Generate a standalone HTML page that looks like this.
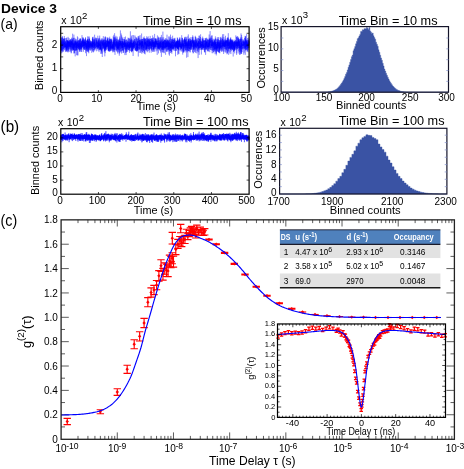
<!DOCTYPE html>
<html><head><meta charset="utf-8"><title>Device 3</title>
<style>html,body{margin:0;padding:0;background:#fff;}svg{display:block;font-family:'Liberation Sans', sans-serif;will-change:transform;}</style></head><body>
<svg width="464" height="469" viewBox="0 0 464 469" style="font-family:'Liberation Sans', sans-serif">
<rect x="0" y="0" width="464" height="469" fill="#fff"/>
<text x="1" y="13.2" font-size="13.6" font-weight="bold" textLength="56" lengthAdjust="spacingAndGlyphs">Device 3</text>
<text x="0.6" y="29.1" font-size="15" textLength="17" lengthAdjust="spacingAndGlyphs">(a)</text>
<text x="0.6" y="131.7" font-size="16" textLength="18.6" lengthAdjust="spacingAndGlyphs">(b)</text>
<text x="0.6" y="225.6" font-size="16" textLength="16.6" lengthAdjust="spacingAndGlyphs">(c)</text>
<polyline fill="none" stroke="#0000ff" stroke-width="0.26" stroke-linejoin="bevel" points="60.7,38.2 60.8,46.4 60.8,44.5 60.8,43.1 60.9,47.6 60.9,44.6 60.9,44.6 61.0,51.3 61.0,40.8 61.1,42.3 61.1,47.0 61.1,45.3 61.2,42.7 61.2,45.6 61.2,45.6 61.3,50.2 61.3,42.5 61.4,44.2 61.4,43.6 61.4,50.5 61.5,38.3 61.5,44.0 61.5,46.1 61.6,36.9 61.6,44.8 61.7,50.2 61.7,46.2 61.7,53.4 61.8,40.6 61.8,46.2 61.8,47.5 61.9,40.5 61.9,50.9 62.0,42.6 62.0,52.5 62.0,47.2 62.1,49.2 62.1,39.1 62.2,37.9 62.2,45.9 62.2,41.4 62.3,45.3 62.3,42.5 62.3,47.5 62.4,51.1 62.4,51.5 62.5,43.2 62.5,36.1 62.5,43.6 62.6,46.6 62.6,37.3 62.6,43.7 62.7,44.2 62.7,43.7 62.8,45.1 62.8,45.8 62.8,50.1 62.9,42.7 62.9,45.0 62.9,40.1 63.0,46.0 63.0,51.9 63.1,45.0 63.1,38.2 63.1,46.1 63.2,48.0 63.2,49.2 63.2,48.6 63.3,45.8 63.3,49.1 63.4,38.9 63.4,45.7 63.4,44.2 63.5,39.1 63.5,38.9 63.5,45.4 63.6,43.4 63.6,41.8 63.7,45.4 63.7,51.4 63.7,42.1 63.8,41.2 63.8,43.0 63.8,48.2 63.9,45.4 63.9,46.9 64.0,45.8 64.0,39.7 64.0,38.8 64.1,42.1 64.1,42.5 64.1,42.1 64.2,44.7 64.2,44.9 64.3,47.2 64.3,44.8 64.3,36.0 64.4,41.3 64.4,45.9 64.4,46.4 64.5,47.9 64.5,43.2 64.6,43.1 64.6,50.1 64.6,42.8 64.7,46.8 64.7,39.2 64.8,44.0 64.8,38.1 64.8,46.4 64.9,45.7 64.9,43.5 64.9,40.6 65.0,42.5 65.0,49.3 65.1,43.9 65.1,44.5 65.1,46.3 65.2,47.1 65.2,38.0 65.2,46.1 65.3,47.9 65.3,42.2 65.4,44.1 65.4,44.9 65.4,41.7 65.5,42.8 65.5,43.3 65.5,41.0 65.6,43.5 65.6,47.0 65.7,46.0 65.7,46.6 65.7,43.8 65.8,48.7 65.8,51.6 65.8,44.3 65.9,49.7 65.9,52.1 66.0,43.2 66.0,47.3 66.0,42.7 66.1,46.7 66.1,48.9 66.1,49.4 66.2,46.6 66.2,45.7 66.3,47.8 66.3,45.7 66.3,50.5 66.4,44.6 66.4,51.5 66.4,45.4 66.5,42.0 66.5,40.5 66.6,38.1 66.6,50.6 66.6,41.7 66.7,40.0 66.7,40.9 66.7,48.2 66.8,43.1 66.8,37.5 66.9,50.3 66.9,42.8 66.9,40.4 67.0,47.3 67.0,42.4 67.0,48.7 67.1,47.7 67.1,47.7 67.2,43.9 67.2,45.0 67.2,41.0 67.3,48.2 67.3,45.1 67.4,41.0 67.4,42.5 67.4,49.7 67.5,42.1 67.5,46.5 67.5,43.2 67.6,43.5 67.6,40.0 67.7,44.2 67.7,51.7 67.7,49.9 67.8,41.8 67.8,45.6 67.8,40.3 67.9,43.6 67.9,47.5 68.0,40.5 68.0,47.7 68.0,52.5 68.1,36.8 68.1,51.9 68.1,42.2 68.2,41.1 68.2,44.1 68.3,51.0 68.3,40.8 68.3,50.1 68.4,49.8 68.4,46.0 68.4,41.6 68.5,43.5 68.5,41.5 68.6,46.3 68.6,45.3 68.6,49.0 68.7,45.8 68.7,42.4 68.7,45.8 68.8,42.8 68.8,46.8 68.9,46.9 68.9,44.5 68.9,45.4 69.0,42.4 69.0,44.0 69.0,38.0 69.1,45.5 69.1,45.5 69.2,48.6 69.2,44.5 69.2,42.0 69.3,47.5 69.3,44.8 69.3,41.9 69.4,45.1 69.4,46.6 69.5,40.9 69.5,44.3 69.5,43.1 69.6,40.2 69.6,40.3 69.6,46.0 69.7,46.6 69.7,43.5 69.8,45.1 69.8,51.9 69.8,39.8 69.9,44.6 69.9,41.8 70.0,49.1 70.0,39.7 70.0,46.9 70.1,45.0 70.1,50.0 70.1,45.3 70.2,45.5 70.2,45.3 70.3,43.0 70.3,44.4 70.3,40.9 70.4,46.4 70.4,48.4 70.4,44.7 70.5,42.2 70.5,39.9 70.6,41.5 70.6,51.4 70.6,43.2 70.7,39.1 70.7,44.4 70.7,46.6 70.8,43.5 70.8,46.5 70.9,42.2 70.9,44.7 70.9,39.3 71.0,42.7 71.0,47.4 71.0,42.3 71.1,41.1 71.1,46.8 71.2,46.3 71.2,53.4 71.2,41.2 71.3,46.9 71.3,52.7 71.3,51.4 71.4,45.5 71.4,41.7 71.5,45.0 71.5,42.8 71.5,48.8 71.6,49.7 71.6,41.3 71.6,42.8 71.7,44.7 71.7,39.7 71.8,48.3 71.8,46.2 71.8,40.7 71.9,37.6 71.9,44.6 71.9,38.2 72.0,46.9 72.0,43.4 72.1,45.3 72.1,50.7 72.1,43.6 72.2,41.1 72.2,45.2 72.2,44.9 72.3,39.3 72.3,49.4 72.4,50.3 72.4,47.1 72.4,49.2 72.5,39.5 72.5,43.5 72.6,47.9 72.6,47.0 72.6,33.7 72.7,47.0 72.7,47.5 72.7,43.5 72.8,42.2 72.8,43.8 72.9,48.1 72.9,49.0 72.9,42.4 73.0,44.8 73.0,50.9 73.0,40.2 73.1,41.7 73.1,45.5 73.2,45.6 73.2,43.7 73.2,47.2 73.3,49.8 73.3,43.4 73.3,50.1 73.4,43.1 73.4,50.1 73.5,45.0 73.5,45.1 73.5,37.8 73.6,48.7 73.6,50.0 73.6,47.1 73.7,48.9 73.7,46.9 73.8,43.0 73.8,41.7 73.8,38.3 73.9,47.4 73.9,34.6 73.9,37.1 74.0,45.4 74.0,53.4 74.1,44.9 74.1,44.4 74.1,53.4 74.2,44.3 74.2,45.4 74.2,47.6 74.3,42.2 74.3,40.8 74.4,46.5 74.4,43.8 74.4,47.1 74.5,47.6 74.5,44.3 74.5,42.6 74.6,46.8 74.6,53.1 74.7,42.4 74.7,50.7 74.7,44.2 74.8,37.8 74.8,44.7 74.8,49.2 74.9,50.2 74.9,40.2 75.0,44.7 75.0,42.6 75.0,41.1 75.1,44.8 75.1,45.8 75.2,48.2 75.2,56.4 75.2,50.4 75.3,44.9 75.3,45.3 75.3,43.1 75.4,45.1 75.4,44.0 75.5,41.6 75.5,48.0 75.5,45.7 75.6,50.8 75.6,40.9 75.6,44.5 75.7,42.8 75.7,38.8 75.8,40.5 75.8,44.9 75.8,41.6 75.9,50.1 75.9,43.0 75.9,44.1 76.0,50.8 76.0,39.5 76.1,47.3 76.1,42.0 76.1,46.2 76.2,40.8 76.2,39.6 76.2,47.8 76.3,50.5 76.3,45.1 76.4,41.4 76.4,46.0 76.4,47.0 76.5,42.8 76.5,55.2 76.5,47.2 76.6,49.9 76.6,43.5 76.7,47.4 76.7,48.9 76.7,46.0 76.8,50.2 76.8,44.7 76.8,47.2 76.9,46.1 76.9,47.4 77.0,41.2 77.0,45.0 77.0,42.6 77.1,42.8 77.1,47.7 77.1,42.5 77.2,43.3 77.2,43.4 77.3,46.2 77.3,46.3 77.3,41.6 77.4,36.3 77.4,47.8 77.4,42.6 77.5,46.0 77.5,41.6 77.6,43.0 77.6,40.6 77.6,55.3 77.7,46.9 77.7,48.4 77.8,45.0 77.8,47.4 77.8,47.1 77.9,42.0 77.9,37.4 77.9,55.4 78.0,45.8 78.0,43.4 78.1,44.6 78.1,45.9 78.1,49.8 78.2,48.2 78.2,41.9 78.2,40.5 78.3,44.3 78.3,47.8 78.4,44.3 78.4,45.5 78.4,42.6 78.5,44.2 78.5,47.0 78.5,43.9 78.6,49.1 78.6,41.5 78.7,40.1 78.7,49.1 78.7,43.0 78.8,48.4 78.8,40.5 78.8,41.2 78.9,45.5 78.9,40.8 79.0,46.3 79.0,47.1 79.0,46.8 79.1,45.2 79.1,45.9 79.1,44.0 79.2,47.0 79.2,41.7 79.3,40.7 79.3,46.5 79.3,50.1 79.4,41.9 79.4,40.3 79.4,45.3 79.5,49.5 79.5,43.6 79.6,38.8 79.6,51.8 79.6,42.8 79.7,45.8 79.7,47.9 79.7,42.7 79.8,49.6 79.8,43.5 79.9,39.6 79.9,44.0 79.9,48.0 80.0,51.4 80.0,49.5 80.0,51.6 80.1,38.5 80.1,45.6 80.2,48.6 80.2,49.6 80.2,48.7 80.3,45.9 80.3,49.5 80.4,38.2 80.4,47.5 80.4,47.6 80.5,43.5 80.5,39.1 80.5,39.6 80.6,46.5 80.6,43.7 80.7,44.1 80.7,42.6 80.7,43.7 80.8,48.2 80.8,49.4 80.8,44.0 80.9,49.1 80.9,39.4 81.0,44.5 81.0,48.5 81.0,45.9 81.1,46.6 81.1,45.1 81.1,41.0 81.2,50.1 81.2,51.8 81.3,43.3 81.3,45.3 81.3,44.0 81.4,42.9 81.4,45.3 81.4,41.6 81.5,48.0 81.5,44.4 81.6,47.8 81.6,48.9 81.6,42.3 81.7,42.5 81.7,52.0 81.7,48.9 81.8,43.5 81.8,40.6 81.9,47.2 81.9,45.3 81.9,50.0 82.0,35.1 82.0,42.8 82.0,41.2 82.1,42.1 82.1,41.1 82.2,42.3 82.2,45.9 82.2,41.8 82.3,44.3 82.3,39.7 82.3,47.4 82.4,46.7 82.4,42.1 82.5,39.8 82.5,44.1 82.5,47.3 82.6,45.1 82.6,46.5 82.6,37.4 82.7,41.2 82.7,39.8 82.8,43.5 82.8,46.7 82.8,40.2 82.9,38.3 82.9,42.4 83.0,44.7 83.0,40.5 83.0,46.0 83.1,41.7 83.1,47.3 83.1,48.3 83.2,42.5 83.2,43.3 83.3,37.4 83.3,45.7 83.3,44.5 83.4,49.0 83.4,51.8 83.4,51.4 83.5,42.9 83.5,49.1 83.6,40.3 83.6,39.2 83.6,45.7 83.7,38.3 83.7,43.8 83.7,40.3 83.8,45.5 83.8,41.0 83.9,48.2 83.9,42.3 83.9,46.4 84.0,45.1 84.0,42.2 84.0,44.0 84.1,44.9 84.1,41.9 84.2,41.6 84.2,49.9 84.2,42.5 84.3,42.1 84.3,47.5 84.3,43.2 84.4,49.7 84.4,39.1 84.5,45.5 84.5,44.9 84.5,40.1 84.6,45.2 84.6,42.3 84.6,48.6 84.7,46.8 84.7,49.9 84.8,45.4 84.8,40.7 84.8,43.8 84.9,41.3 84.9,48.5 84.9,48.0 85.0,46.4 85.0,42.4 85.1,43.3 85.1,44.7 85.1,42.3 85.2,45.2 85.2,44.7 85.2,39.7 85.3,46.9 85.3,43.9 85.4,38.5 85.4,44.2 85.4,41.9 85.5,46.9 85.5,37.2 85.5,53.2 85.6,49.0 85.6,48.6 85.7,38.5 85.7,43.3 85.7,45.6 85.8,49.5 85.8,43.2 85.9,44.2 85.9,47.3 85.9,50.3 86.0,48.8 86.0,43.8 86.0,43.4 86.1,44.4 86.1,45.2 86.2,51.4 86.2,44.4 86.2,48.6 86.3,44.5 86.3,42.9 86.3,47.2 86.4,48.5 86.4,40.8 86.5,43.3 86.5,47.1 86.5,56.1 86.6,44.8 86.6,42.2 86.6,40.4 86.7,47.2 86.7,47.1 86.8,46.3 86.8,41.4 86.8,49.1 86.9,45.1 86.9,48.2 86.9,43.6 87.0,50.6 87.0,43.2 87.1,46.5 87.1,45.5 87.1,42.6 87.2,40.3 87.2,51.1 87.2,40.8 87.3,42.5 87.3,45.8 87.4,39.3 87.4,43.9 87.4,39.7 87.5,46.9 87.5,47.9 87.5,40.0 87.6,36.4 87.6,42.2 87.7,41.2 87.7,46.4 87.7,49.7 87.8,45.5 87.8,38.9 87.8,51.7 87.9,46.5 87.9,51.9 88.0,44.2 88.0,41.3 88.0,49.4 88.1,46.2 88.1,39.6 88.1,45.0 88.2,49.4 88.2,49.6 88.3,52.3 88.3,41.7 88.3,47.5 88.4,40.6 88.4,41.3 88.5,47.1 88.5,46.6 88.5,41.7 88.6,44.1 88.6,43.6 88.6,50.9 88.7,41.2 88.7,48.0 88.8,53.3 88.8,47.0 88.8,43.0 88.9,36.6 88.9,46.1 88.9,49.7 89.0,36.5 89.0,44.0 89.1,45.6 89.1,48.7 89.1,48.5 89.2,39.0 89.2,45.7 89.2,46.7 89.3,46.6 89.3,38.7 89.4,46.9 89.4,42.2 89.4,43.6 89.5,43.7 89.5,48.0 89.5,42.1 89.6,38.5 89.6,44.8 89.7,48.1 89.7,49.6 89.7,43.9 89.8,45.7 89.8,45.0 89.8,44.6 89.9,50.3 89.9,41.7 90.0,43.7 90.0,44.9 90.0,43.7 90.1,41.1 90.1,44.4 90.1,47.9 90.2,40.2 90.2,46.3 90.3,47.4 90.3,50.6 90.3,44.6 90.4,48.6 90.4,46.6 90.4,42.9 90.5,44.5 90.5,40.8 90.6,43.5 90.6,46.2 90.6,45.9 90.7,46.6 90.7,42.2 90.7,44.5 90.8,46.2 90.8,41.4 90.9,44.3 90.9,46.4 90.9,50.4 91.0,43.0 91.0,43.7 91.1,44.4 91.1,46.3 91.1,47.8 91.2,45.5 91.2,43.7 91.2,45.1 91.3,45.2 91.3,46.4 91.4,43.3 91.4,43.7 91.4,47.5 91.5,41.7 91.5,41.6 91.5,41.5 91.6,45.1 91.6,45.4 91.7,49.0 91.7,41.8 91.7,52.8 91.8,46.1 91.8,45.9 91.8,41.4 91.9,44.6 91.9,48.3 92.0,50.1 92.0,47.4 92.0,44.2 92.1,44.4 92.1,45.4 92.1,47.2 92.2,45.4 92.2,40.8 92.3,48.8 92.3,44.5 92.3,38.5 92.4,42.5 92.4,46.4 92.4,42.1 92.5,47.5 92.5,44.6 92.6,38.7 92.6,37.4 92.6,51.1 92.7,42.0 92.7,37.2 92.7,46.7 92.8,43.6 92.8,38.9 92.9,46.5 92.9,42.9 92.9,44.9 93.0,52.0 93.0,43.3 93.0,45.3 93.1,41.1 93.1,36.7 93.2,42.0 93.2,46.0 93.2,42.9 93.3,43.9 93.3,40.7 93.3,50.1 93.4,49.1 93.4,52.4 93.5,42.3 93.5,44.7 93.5,47.1 93.6,47.4 93.6,46.8 93.7,48.2 93.7,45.9 93.7,46.5 93.8,39.3 93.8,43.4 93.8,47.8 93.9,46.9 93.9,40.1 94.0,42.9 94.0,43.5 94.0,41.9 94.1,38.6 94.1,49.3 94.1,47.5 94.2,51.3 94.2,42.7 94.3,46.1 94.3,47.2 94.3,47.5 94.4,42.0 94.4,45.2 94.4,46.7 94.5,39.8 94.5,48.6 94.6,49.5 94.6,34.7 94.6,46.0 94.7,46.7 94.7,47.4 94.7,45.2 94.8,41.6 94.8,41.8 94.9,42.6 94.9,45.7 94.9,50.3 95.0,43.6 95.0,38.8 95.0,40.6 95.1,45.3 95.1,41.6 95.2,46.1 95.2,44.8 95.2,49.3 95.3,45.8 95.3,44.1 95.3,45.3 95.4,41.7 95.4,37.5 95.5,39.6 95.5,45.8 95.5,47.4 95.6,47.1 95.6,48.4 95.6,44.5 95.7,43.0 95.7,43.9 95.8,43.9 95.8,44.0 95.8,45.1 95.9,47.5 95.9,38.1 95.9,40.6 96.0,48.1 96.0,48.1 96.1,46.9 96.1,44.5 96.1,39.8 96.2,40.8 96.2,40.6 96.3,40.5 96.3,40.4 96.3,41.8 96.4,42.9 96.4,45.1 96.4,51.3 96.5,45.1 96.5,37.8 96.6,46.7 96.6,47.0 96.6,40.8 96.7,44.3 96.7,46.5 96.7,38.7 96.8,42.3 96.8,41.7 96.9,46.8 96.9,42.7 96.9,43.2 97.0,41.7 97.0,40.3 97.0,40.3 97.1,44.0 97.1,42.0 97.2,49.0 97.2,42.2 97.2,42.0 97.3,46.1 97.3,47.6 97.3,44.9 97.4,49.3 97.4,43.3 97.5,43.5 97.5,48.2 97.5,44.4 97.6,40.6 97.6,40.6 97.6,40.8 97.7,45.2 97.7,45.9 97.8,46.1 97.8,42.4 97.8,35.7 97.9,39.3 97.9,38.6 97.9,39.5 98.0,50.8 98.0,45.4 98.1,46.3 98.1,39.9 98.1,38.2 98.2,47.2 98.2,44.5 98.2,42.5 98.3,46.5 98.3,47.0 98.4,47.2 98.4,41.3 98.4,48.1 98.5,40.3 98.5,44.3 98.5,41.8 98.6,38.7 98.6,47.2 98.7,47.7 98.7,43.0 98.7,48.6 98.8,47.4 98.8,45.1 98.9,44.0 98.9,49.4 98.9,46.1 99.0,42.4 99.0,39.5 99.0,52.1 99.1,39.7 99.1,41.3 99.2,48.8 99.2,50.2 99.2,43.0 99.3,46.2 99.3,44.1 99.3,41.4 99.4,46.0 99.4,44.0 99.5,42.8 99.5,41.3 99.5,37.9 99.6,38.2 99.6,43.7 99.6,45.5 99.7,35.6 99.7,42.2 99.8,43.0 99.8,48.8 99.8,41.7 99.9,47.6 99.9,46.4 99.9,49.7 100.0,46.6 100.0,44.4 100.1,50.3 100.1,48.0 100.1,44.9 100.2,49.4 100.2,49.4 100.2,47.8 100.3,50.0 100.3,42.3 100.4,48.4 100.4,41.7 100.4,41.1 100.5,49.2 100.5,44.5 100.5,46.4 100.6,48.9 100.6,45.9 100.7,45.5 100.7,41.9 100.7,40.7 100.8,48.8 100.8,46.2 100.8,42.6 100.9,40.2 100.9,53.9 101.0,39.8 101.0,45.3 101.0,38.8 101.1,46.2 101.1,47.8 101.1,44.5 101.2,40.2 101.2,44.5 101.3,53.6 101.3,42.0 101.3,50.8 101.4,48.4 101.4,49.1 101.5,51.6 101.5,49.4 101.5,48.4 101.6,47.0 101.6,44.8 101.6,45.9 101.7,50.3 101.7,45.3 101.8,40.9 101.8,41.0 101.8,44.1 101.9,42.3 101.9,41.2 101.9,39.4 102.0,38.2 102.0,45.9 102.1,45.7 102.1,39.0 102.1,38.7 102.2,38.8 102.2,53.6 102.2,45.5 102.3,57.0 102.3,41.8 102.4,44.4 102.4,44.4 102.4,45.2 102.5,39.7 102.5,45.7 102.5,40.7 102.6,42.5 102.6,43.3 102.7,42.9 102.7,44.2 102.7,48.8 102.8,41.9 102.8,41.9 102.8,45.2 102.9,41.8 102.9,41.2 103.0,49.5 103.0,45.2 103.0,46.3 103.1,48.1 103.1,43.4 103.1,47.8 103.2,46.3 103.2,43.7 103.3,43.3 103.3,43.4 103.3,36.1 103.4,46.6 103.4,43.7 103.4,49.2 103.5,42.8 103.5,40.2 103.6,40.0 103.6,47.1 103.6,45.7 103.7,39.8 103.7,45.0 103.7,41.0 103.8,48.3 103.8,39.4 103.9,40.7 103.9,42.9 103.9,47.7 104.0,45.2 104.0,44.1 104.1,43.6 104.1,45.0 104.1,45.5 104.2,43.9 104.2,39.3 104.2,52.3 104.3,49.9 104.3,50.5 104.4,47.2 104.4,51.3 104.4,42.5 104.5,44.3 104.5,45.6 104.5,47.2 104.6,44.0 104.6,44.0 104.7,43.4 104.7,47.4 104.7,42.2 104.8,50.2 104.8,39.9 104.8,56.4 104.9,46.9 104.9,49.2 105.0,41.6 105.0,50.3 105.0,37.7 105.1,50.5 105.1,36.9 105.1,42.9 105.2,44.5 105.2,43.0 105.3,36.3 105.3,41.2 105.3,53.1 105.4,40.1 105.4,43.7 105.4,50.8 105.5,41.7 105.5,49.2 105.6,43.9 105.6,43.7 105.6,47.1 105.7,42.2 105.7,48.5 105.7,43.9 105.8,46.7 105.8,45.3 105.9,37.3 105.9,44.2 105.9,48.8 106.0,45.1 106.0,47.6 106.0,44.5 106.1,44.0 106.1,44.3 106.2,44.3 106.2,46.7 106.2,42.9 106.3,40.6 106.3,47.0 106.3,44.9 106.4,44.4 106.4,39.9 106.5,40.5 106.5,47.4 106.5,44.4 106.6,50.3 106.6,48.3 106.7,44.6 106.7,42.2 106.7,41.0 106.8,45.8 106.8,49.8 106.8,43.1 106.9,45.3 106.9,43.0 107.0,44.0 107.0,41.9 107.0,42.1 107.1,41.4 107.1,46.4 107.1,40.8 107.2,46.5 107.2,44.3 107.3,37.5 107.3,43.3 107.3,49.1 107.4,38.9 107.4,40.8 107.4,40.3 107.5,43.9 107.5,43.3 107.6,45.5 107.6,47.3 107.6,38.8 107.7,46.0 107.7,46.5 107.7,46.3 107.8,37.5 107.8,41.3 107.9,46.0 107.9,44.8 107.9,42.7 108.0,41.3 108.0,50.8 108.0,41.2 108.1,45.5 108.1,47.2 108.2,46.1 108.2,41.6 108.2,37.9 108.3,44.1 108.3,42.5 108.3,47.7 108.4,42.8 108.4,41.5 108.5,50.3 108.5,46.6 108.5,41.6 108.6,51.3 108.6,46.1 108.6,42.3 108.7,51.1 108.7,46.1 108.8,44.4 108.8,41.2 108.8,49.5 108.9,40.4 108.9,43.5 108.9,40.1 109.0,40.2 109.0,43.3 109.1,42.8 109.1,51.3 109.1,49.8 109.2,48.5 109.2,46.0 109.3,41.1 109.3,51.4 109.3,45.9 109.4,49.7 109.4,50.6 109.4,39.0 109.5,44.3 109.5,38.4 109.6,40.1 109.6,48.1 109.6,51.7 109.7,36.7 109.7,46.2 109.7,49.0 109.8,42.0 109.8,44.1 109.9,47.2 109.9,45.9 109.9,44.0 110.0,44.3 110.0,41.8 110.0,46.0 110.1,45.9 110.1,42.3 110.2,43.4 110.2,40.5 110.2,45.6 110.3,45.0 110.3,49.0 110.3,38.9 110.4,49.9 110.4,43.9 110.5,48.0 110.5,43.3 110.5,41.8 110.6,50.9 110.6,45.4 110.6,51.3 110.7,39.3 110.7,46.3 110.8,50.6 110.8,47.3 110.8,39.6 110.9,39.0 110.9,39.8 110.9,47.6 111.0,45.2 111.0,38.4 111.1,47.4 111.1,45.9 111.1,48.3 111.2,49.1 111.2,40.0 111.2,42.2 111.3,42.9 111.3,42.4 111.4,40.7 111.4,38.9 111.4,44.7 111.5,45.9 111.5,48.5 111.5,40.5 111.6,46.6 111.6,50.3 111.7,45.7 111.7,44.5 111.7,41.5 111.8,40.8 111.8,47.4 111.9,47.7 111.9,45.9 111.9,49.2 112.0,45.0 112.0,42.9 112.0,44.5 112.1,50.8 112.1,49.2 112.2,39.7 112.2,48.5 112.2,41.8 112.3,42.2 112.3,45.9 112.3,48.4 112.4,43.8 112.4,48.0 112.5,45.3 112.5,44.2 112.5,47.4 112.6,45.5 112.6,45.8 112.6,49.3 112.7,45.4 112.7,47.1 112.8,51.6 112.8,45.9 112.8,45.7 112.9,46.9 112.9,52.5 112.9,41.7 113.0,42.0 113.0,42.2 113.1,43.4 113.1,49.4 113.1,44.2 113.2,48.2 113.2,36.3 113.2,46.6 113.3,42.1 113.3,50.5 113.4,49.1 113.4,46.7 113.4,42.0 113.5,42.5 113.5,43.5 113.5,51.7 113.6,40.3 113.6,48.2 113.7,38.5 113.7,37.5 113.7,41.5 113.8,40.9 113.8,49.4 113.8,34.8 113.9,43.8 113.9,40.8 114.0,47.9 114.0,44.9 114.0,49.2 114.1,45.5 114.1,44.6 114.1,43.7 114.2,39.3 114.2,42.8 114.3,43.7 114.3,44.5 114.3,37.0 114.4,46.8 114.4,40.1 114.5,52.1 114.5,48.0 114.5,43.1 114.6,45.2 114.6,33.2 114.6,34.8 114.7,50.4 114.7,48.7 114.8,45.2 114.8,38.0 114.8,40.3 114.9,43.4 114.9,50.0 114.9,47.8 115.0,54.9 115.0,50.5 115.1,43.0 115.1,41.6 115.1,49.6 115.2,44.2 115.2,38.4 115.2,44.0 115.3,45.8 115.3,42.3 115.4,42.6 115.4,44.3 115.4,46.7 115.5,46.2 115.5,44.3 115.5,46.7 115.6,39.5 115.6,41.2 115.7,40.5 115.7,36.9 115.7,38.6 115.8,39.2 115.8,43.2 115.8,45.3 115.9,35.8 115.9,47.2 116.0,47.0 116.0,47.9 116.0,43.8 116.1,43.0 116.1,40.7 116.1,45.5 116.2,51.2 116.2,43.4 116.3,40.9 116.3,44.5 116.3,45.1 116.4,42.5 116.4,39.2 116.4,44.9 116.5,50.0 116.5,46.8 116.6,45.2 116.6,51.5 116.6,41.7 116.7,47.5 116.7,42.7 116.7,43.9 116.8,45.8 116.8,38.4 116.9,46.8 116.9,47.2 116.9,43.5 117.0,41.4 117.0,44.6 117.1,48.4 117.1,42.0 117.1,42.3 117.2,36.7 117.2,45.5 117.2,43.8 117.3,46.8 117.3,50.3 117.4,44.3 117.4,41.4 117.4,48.5 117.5,47.2 117.5,49.1 117.5,39.5 117.6,47.0 117.6,42.4 117.7,47.9 117.7,44.3 117.7,47.0 117.8,53.6 117.8,44.3 117.8,42.6 117.9,52.6 117.9,45.3 118.0,46.3 118.0,48.7 118.0,45.6 118.1,52.0 118.1,43.7 118.1,40.1 118.2,49.4 118.2,44.9 118.3,39.2 118.3,44.2 118.3,46.6 118.4,48.1 118.4,44.0 118.4,45.1 118.5,42.2 118.5,50.4 118.6,40.5 118.6,46.2 118.6,42.2 118.7,47.4 118.7,49.6 118.7,46.8 118.8,48.3 118.8,46.1 118.9,42.2 118.9,40.5 118.9,43.9 119.0,46.7 119.0,46.4 119.0,42.4 119.1,40.3 119.1,45.9 119.2,45.1 119.2,47.5 119.2,43.8 119.3,41.0 119.3,55.7 119.3,43.7 119.4,46.7 119.4,53.5 119.5,43.4 119.5,45.0 119.5,43.2 119.6,49.8 119.6,36.5 119.7,44.2 119.7,45.9 119.7,38.8 119.8,42.1 119.8,41.5 119.8,40.2 119.9,52.5 119.9,38.3 120.0,46.0 120.0,43.5 120.0,41.1 120.1,47.3 120.1,43.4 120.1,41.7 120.2,44.8 120.2,42.7 120.3,50.8 120.3,49.2 120.3,49.0 120.4,43.2 120.4,30.4 120.4,43.6 120.5,45.2 120.5,44.9 120.6,40.9 120.6,41.9 120.6,49.0 120.7,40.8 120.7,44.7 120.7,41.5 120.8,52.3 120.8,50.6 120.9,42.4 120.9,51.5 120.9,43.1 121.0,43.3 121.0,44.1 121.0,43.3 121.1,43.6 121.1,42.9 121.2,46.2 121.2,44.7 121.2,33.5 121.3,40.3 121.3,42.3 121.3,43.1 121.4,47.4 121.4,43.8 121.5,45.6 121.5,41.0 121.5,48.1 121.6,53.6 121.6,46.8 121.6,42.0 121.7,35.3 121.7,40.7 121.8,48.4 121.8,45.5 121.8,48.3 121.9,45.3 121.9,48.1 121.9,50.9 122.0,42.9 122.0,43.9 122.1,45.3 122.1,43.3 122.1,36.9 122.2,44.2 122.2,46.1 122.3,41.3 122.3,50.9 122.3,41.8 122.4,47.6 122.4,47.7 122.4,44.2 122.5,38.3 122.5,47.5 122.6,41.0 122.6,43.2 122.6,49.9 122.7,41.1 122.7,47.8 122.7,50.2 122.8,47.6 122.8,47.4 122.9,42.4 122.9,47.4 122.9,38.9 123.0,43.8 123.0,47.4 123.0,47.8 123.1,43.8 123.1,52.4 123.2,52.9 123.2,48.0 123.2,42.2 123.3,43.9 123.3,44.5 123.3,45.4 123.4,52.9 123.4,45.9 123.5,51.4 123.5,41.4 123.5,44.7 123.6,45.0 123.6,43.1 123.6,43.4 123.7,43.7 123.7,43.3 123.8,46.9 123.8,49.7 123.8,43.3 123.9,39.1 123.9,40.8 123.9,45.4 124.0,42.3 124.0,46.3 124.1,43.2 124.1,46.9 124.1,44.1 124.2,37.0 124.2,41.7 124.2,38.9 124.3,47.6 124.3,47.2 124.4,44.8 124.4,42.5 124.4,45.4 124.5,40.8 124.5,46.7 124.5,39.4 124.6,40.9 124.6,48.9 124.7,42.4 124.7,45.5 124.7,40.7 124.8,46.7 124.8,43.4 124.9,42.6 124.9,55.1 124.9,51.8 125.0,44.1 125.0,45.1 125.0,40.8 125.1,43.8 125.1,49.5 125.2,43.4 125.2,47.5 125.2,45.5 125.3,46.6 125.3,43.3 125.3,50.1 125.4,48.9 125.4,53.1 125.5,36.5 125.5,48.4 125.5,47.9 125.6,49.0 125.6,47.1 125.6,46.3 125.7,42.3 125.7,44.0 125.8,43.4 125.8,46.9 125.8,44.9 125.9,40.0 125.9,44.7 125.9,43.5 126.0,52.4 126.0,42.7 126.1,43.6 126.1,39.7 126.1,55.1 126.2,44.5 126.2,45.1 126.2,44.3 126.3,47.1 126.3,43.9 126.4,42.0 126.4,44.5 126.4,45.8 126.5,45.5 126.5,46.2 126.5,44.5 126.6,47.4 126.6,52.3 126.7,39.5 126.7,51.4 126.7,45.2 126.8,49.7 126.8,45.8 126.8,48.4 126.9,44.9 126.9,47.9 127.0,49.7 127.0,43.6 127.0,39.7 127.1,43.4 127.1,44.3 127.1,48.8 127.2,45.1 127.2,43.1 127.3,47.3 127.3,41.3 127.3,44.9 127.4,43.4 127.4,46.7 127.5,46.6 127.5,43.9 127.5,43.3 127.6,43.5 127.6,48.7 127.6,47.6 127.7,44.9 127.7,51.9 127.8,40.8 127.8,43.6 127.8,44.7 127.9,47.5 127.9,41.7 127.9,45.9 128.0,37.6 128.0,43.3 128.1,50.5 128.1,42.0 128.1,46.8 128.2,46.8 128.2,45.7 128.2,45.3 128.3,43.9 128.3,41.9 128.4,43.1 128.4,47.6 128.4,50.0 128.5,47.9 128.5,43.5 128.5,41.5 128.6,38.0 128.6,50.0 128.7,44.5 128.7,45.7 128.7,46.4 128.8,44.3 128.8,45.8 128.8,45.9 128.9,47.3 128.9,43.3 129.0,40.8 129.0,38.6 129.0,46.9 129.1,48.9 129.1,45.9 129.1,48.0 129.2,40.9 129.2,48.0 129.3,44.6 129.3,50.0 129.3,46.2 129.4,44.1 129.4,39.0 129.4,47.5 129.5,43.4 129.5,52.8 129.6,49.5 129.6,48.0 129.6,46.8 129.7,43.2 129.7,42.5 129.7,51.0 129.8,42.8 129.8,49.1 129.9,37.9 129.9,43.7 129.9,44.3 130.0,45.5 130.0,45.0 130.1,44.9 130.1,47.5 130.1,42.0 130.2,43.8 130.2,42.0 130.2,45.1 130.3,42.3 130.3,47.8 130.4,31.3 130.4,47.6 130.4,46.6 130.5,41.2 130.5,40.2 130.5,47.9 130.6,51.2 130.6,50.2 130.7,48.7 130.7,47.9 130.7,45.5 130.8,41.0 130.8,40.8 130.8,47.2 130.9,42.8 130.9,41.5 131.0,39.5 131.0,45.5 131.0,47.7 131.1,42.0 131.1,39.1 131.1,46.9 131.2,37.5 131.2,38.3 131.3,45.9 131.3,50.9 131.3,47.2 131.4,46.2 131.4,42.9 131.4,51.3 131.5,35.6 131.5,36.0 131.6,47.6 131.6,52.0 131.6,45.5 131.7,43.3 131.7,39.8 131.7,42.2 131.8,45.7 131.8,52.4 131.9,42.9 131.9,41.7 131.9,46.1 132.0,43.9 132.0,44.1 132.0,45.8 132.1,49.3 132.1,43.6 132.2,50.3 132.2,39.6 132.2,48.3 132.3,43.0 132.3,47.7 132.3,43.5 132.4,45.7 132.4,42.9 132.5,47.9 132.5,51.1 132.5,46.0 132.6,46.3 132.6,50.6 132.6,47.5 132.7,51.3 132.7,44.5 132.8,46.3 132.8,44.9 132.8,35.0 132.9,44.3 132.9,43.5 133.0,42.5 133.0,45.4 133.0,47.2 133.1,41.6 133.1,41.0 133.1,56.0 133.2,45.5 133.2,46.2 133.3,47.1 133.3,40.2 133.3,47.0 133.4,41.6 133.4,47.0 133.4,46.5 133.5,42.1 133.5,47.7 133.6,45.5 133.6,49.1 133.6,48.3 133.7,42.2 133.7,42.7 133.7,49.3 133.8,49.4 133.8,35.2 133.9,47.4 133.9,48.3 133.9,43.0 134.0,47.9 134.0,46.3 134.0,41.5 134.1,41.1 134.1,45.7 134.2,39.8 134.2,45.5 134.2,45.9 134.3,45.0 134.3,46.1 134.3,42.9 134.4,43.9 134.4,47.9 134.5,44.3 134.5,47.0 134.5,47.1 134.6,45.5 134.6,41.1 134.6,43.9 134.7,40.1 134.7,39.0 134.8,45.1 134.8,47.2 134.8,47.9 134.9,43.9 134.9,41.6 134.9,38.9 135.0,49.9 135.0,41.4 135.1,40.9 135.1,35.6 135.1,44.2 135.2,45.0 135.2,50.7 135.2,47.9 135.3,49.1 135.3,48.8 135.4,48.3 135.4,50.8 135.4,45.3 135.5,43.4 135.5,42.0 135.6,45.3 135.6,40.9 135.6,40.8 135.7,50.7 135.7,45.9 135.7,49.7 135.8,48.6 135.8,44.2 135.9,45.4 135.9,39.3 135.9,37.1 136.0,43.3 136.0,45.6 136.0,45.4 136.1,44.9 136.1,42.7 136.2,47.7 136.2,42.6 136.2,45.8 136.3,40.8 136.3,39.7 136.3,38.2 136.4,45.5 136.4,50.0 136.5,51.3 136.5,46.0 136.5,50.3 136.6,51.1 136.6,46.2 136.6,48.6 136.7,42.2 136.7,37.5 136.8,45.7 136.8,43.6 136.8,50.8 136.9,44.1 136.9,47.5 136.9,49.0 137.0,51.9 137.0,38.7 137.1,51.0 137.1,49.4 137.1,44.8 137.2,43.7 137.2,43.7 137.2,44.4 137.3,48.2 137.3,41.9 137.4,44.1 137.4,50.3 137.4,38.7 137.5,46.1 137.5,41.2 137.5,50.3 137.6,49.3 137.6,47.0 137.7,47.4 137.7,40.9 137.7,51.0 137.8,44.2 137.8,48.6 137.8,42.8 137.9,44.0 137.9,46.9 138.0,36.3 138.0,44.9 138.0,40.6 138.1,49.8 138.1,45.2 138.2,44.4 138.2,44.2 138.2,46.1 138.3,47.9 138.3,56.5 138.3,46.9 138.4,48.2 138.4,45.7 138.5,41.5 138.5,36.3 138.5,42.7 138.6,40.9 138.6,42.3 138.6,42.0 138.7,42.5 138.7,45.7 138.8,46.0 138.8,43.5 138.8,37.9 138.9,41.7 138.9,38.6 138.9,49.6 139.0,43.7 139.0,43.2 139.1,42.7 139.1,49.9 139.1,51.7 139.2,52.8 139.2,46.2 139.2,35.7 139.3,43.8 139.3,49.3 139.4,43.4 139.4,45.8 139.4,44.0 139.5,46.4 139.5,49.6 139.5,46.7 139.6,41.9 139.6,43.5 139.7,40.0 139.7,48.7 139.7,40.6 139.8,44.4 139.8,43.9 139.8,39.9 139.9,45.1 139.9,43.6 140.0,42.1 140.0,42.1 140.0,41.5 140.1,39.6 140.1,42.5 140.1,46.2 140.2,35.2 140.2,44.6 140.3,43.1 140.3,47.4 140.3,52.8 140.4,47.5 140.4,44.3 140.4,42.5 140.5,44.4 140.5,41.5 140.6,40.7 140.6,40.7 140.6,44.5 140.7,44.2 140.7,45.3 140.8,47.8 140.8,39.0 140.8,49.2 140.9,44.8 140.9,43.6 140.9,52.6 141.0,41.6 141.0,45.8 141.1,43.6 141.1,45.7 141.1,50.3 141.2,43.7 141.2,44.1 141.2,40.7 141.3,42.7 141.3,50.9 141.4,40.3 141.4,41.4 141.4,41.5 141.5,42.6 141.5,47.2 141.5,42.4 141.6,45.9 141.6,33.5 141.7,45.4 141.7,48.7 141.7,45.8 141.8,39.0 141.8,46.6 141.8,53.8 141.9,38.9 141.9,43.2 142.0,46.4 142.0,41.7 142.0,48.0 142.1,48.9 142.1,40.8 142.1,46.4 142.2,42.4 142.2,44.4 142.3,41.3 142.3,44.1 142.3,52.3 142.4,41.9 142.4,46.3 142.4,41.1 142.5,44.0 142.5,39.0 142.6,45.7 142.6,52.3 142.6,45.7 142.7,42.5 142.7,45.8 142.7,46.3 142.8,38.9 142.8,45.1 142.9,40.5 142.9,43.9 142.9,50.0 143.0,48.1 143.0,45.7 143.0,43.3 143.1,47.6 143.1,49.9 143.2,48.3 143.2,46.5 143.2,47.9 143.3,46.7 143.3,37.4 143.4,43.4 143.4,47.6 143.4,44.5 143.5,38.5 143.5,42.0 143.5,44.9 143.6,49.7 143.6,51.0 143.7,45.8 143.7,44.9 143.7,50.7 143.8,49.6 143.8,44.7 143.8,52.9 143.9,51.1 143.9,44.7 144.0,42.4 144.0,43.3 144.0,40.7 144.1,38.5 144.1,41.1 144.1,45.5 144.2,36.4 144.2,38.1 144.3,40.9 144.3,47.6 144.3,42.9 144.4,52.5 144.4,45.7 144.4,54.0 144.5,46.1 144.5,40.6 144.6,44.4 144.6,38.3 144.6,44.5 144.7,44.1 144.7,45.6 144.7,42.4 144.8,44.6 144.8,39.9 144.9,38.3 144.9,43.0 144.9,48.7 145.0,42.3 145.0,39.3 145.0,41.9 145.1,43.3 145.1,40.8 145.2,39.4 145.2,54.4 145.2,38.6 145.3,41.5 145.3,42.6 145.3,46.5 145.4,43.5 145.4,42.1 145.5,50.1 145.5,41.6 145.5,44.1 145.6,38.8 145.6,41.8 145.6,45.1 145.7,44.2 145.7,42.0 145.8,43.8 145.8,42.3 145.8,47.1 145.9,49.2 145.9,46.6 146.0,49.9 146.0,47.4 146.0,43.0 146.1,50.6 146.1,49.1 146.1,41.6 146.2,46.4 146.2,44.4 146.3,49.1 146.3,48.4 146.3,45.6 146.4,38.2 146.4,42.7 146.4,50.8 146.5,42.7 146.5,40.9 146.6,41.8 146.6,49.1 146.6,44.7 146.7,36.3 146.7,48.0 146.7,43.1 146.8,47.3 146.8,49.2 146.9,46.0 146.9,40.5 146.9,40.0 147.0,47.8 147.0,46.2 147.0,47.8 147.1,52.3 147.1,42.1 147.2,38.5 147.2,38.7 147.2,46.2 147.3,39.3 147.3,40.2 147.3,45.7 147.4,44.4 147.4,45.8 147.5,43.5 147.5,37.5 147.5,47.9 147.6,48.9 147.6,41.0 147.6,44.1 147.7,51.6 147.7,48.2 147.8,47.5 147.8,46.7 147.8,43.1 147.9,40.6 147.9,45.0 147.9,43.8 148.0,47.2 148.0,40.5 148.1,39.2 148.1,45.3 148.1,47.2 148.2,36.4 148.2,40.8 148.2,47.7 148.3,50.8 148.3,45.5 148.4,39.8 148.4,46.4 148.4,45.3 148.5,46.2 148.5,41.8 148.6,39.0 148.6,49.1 148.6,45.4 148.7,45.1 148.7,46.7 148.7,48.9 148.8,41.2 148.8,43.7 148.9,41.6 148.9,38.5 148.9,45.7 149.0,42.2 149.0,45.8 149.0,44.6 149.1,43.0 149.1,44.9 149.2,50.1 149.2,38.6 149.2,43.7 149.3,48.7 149.3,52.7 149.3,44.4 149.4,41.8 149.4,40.4 149.5,40.0 149.5,45.7 149.5,41.8 149.6,50.2 149.6,43.7 149.6,40.8 149.7,46.6 149.7,44.9 149.8,43.9 149.8,43.8 149.8,38.6 149.9,48.4 149.9,39.2 149.9,49.1 150.0,46.8 150.0,47.3 150.1,44.6 150.1,46.2 150.1,42.4 150.2,44.2 150.2,35.9 150.2,42.8 150.3,45.3 150.3,42.9 150.4,42.0 150.4,45.0 150.4,48.5 150.5,47.4 150.5,43.6 150.5,41.1 150.6,42.5 150.6,44.6 150.7,42.1 150.7,46.2 150.7,43.3 150.8,38.9 150.8,40.0 150.8,39.1 150.9,45.7 150.9,43.5 151.0,48.1 151.0,40.8 151.0,45.9 151.1,49.3 151.1,46.2 151.2,43.3 151.2,52.7 151.2,49.7 151.3,40.5 151.3,43.9 151.3,44.5 151.4,50.4 151.4,38.3 151.5,40.4 151.5,41.6 151.5,48.5 151.6,42.1 151.6,39.9 151.6,45.6 151.7,45.3 151.7,46.1 151.8,42.0 151.8,45.2 151.8,45.5 151.9,49.9 151.9,50.7 151.9,40.7 152.0,38.3 152.0,41.0 152.1,38.9 152.1,46.4 152.1,44.5 152.2,42.9 152.2,45.0 152.2,38.0 152.3,49.4 152.3,46.5 152.4,45.7 152.4,47.0 152.4,41.1 152.5,51.9 152.5,40.0 152.5,40.9 152.6,43.1 152.6,39.0 152.7,35.4 152.7,43.6 152.7,41.5 152.8,42.8 152.8,42.3 152.8,46.2 152.9,47.0 152.9,42.0 153.0,46.3 153.0,40.7 153.0,41.2 153.1,46.0 153.1,42.9 153.1,44.0 153.2,44.8 153.2,39.9 153.3,44.1 153.3,43.4 153.3,51.6 153.4,42.0 153.4,49.7 153.4,45.7 153.5,38.1 153.5,37.4 153.6,45.7 153.6,49.0 153.6,42.7 153.7,45.8 153.7,42.9 153.8,49.4 153.8,40.0 153.8,38.3 153.9,49.7 153.9,47.2 153.9,46.9 154.0,41.4 154.0,51.7 154.1,43.4 154.1,45.1 154.1,47.2 154.2,41.6 154.2,51.7 154.2,49.4 154.3,47.2 154.3,41.5 154.4,45.5 154.4,47.4 154.4,42.4 154.5,46.1 154.5,46.7 154.5,45.4 154.6,42.9 154.6,33.9 154.7,48.3 154.7,43.1 154.7,44.8 154.8,45.2 154.8,38.4 154.8,41.2 154.9,41.6 154.9,45.9 155.0,47.4 155.0,43.0 155.0,45.2 155.1,46.3 155.1,41.6 155.1,48.7 155.2,46.9 155.2,41.1 155.3,44.5 155.3,41.6 155.3,47.4 155.4,41.5 155.4,46.8 155.4,39.0 155.5,41.1 155.5,42.3 155.6,38.3 155.6,42.8 155.6,46.5 155.7,38.2 155.7,42.8 155.7,39.5 155.8,43.5 155.8,39.7 155.9,47.4 155.9,48.9 155.9,49.4 156.0,41.2 156.0,51.5 156.0,50.9 156.1,49.5 156.1,43.2 156.2,42.4 156.2,47.2 156.2,41.1 156.3,42.8 156.3,39.4 156.4,40.4 156.4,46.7 156.4,43.3 156.5,44.7 156.5,42.3 156.5,43.3 156.6,43.9 156.6,41.3 156.7,43.8 156.7,41.2 156.7,43.9 156.8,44.6 156.8,40.5 156.8,40.4 156.9,39.3 156.9,41.6 157.0,44.8 157.0,43.3 157.0,43.4 157.1,50.7 157.1,48.3 157.1,38.2 157.2,44.2 157.2,54.9 157.3,44.5 157.3,43.4 157.3,48.7 157.4,35.4 157.4,39.7 157.4,40.9 157.5,44.7 157.5,42.2 157.6,40.8 157.6,42.2 157.6,46.6 157.7,43.3 157.7,43.5 157.7,42.9 157.8,48.0 157.8,43.0 157.9,44.0 157.9,43.1 157.9,43.3 158.0,49.5 158.0,40.8 158.0,41.2 158.1,49.2 158.1,44.4 158.2,47.3 158.2,45.8 158.2,40.3 158.3,42.1 158.3,36.6 158.3,43.8 158.4,48.4 158.4,43.7 158.5,53.4 158.5,37.4 158.5,43.2 158.6,42.5 158.6,43.6 158.6,47.4 158.7,44.7 158.7,47.2 158.8,46.2 158.8,43.0 158.8,48.8 158.9,38.0 158.9,48.3 159.0,41.1 159.0,46.7 159.0,49.0 159.1,42.9 159.1,43.7 159.1,45.2 159.2,44.6 159.2,46.8 159.3,42.8 159.3,46.3 159.3,44.4 159.4,40.2 159.4,49.5 159.4,46.6 159.5,47.1 159.5,47.5 159.6,49.6 159.6,45.6 159.6,44.0 159.7,45.0 159.7,50.6 159.7,42.0 159.8,41.9 159.8,44.3 159.9,48.4 159.9,47.8 159.9,37.2 160.0,38.1 160.0,42.8 160.0,48.1 160.1,39.8 160.1,43.9 160.2,38.3 160.2,46.8 160.2,42.8 160.3,45.4 160.3,41.8 160.3,47.0 160.4,41.1 160.4,46.1 160.5,48.0 160.5,42.5 160.5,43.7 160.6,52.6 160.6,44.8 160.6,44.2 160.7,43.9 160.7,36.9 160.8,47.1 160.8,44.7 160.8,51.1 160.9,50.1 160.9,46.8 160.9,45.1 161.0,45.4 161.0,42.2 161.1,41.9 161.1,40.8 161.1,45.3 161.2,42.8 161.2,47.4 161.2,43.3 161.3,42.8 161.3,46.5 161.4,56.9 161.4,47.1 161.4,34.9 161.5,45.0 161.5,47.1 161.6,44.2 161.6,40.4 161.6,43.4 161.7,45.4 161.7,49.5 161.7,45.8 161.8,49.2 161.8,43.3 161.9,38.9 161.9,40.6 161.9,46.9 162.0,48.4 162.0,49.9 162.0,43.0 162.1,42.5 162.1,41.6 162.2,43.4 162.2,49.3 162.2,52.0 162.3,40.4 162.3,47.9 162.3,37.4 162.4,52.7 162.4,48.9 162.5,48.2 162.5,43.7 162.5,42.2 162.6,46.8 162.6,42.4 162.6,49.6 162.7,46.6 162.7,49.3 162.8,46.8 162.8,47.1 162.8,43.5 162.9,31.6 162.9,49.9 162.9,45.5 163.0,42.1 163.0,44.4 163.1,39.3 163.1,48.6 163.1,41.8 163.2,47.7 163.2,41.6 163.2,44.1 163.3,43.8 163.3,46.9 163.4,51.8 163.4,48.9 163.4,42.0 163.5,45.7 163.5,41.9 163.5,49.8 163.6,42.3 163.6,40.9 163.7,53.1 163.7,43.5 163.7,37.3 163.8,47.6 163.8,40.9 163.8,44.5 163.9,41.4 163.9,46.2 164.0,47.6 164.0,46.3 164.0,46.1 164.1,46.9 164.1,48.0 164.2,40.5 164.2,46.9 164.2,49.3 164.3,48.3 164.3,42.8 164.3,53.2 164.4,42.8 164.4,42.0 164.5,39.8 164.5,46.4 164.5,47.8 164.6,44.0 164.6,44.1 164.6,39.7 164.7,44.5 164.7,46.3 164.8,49.7 164.8,45.5 164.8,44.4 164.9,40.2 164.9,44.3 164.9,39.5 165.0,39.9 165.0,47.6 165.1,49.0 165.1,47.1 165.1,45.5 165.2,47.7 165.2,42.0 165.2,42.1 165.3,40.0 165.3,43.6 165.4,46.3 165.4,43.1 165.4,48.1 165.5,44.1 165.5,47.5 165.5,40.2 165.6,54.8 165.6,41.4 165.7,41.3 165.7,44.8 165.7,43.3 165.8,43.9 165.8,39.7 165.8,38.3 165.9,44.6 165.9,38.4 166.0,47.1 166.0,43.0 166.0,43.0 166.1,49.4 166.1,43.4 166.1,47.2 166.2,41.6 166.2,48.0 166.3,51.4 166.3,49.6 166.3,44.5 166.4,43.4 166.4,43.3 166.4,47.5 166.5,41.6 166.5,46.7 166.6,45.5 166.6,40.9 166.6,45.2 166.7,51.8 166.7,41.9 166.8,44.6 166.8,46.1 166.8,39.7 166.9,47.0 166.9,42.1 166.9,44.1 167.0,34.7 167.0,51.5 167.1,43.9 167.1,43.3 167.1,40.4 167.2,46.2 167.2,47.1 167.2,39.3 167.3,46.3 167.3,43.6 167.4,44.8 167.4,43.2 167.4,49.8 167.5,46.7 167.5,44.9 167.5,44.2 167.6,40.5 167.6,42.7 167.7,42.4 167.7,44.9 167.7,39.8 167.8,47.0 167.8,45.0 167.8,50.3 167.9,48.6 167.9,41.4 168.0,44.8 168.0,51.7 168.0,44.8 168.1,45.5 168.1,49.0 168.1,43.4 168.2,45.7 168.2,44.6 168.3,41.1 168.3,47.0 168.3,40.6 168.4,45.7 168.4,45.6 168.4,39.8 168.5,43.2 168.5,46.2 168.6,45.1 168.6,43.8 168.6,50.2 168.7,42.1 168.7,44.7 168.7,49.6 168.8,48.3 168.8,41.4 168.9,49.5 168.9,36.5 168.9,48.7 169.0,43.9 169.0,54.4 169.0,44.9 169.1,46.7 169.1,42.8 169.2,44.0 169.2,46.0 169.2,36.5 169.3,41.8 169.3,47.5 169.4,43.4 169.4,55.7 169.4,47.0 169.5,40.0 169.5,46.9 169.5,44.2 169.6,49.2 169.6,41.8 169.7,44.3 169.7,44.8 169.7,41.2 169.8,38.5 169.8,41.7 169.8,51.4 169.9,43.3 169.9,43.8 170.0,49.2 170.0,51.0 170.0,46.4 170.1,46.0 170.1,45.1 170.1,47.6 170.2,44.2 170.2,43.7 170.3,45.9 170.3,43.4 170.3,47.1 170.4,50.8 170.4,44.9 170.4,41.5 170.5,34.6 170.5,53.0 170.6,46.8 170.6,48.2 170.6,43.8 170.7,48.2 170.7,44.4 170.7,41.1 170.8,47.7 170.8,45.1 170.9,38.7 170.9,41.5 170.9,51.0 171.0,36.9 171.0,47.4 171.0,43.7 171.1,46.4 171.1,46.6 171.2,47.5 171.2,42.5 171.2,47.8 171.3,49.6 171.3,47.0 171.3,44.8 171.4,52.5 171.4,41.8 171.5,47.6 171.5,42.1 171.5,39.5 171.6,43.6 171.6,42.8 171.6,46.5 171.7,47.4 171.7,52.0 171.8,45.5 171.8,46.9 171.8,53.8 171.9,43.8 171.9,39.0 172.0,43.3 172.0,40.4 172.0,45.8 172.1,48.7 172.1,44.6 172.1,46.1 172.2,49.1 172.2,40.9 172.3,44.2 172.3,47.3 172.3,44.0 172.4,45.4 172.4,42.4 172.4,38.7 172.5,47.1 172.5,49.3 172.6,39.5 172.6,35.7 172.6,47.1 172.7,48.3 172.7,49.3 172.7,44.8 172.8,44.4 172.8,45.8 172.9,41.6 172.9,47.9 172.9,47.0 173.0,49.5 173.0,39.5 173.0,40.7 173.1,39.8 173.1,48.0 173.2,39.7 173.2,43.6 173.2,42.0 173.3,42.5 173.3,46.0 173.3,45.4 173.4,50.6 173.4,46.8 173.5,45.6 173.5,49.1 173.5,44.4 173.6,39.9 173.6,46.6 173.6,48.4 173.7,48.0 173.7,44.0 173.8,38.1 173.8,44.1 173.8,44.5 173.9,49.4 173.9,43.4 173.9,42.3 174.0,46.3 174.0,44.8 174.1,47.2 174.1,41.9 174.1,39.6 174.2,43.3 174.2,42.8 174.2,44.5 174.3,47.1 174.3,47.6 174.4,46.2 174.4,44.3 174.4,44.7 174.5,40.9 174.5,41.9 174.6,39.1 174.6,41.8 174.6,45.6 174.7,44.3 174.7,50.9 174.7,38.4 174.8,46.9 174.8,46.2 174.9,37.8 174.9,48.8 174.9,47.0 175.0,44.9 175.0,46.9 175.0,44.3 175.1,43.8 175.1,42.3 175.2,45.1 175.2,42.0 175.2,45.9 175.3,42.4 175.3,40.2 175.3,51.2 175.4,45.5 175.4,44.0 175.5,51.8 175.5,56.3 175.5,43.5 175.6,47.1 175.6,41.7 175.6,44.7 175.7,44.7 175.7,46.0 175.8,44.3 175.8,48.1 175.8,46.6 175.9,41.7 175.9,45.6 175.9,42.8 176.0,44.7 176.0,46.0 176.1,48.3 176.1,41.5 176.1,47.8 176.2,43.3 176.2,50.6 176.2,43.6 176.3,43.2 176.3,47.1 176.4,50.8 176.4,45.3 176.4,44.3 176.5,46.7 176.5,47.2 176.5,41.2 176.6,45.1 176.6,46.3 176.7,41.5 176.7,44.7 176.7,47.3 176.8,41.4 176.8,46.0 176.8,41.2 176.9,47.2 176.9,43.5 177.0,40.0 177.0,42.9 177.0,42.8 177.1,43.0 177.1,41.4 177.2,44.4 177.2,43.0 177.2,45.5 177.3,37.4 177.3,48.0 177.3,41.5 177.4,48.4 177.4,42.6 177.5,39.7 177.5,48.8 177.5,38.0 177.6,48.3 177.6,47.8 177.6,43.4 177.7,48.8 177.7,41.0 177.8,42.8 177.8,54.9 177.8,50.0 177.9,47.4 177.9,43.1 177.9,48.7 178.0,47.4 178.0,42.3 178.1,48.4 178.1,43.6 178.1,49.8 178.2,40.9 178.2,39.3 178.2,49.0 178.3,53.6 178.3,51.0 178.4,41.1 178.4,46.9 178.4,40.8 178.5,49.8 178.5,48.3 178.5,45.2 178.6,40.7 178.6,45.5 178.7,48.6 178.7,43.6 178.7,44.4 178.8,42.8 178.8,45.4 178.8,47.1 178.9,44.7 178.9,54.1 179.0,43.7 179.0,40.1 179.0,42.7 179.1,48.3 179.1,50.5 179.1,39.8 179.2,46.7 179.2,45.5 179.3,43.9 179.3,47.0 179.3,44.6 179.4,39.1 179.4,46.6 179.4,37.5 179.5,43.3 179.5,43.5 179.6,41.2 179.6,41.3 179.6,40.8 179.7,42.6 179.7,46.9 179.7,38.6 179.8,45.3 179.8,47.9 179.9,41.4 179.9,42.3 179.9,44.8 180.0,44.4 180.0,42.5 180.1,37.5 180.1,45.0 180.1,49.5 180.2,46.9 180.2,42.8 180.2,45.5 180.3,47.2 180.3,42.0 180.4,41.9 180.4,45.5 180.4,43.7 180.5,47.1 180.5,47.0 180.5,46.0 180.6,49.9 180.6,43.5 180.7,45.0 180.7,46.7 180.7,44.4 180.8,44.3 180.8,47.6 180.8,47.0 180.9,47.8 180.9,39.7 181.0,51.1 181.0,45.1 181.0,41.7 181.1,48.9 181.1,48.5 181.1,48.5 181.2,51.7 181.2,40.5 181.3,45.9 181.3,49.2 181.3,47.4 181.4,44.4 181.4,46.3 181.4,48.5 181.5,43.2 181.5,48.5 181.6,46.7 181.6,44.5 181.6,47.9 181.7,44.9 181.7,47.6 181.7,35.2 181.8,46.8 181.8,42.6 181.9,48.5 181.9,49.5 181.9,45.7 182.0,46.6 182.0,46.5 182.0,45.4 182.1,41.9 182.1,38.1 182.2,37.7 182.2,45.1 182.2,38.4 182.3,38.9 182.3,47.7 182.3,47.2 182.4,45.7 182.4,38.0 182.5,45.9 182.5,46.3 182.5,40.2 182.6,46.1 182.6,46.0 182.7,43.2 182.7,44.8 182.7,54.6 182.8,50.2 182.8,42.8 182.8,50.9 182.9,40.9 182.9,45.8 183.0,44.5 183.0,44.4 183.0,52.3 183.1,48.2 183.1,49.5 183.1,44.6 183.2,39.7 183.2,46.3 183.3,45.2 183.3,52.9 183.3,46.9 183.4,46.4 183.4,46.2 183.4,43.2 183.5,40.2 183.5,45.5 183.6,44.0 183.6,51.4 183.6,43.2 183.7,45.3 183.7,52.1 183.7,44.2 183.8,47.9 183.8,41.6 183.9,43.7 183.9,45.1 183.9,39.0 184.0,46.1 184.0,46.6 184.0,45.3 184.1,45.0 184.1,48.6 184.2,43.3 184.2,43.8 184.2,47.4 184.3,51.3 184.3,40.8 184.3,40.4 184.4,41.9 184.4,41.6 184.5,38.5 184.5,44.0 184.5,39.0 184.6,45.7 184.6,48.4 184.6,45.0 184.7,46.2 184.7,43.2 184.8,38.2 184.8,43.4 184.8,41.0 184.9,36.9 184.9,38.2 184.9,44.6 185.0,47.5 185.0,36.9 185.1,49.0 185.1,51.8 185.1,52.5 185.2,40.5 185.2,50.5 185.3,45.9 185.3,45.4 185.3,39.9 185.4,50.1 185.4,44.7 185.4,43.7 185.5,39.5 185.5,45.8 185.6,43.8 185.6,45.9 185.6,40.7 185.7,41.3 185.7,46.3 185.7,42.8 185.8,50.5 185.8,44.6 185.9,48.2 185.9,46.4 185.9,41.0 186.0,36.7 186.0,44.0 186.0,45.3 186.1,46.1 186.1,42.0 186.2,45.5 186.2,41.1 186.2,39.0 186.3,42.4 186.3,46.3 186.3,41.9 186.4,47.4 186.4,51.5 186.5,40.4 186.5,37.5 186.5,39.7 186.6,46.1 186.6,57.7 186.6,47.6 186.7,42.4 186.7,46.3 186.8,39.5 186.8,47.9 186.8,42.9 186.9,44.0 186.9,43.8 186.9,50.2 187.0,45.2 187.0,43.8 187.1,46.4 187.1,49.8 187.1,46.7 187.2,48.5 187.2,43.5 187.2,41.2 187.3,43.6 187.3,43.5 187.4,45.6 187.4,44.1 187.4,52.3 187.5,44.6 187.5,41.5 187.5,46.9 187.6,42.2 187.6,50.6 187.7,44.7 187.7,45.6 187.7,43.1 187.8,44.3 187.8,36.4 187.9,57.1 187.9,50.4 187.9,47.5 188.0,44.5 188.0,47.4 188.0,47.5 188.1,50.9 188.1,50.1 188.2,48.3 188.2,39.1 188.2,48.0 188.3,34.4 188.3,40.8 188.3,46.0 188.4,41.8 188.4,41.0 188.5,49.5 188.5,51.1 188.5,39.3 188.6,48.6 188.6,41.6 188.6,42.3 188.7,51.3 188.7,42.4 188.8,42.7 188.8,40.0 188.8,45.0 188.9,43.2 188.9,43.5 188.9,45.8 189.0,38.6 189.0,41.2 189.1,39.0 189.1,43.5 189.1,40.4 189.2,48.6 189.2,47.3 189.2,41.1 189.3,45.8 189.3,46.4 189.4,44.3 189.4,51.0 189.4,44.3 189.5,43.0 189.5,46.1 189.5,49.2 189.6,38.2 189.6,43.3 189.7,48.8 189.7,47.2 189.7,51.1 189.8,51.6 189.8,52.2 189.8,48.1 189.9,43.3 189.9,42.1 190.0,45.4 190.0,41.0 190.0,42.7 190.1,49.3 190.1,48.1 190.1,43.8 190.2,42.3 190.2,40.8 190.3,50.2 190.3,52.4 190.3,37.2 190.4,46.0 190.4,41.1 190.5,44.7 190.5,50.2 190.5,39.5 190.6,43.1 190.6,39.2 190.6,42.5 190.7,48.6 190.7,45.0 190.8,41.0 190.8,47.5 190.8,44.1 190.9,40.4 190.9,49.5 190.9,46.2 191.0,44.1 191.0,41.1 191.1,45.2 191.1,47.5 191.1,42.6 191.2,47.1 191.2,43.2 191.2,43.4 191.3,45.5 191.3,41.5 191.4,40.3 191.4,49.8 191.4,42.8 191.5,45.4 191.5,45.9 191.5,44.4 191.6,40.2 191.6,45.3 191.7,46.0 191.7,49.5 191.7,45.4 191.8,44.7 191.8,48.4 191.8,45.9 191.9,42.9 191.9,39.4 192.0,45.8 192.0,37.1 192.0,40.9 192.1,41.3 192.1,42.4 192.1,44.3 192.2,47.0 192.2,44.9 192.3,44.4 192.3,44.0 192.3,38.7 192.4,36.9 192.4,42.5 192.4,40.7 192.5,47.2 192.5,52.1 192.6,44.9 192.6,43.6 192.6,39.1 192.7,35.3 192.7,43.5 192.7,39.5 192.8,40.2 192.8,43.6 192.9,41.3 192.9,43.0 192.9,38.5 193.0,48.5 193.0,53.3 193.1,43.9 193.1,40.9 193.1,40.4 193.2,46.6 193.2,42.3 193.2,46.9 193.3,41.8 193.3,47.2 193.4,48.5 193.4,40.8 193.4,49.2 193.5,50.0 193.5,41.4 193.5,44.0 193.6,53.2 193.6,39.9 193.7,49.1 193.7,46.1 193.7,44.8 193.8,36.7 193.8,44.5 193.8,40.9 193.9,44.9 193.9,42.4 194.0,49.8 194.0,44.4 194.0,46.7 194.1,48.3 194.1,43.3 194.1,40.4 194.2,42.6 194.2,45.6 194.3,41.6 194.3,48.6 194.3,43.2 194.4,42.4 194.4,44.7 194.4,45.4 194.5,43.9 194.5,46.5 194.6,45.2 194.6,41.6 194.6,51.7 194.7,39.6 194.7,42.6 194.7,43.6 194.8,48.2 194.8,46.0 194.9,46.7 194.9,41.8 194.9,42.0 195.0,40.0 195.0,44.2 195.0,52.1 195.1,48.1 195.1,45.8 195.2,43.2 195.2,50.2 195.2,45.2 195.3,44.2 195.3,46.7 195.3,45.2 195.4,35.8 195.4,44.6 195.5,37.0 195.5,43.6 195.5,47.2 195.6,42.4 195.6,46.1 195.7,44.8 195.7,53.0 195.7,43.2 195.8,46.8 195.8,40.3 195.8,44.1 195.9,46.0 195.9,48.5 196.0,44.5 196.0,46.0 196.0,47.5 196.1,37.5 196.1,45.1 196.1,41.2 196.2,39.0 196.2,43.1 196.3,42.2 196.3,42.7 196.3,41.0 196.4,42.4 196.4,42.7 196.4,44.1 196.5,46.4 196.5,46.3 196.6,47.0 196.6,43.9 196.6,39.7 196.7,48.2 196.7,46.9 196.7,48.3 196.8,44.8 196.8,40.8 196.9,45.9 196.9,43.5 196.9,53.4 197.0,45.2 197.0,42.8 197.0,47.0 197.1,50.8 197.1,42.9 197.2,45.0 197.2,37.8 197.2,46.8 197.3,45.2 197.3,46.1 197.3,44.3 197.4,51.5 197.4,39.5 197.5,42.2 197.5,45.5 197.5,46.0 197.6,42.7 197.6,43.3 197.6,46.2 197.7,45.3 197.7,43.3 197.8,46.2 197.8,45.9 197.8,46.2 197.9,46.0 197.9,49.5 197.9,48.2 198.0,43.2 198.0,41.7 198.1,44.8 198.1,58.1 198.1,50.2 198.2,43.1 198.2,38.3 198.3,40.1 198.3,45.4 198.3,46.0 198.4,46.2 198.4,38.1 198.4,43.7 198.5,48.1 198.5,41.0 198.6,41.5 198.6,52.2 198.6,47.0 198.7,40.8 198.7,41.2 198.7,49.3 198.8,44.6 198.8,41.3 198.9,43.3 198.9,48.5 198.9,45.3 199.0,42.1 199.0,42.7 199.0,48.2 199.1,35.8 199.1,43.7 199.2,50.2 199.2,45.8 199.2,54.9 199.3,47.1 199.3,44.7 199.3,35.5 199.4,43.8 199.4,43.2 199.5,41.7 199.5,43.7 199.5,46.8 199.6,39.4 199.6,42.6 199.6,38.7 199.7,40.7 199.7,48.0 199.8,46.2 199.8,46.0 199.8,46.0 199.9,42.8 199.9,45.2 199.9,47.5 200.0,39.0 200.0,39.4 200.1,44.3 200.1,48.4 200.1,46.8 200.2,47.3 200.2,47.8 200.2,48.1 200.3,43.6 200.3,43.4 200.4,42.9 200.4,47.9 200.4,43.4 200.5,37.0 200.5,43.6 200.5,45.9 200.6,34.3 200.6,43.3 200.7,46.8 200.7,41.2 200.7,47.1 200.8,45.8 200.8,40.7 200.9,46.7 200.9,50.0 200.9,41.8 201.0,41.3 201.0,49.6 201.0,45.7 201.1,40.4 201.1,43.5 201.2,41.3 201.2,44.9 201.2,46.8 201.3,46.5 201.3,45.6 201.3,43.7 201.4,54.5 201.4,51.5 201.5,44.4 201.5,41.9 201.5,46.8 201.6,44.3 201.6,48.4 201.6,49.5 201.7,43.8 201.7,44.6 201.8,46.3 201.8,49.2 201.8,44.1 201.9,44.6 201.9,45.3 201.9,44.8 202.0,45.7 202.0,42.4 202.1,42.9 202.1,37.8 202.1,39.2 202.2,44.6 202.2,49.0 202.2,42.1 202.3,46.7 202.3,38.8 202.4,50.0 202.4,46.0 202.4,38.7 202.5,44.4 202.5,41.8 202.5,42.0 202.6,46.3 202.6,41.4 202.7,47.7 202.7,45.7 202.7,36.6 202.8,45.2 202.8,43.1 202.8,48.5 202.9,39.5 202.9,47.9 203.0,47.3 203.0,46.7 203.0,48.0 203.1,49.8 203.1,45.6 203.1,46.3 203.2,44.9 203.2,48.2 203.3,47.9 203.3,45.7 203.3,44.6 203.4,48.0 203.4,44.7 203.5,45.4 203.5,40.7 203.5,42.2 203.6,42.7 203.6,40.8 203.6,46.9 203.7,39.6 203.7,43.9 203.8,46.4 203.8,43.1 203.8,48.5 203.9,38.0 203.9,43.6 203.9,50.1 204.0,48.7 204.0,46.5 204.1,46.6 204.1,42.9 204.1,41.3 204.2,40.8 204.2,42.6 204.2,48.0 204.3,40.4 204.3,40.0 204.4,51.8 204.4,46.7 204.4,45.9 204.5,47.5 204.5,40.8 204.5,42.9 204.6,44.4 204.6,49.1 204.7,52.2 204.7,48.1 204.7,47.7 204.8,48.0 204.8,52.5 204.8,50.3 204.9,46.2 204.9,43.4 205.0,46.6 205.0,45.5 205.0,44.9 205.1,44.9 205.1,40.2 205.1,47.6 205.2,43.9 205.2,49.6 205.3,40.3 205.3,42.0 205.3,41.0 205.4,44.3 205.4,45.1 205.4,49.4 205.5,43.5 205.5,39.6 205.6,54.9 205.6,38.2 205.6,47.7 205.7,42.9 205.7,47.7 205.7,45.2 205.8,41.6 205.8,45.3 205.9,37.9 205.9,44.5 205.9,42.2 206.0,46.9 206.0,46.5 206.1,46.1 206.1,42.8 206.1,38.5 206.2,44.5 206.2,49.4 206.2,46.9 206.3,49.7 206.3,42.8 206.4,44.5 206.4,48.6 206.4,46.0 206.5,41.1 206.5,42.9 206.5,46.8 206.6,41.8 206.6,43.2 206.7,46.7 206.7,43.9 206.7,37.7 206.8,48.7 206.8,40.8 206.8,45.2 206.9,42.3 206.9,43.1 207.0,43.6 207.0,45.2 207.0,44.6 207.1,42.1 207.1,42.9 207.1,50.1 207.2,42.9 207.2,39.8 207.3,41.3 207.3,43.8 207.3,51.4 207.4,42.4 207.4,42.2 207.4,39.2 207.5,48.2 207.5,45.5 207.6,46.6 207.6,45.6 207.6,51.1 207.7,46.4 207.7,46.2 207.7,46.0 207.8,38.7 207.8,47.0 207.9,46.3 207.9,40.5 207.9,46.8 208.0,40.2 208.0,43.0 208.0,47.0 208.1,47.3 208.1,44.2 208.2,45.4 208.2,44.3 208.2,46.8 208.3,42.5 208.3,47.2 208.3,46.4 208.4,45.4 208.4,49.4 208.5,45.9 208.5,45.5 208.5,50.1 208.6,51.4 208.6,40.1 208.7,45.7 208.7,45.2 208.7,47.1 208.8,38.8 208.8,45.5 208.8,51.4 208.9,42.9 208.9,48.3 209.0,43.1 209.0,45.2 209.0,40.0 209.1,42.9 209.1,46.1 209.1,39.4 209.2,34.5 209.2,46.7 209.3,40.6 209.3,43.3 209.3,43.0 209.4,49.3 209.4,48.3 209.4,39.3 209.5,44.1 209.5,46.6 209.6,37.9 209.6,40.1 209.6,41.9 209.7,48.3 209.7,44.7 209.7,39.1 209.8,52.2 209.8,50.6 209.9,47.6 209.9,41.0 209.9,43.8 210.0,42.9 210.0,43.9 210.0,44.2 210.1,40.1 210.1,31.1 210.2,42.8 210.2,39.7 210.2,46.3 210.3,38.6 210.3,44.2 210.3,43.9 210.4,46.3 210.4,47.5 210.5,46.6 210.5,48.3 210.5,49.5 210.6,37.6 210.6,42.9 210.6,40.9 210.7,42.7 210.7,50.0 210.8,44.5 210.8,47.9 210.8,47.6 210.9,45.0 210.9,44.0 210.9,44.2 211.0,44.1 211.0,45.7 211.1,44.5 211.1,39.8 211.1,36.3 211.2,40.3 211.2,45.4 211.3,43.1 211.3,40.9 211.3,40.8 211.4,39.9 211.4,39.9 211.4,43.0 211.5,45.6 211.5,50.4 211.6,40.5 211.6,42.3 211.6,47.8 211.7,44.5 211.7,46.1 211.7,46.3 211.8,38.0 211.8,46.0 211.9,35.4 211.9,45.1 211.9,47.3 212.0,44.1 212.0,35.5 212.0,45.2 212.1,42.7 212.1,53.2 212.2,42.4 212.2,49.8 212.2,45.1 212.3,39.5 212.3,45.6 212.3,41.9 212.4,45.5 212.4,45.9 212.5,43.6 212.5,40.5 212.5,44.3 212.6,44.7 212.6,48.3 212.6,51.0 212.7,44.1 212.7,45.3 212.8,43.6 212.8,40.7 212.8,41.5 212.9,48.0 212.9,43.7 212.9,43.6 213.0,45.6 213.0,53.2 213.1,47.7 213.1,45.0 213.1,41.8 213.2,45.9 213.2,50.0 213.2,39.5 213.3,44.8 213.3,46.4 213.4,42.7 213.4,42.1 213.4,45.0 213.5,46.9 213.5,46.9 213.5,41.7 213.6,45.2 213.6,42.8 213.7,52.0 213.7,46.6 213.7,46.2 213.8,46.5 213.8,52.1 213.9,46.4 213.9,38.7 213.9,43.6 214.0,46.7 214.0,47.5 214.0,49.9 214.1,43.9 214.1,47.7 214.2,46.3 214.2,41.4 214.2,41.2 214.3,42.4 214.3,51.1 214.3,46.9 214.4,40.3 214.4,49.3 214.5,40.0 214.5,44.9 214.5,41.2 214.6,46.4 214.6,49.2 214.6,48.6 214.7,39.2 214.7,46.0 214.8,49.4 214.8,41.7 214.8,50.7 214.9,45.4 214.9,43.5 214.9,43.7 215.0,43.2 215.0,45.1 215.1,54.2 215.1,43.9 215.1,45.0 215.2,45.6 215.2,42.9 215.2,41.9 215.3,44.0 215.3,39.1 215.4,36.4 215.4,43.7 215.4,46.1 215.5,49.7 215.5,42.6 215.5,51.6 215.6,38.4 215.6,41.1 215.7,46.8 215.7,42.2 215.7,48.1 215.8,49.0 215.8,41.9 215.8,48.7 215.9,43.9 215.9,45.3 216.0,38.8 216.0,43.6 216.0,38.8 216.1,41.5 216.1,47.7 216.1,49.3 216.2,52.9 216.2,44.7 216.3,55.4 216.3,47.9 216.3,54.0 216.4,47.2 216.4,42.1 216.5,48.2 216.5,46.9 216.5,46.6 216.6,43.8 216.6,50.5 216.6,44.4 216.7,45.2 216.7,48.8 216.8,48.6 216.8,40.2 216.8,42.1 216.9,43.2 216.9,48.0 216.9,46.2 217.0,49.8 217.0,51.6 217.1,46.7 217.1,47.2 217.1,49.6 217.2,49.5 217.2,43.5 217.2,46.7 217.3,50.9 217.3,37.1 217.4,51.5 217.4,44.1 217.4,48.7 217.5,42.3 217.5,44.6 217.5,41.0 217.6,45.2 217.6,47.8 217.7,39.4 217.7,45.1 217.7,45.7 217.8,45.5 217.8,47.7 217.8,43.6 217.9,38.5 217.9,39.2 218.0,43.8 218.0,42.4 218.0,42.1 218.1,47.3 218.1,39.2 218.1,44.0 218.2,51.8 218.2,42.6 218.3,48.4 218.3,43.8 218.3,42.3 218.4,46.1 218.4,43.9 218.4,39.8 218.5,50.2 218.5,52.1 218.6,45.4 218.6,45.8 218.6,37.0 218.7,41.1 218.7,42.9 218.7,45.3 218.8,52.3 218.8,50.0 218.9,46.2 218.9,44.2 218.9,46.6 219.0,44.5 219.0,42.3 219.1,47.7 219.1,46.6 219.1,48.7 219.2,40.4 219.2,52.7 219.2,42.7 219.3,42.1 219.3,52.7 219.4,46.8 219.4,40.9 219.4,48.4 219.5,47.2 219.5,45.2 219.5,40.0 219.6,42.7 219.6,47.6 219.7,50.3 219.7,50.8 219.7,43.8 219.8,53.3 219.8,47.3 219.8,42.8 219.9,49.6 219.9,46.3 220.0,45.5 220.0,42.2 220.0,50.2 220.1,44.8 220.1,45.3 220.1,44.7 220.2,51.1 220.2,43.1 220.3,48.3 220.3,45.5 220.3,48.3 220.4,37.7 220.4,44.9 220.4,36.9 220.5,47.4 220.5,46.1 220.6,39.4 220.6,46.5 220.6,43.4 220.7,40.7 220.7,46.5 220.7,47.6 220.8,46.0 220.8,41.2 220.9,43.4 220.9,40.1 220.9,46.0 221.0,46.9 221.0,49.3 221.0,46.2 221.1,47.3 221.1,45.5 221.2,48.6 221.2,47.8 221.2,46.2 221.3,41.4 221.3,46.3 221.3,47.2 221.4,41.1 221.4,39.9 221.5,46.2 221.5,46.0 221.5,51.9 221.6,51.0 221.6,45.2 221.7,39.7 221.7,38.0 221.7,41.9 221.8,46.9 221.8,43.1 221.8,50.6 221.9,45.3 221.9,49.5 222.0,45.0 222.0,39.6 222.0,36.7 222.1,44.2 222.1,43.5 222.1,51.3 222.2,47.5 222.2,39.2 222.3,40.6 222.3,41.8 222.3,43.3 222.4,38.7 222.4,46.0 222.4,45.7 222.5,34.3 222.5,48.3 222.6,43.3 222.6,46.4 222.6,39.3 222.7,46.0 222.7,46.3 222.7,46.2 222.8,41.9 222.8,48.8 222.9,50.6 222.9,45.5 222.9,46.4 223.0,42.9 223.0,46.3 223.0,47.3 223.1,43.9 223.1,43.4 223.2,41.1 223.2,44.7 223.2,51.9 223.3,45.2 223.3,45.0 223.3,45.4 223.4,43.0 223.4,46.1 223.5,40.7 223.5,46.1 223.5,39.7 223.6,49.2 223.6,54.0 223.6,48.7 223.7,34.1 223.7,46.0 223.8,45.4 223.8,43.9 223.8,46.6 223.9,44.0 223.9,44.5 223.9,37.1 224.0,40.4 224.0,43.9 224.1,42.3 224.1,42.6 224.1,49.1 224.2,40.6 224.2,47.3 224.3,41.9 224.3,44.4 224.3,41.4 224.4,39.5 224.4,42.7 224.4,46.7 224.5,46.1 224.5,42.7 224.6,46.5 224.6,46.4 224.6,45.3 224.7,46.3 224.7,42.9 224.7,46.6 224.8,44.5 224.8,47.7 224.9,51.5 224.9,41.8 224.9,41.1 225.0,46.8 225.0,41.8 225.0,43.7 225.1,49.3 225.1,40.4 225.2,52.5 225.2,45.1 225.2,42.1 225.3,49.1 225.3,38.7 225.3,47.1 225.4,40.1 225.4,45.6 225.5,42.2 225.5,45.0 225.5,35.8 225.6,43.2 225.6,40.9 225.6,42.0 225.7,44.0 225.7,45.7 225.8,43.2 225.8,41.0 225.8,41.3 225.9,42.6 225.9,45.2 225.9,42.0 226.0,48.5 226.0,44.8 226.1,52.5 226.1,47.3 226.1,45.3 226.2,50.1 226.2,49.0 226.2,41.1 226.3,42.7 226.3,40.5 226.4,40.2 226.4,42.2 226.4,41.6 226.5,43.5 226.5,39.7 226.5,50.4 226.6,45.2 226.6,40.6 226.7,41.3 226.7,44.3 226.7,45.8 226.8,41.4 226.8,45.2 226.8,48.8 226.9,40.1 226.9,46.0 227.0,43.9 227.0,50.7 227.0,54.3 227.1,42.8 227.1,38.2 227.2,53.3 227.2,46.5 227.2,42.4 227.3,43.8 227.3,44.3 227.3,44.7 227.4,48.2 227.4,40.4 227.5,40.9 227.5,43.2 227.5,53.3 227.6,38.2 227.6,44.8 227.6,42.6 227.7,37.2 227.7,39.6 227.8,44.9 227.8,40.5 227.8,42.3 227.9,46.8 227.9,44.0 227.9,51.3 228.0,50.5 228.0,43.8 228.1,39.1 228.1,48.3 228.1,40.0 228.2,44.0 228.2,37.7 228.2,45.9 228.3,33.2 228.3,42.8 228.4,45.4 228.4,43.6 228.4,51.5 228.5,43.2 228.5,45.7 228.5,42.6 228.6,45.8 228.6,54.9 228.7,54.5 228.7,47.1 228.7,49.4 228.8,41.2 228.8,48.7 228.8,42.9 228.9,45.2 228.9,38.7 229.0,44.2 229.0,43.8 229.0,48.5 229.1,43.2 229.1,42.0 229.1,45.0 229.2,41.9 229.2,48.6 229.3,45.4 229.3,43.1 229.3,45.8 229.4,39.9 229.4,42.1 229.4,47.0 229.5,48.2 229.5,44.6 229.6,47.4 229.6,46.1 229.6,48.9 229.7,41.6 229.7,43.9 229.8,43.5 229.8,41.5 229.8,53.4 229.9,44.5 229.9,45.5 229.9,42.0 230.0,42.7 230.0,42.6 230.1,39.6 230.1,51.8 230.1,48.7 230.2,40.0 230.2,39.1 230.2,47.7 230.3,40.3 230.3,41.3 230.4,49.8 230.4,46.9 230.4,43.3 230.5,44.9 230.5,37.7 230.5,42.3 230.6,41.2 230.6,47.1 230.7,49.3 230.7,46.9 230.7,39.2 230.8,37.5 230.8,47.7 230.8,45.1 230.9,54.1 230.9,39.7 231.0,49.4 231.0,41.2 231.0,39.7 231.1,49.7 231.1,47.9 231.1,41.9 231.2,39.4 231.2,46.6 231.3,48.6 231.3,43.3 231.3,39.8 231.4,48.8 231.4,47.6 231.4,40.2 231.5,43.9 231.5,47.8 231.6,44.6 231.6,42.8 231.6,40.7 231.7,43.5 231.7,44.7 231.7,51.1 231.8,42.6 231.8,42.7 231.9,43.9 231.9,44.6 231.9,44.2 232.0,41.0 232.0,46.1 232.0,49.3 232.1,41.2 232.1,46.1 232.2,45.7 232.2,43.0 232.2,45.6 232.3,44.9 232.3,48.9 232.4,39.7 232.4,49.8 232.4,39.6 232.5,49.5 232.5,47.4 232.5,46.3 232.6,41.3 232.6,43.9 232.7,46.4 232.7,49.4 232.7,40.8 232.8,44.5 232.8,43.1 232.8,45.4 232.9,46.6 232.9,42.1 233.0,43.5 233.0,40.3 233.0,43.9 233.1,50.1 233.1,41.7 233.1,44.5 233.2,45.5 233.2,56.5 233.3,48.0 233.3,44.0 233.3,47.1 233.4,43.7 233.4,42.4 233.4,44.7 233.5,48.2 233.5,43.0 233.6,43.3 233.6,45.6 233.6,51.9 233.7,49.4 233.7,41.6 233.7,45.7 233.8,51.5 233.8,45.4 233.9,44.5 233.9,42.2 233.9,43.0 234.0,43.2 234.0,47.6 234.0,51.1 234.1,47.1 234.1,39.5 234.2,50.5 234.2,41.3 234.2,50.4 234.3,49.7 234.3,44.3 234.3,47.8 234.4,45.7 234.4,49.1 234.5,44.2 234.5,41.5 234.5,50.3 234.6,42.7 234.6,43.3 234.6,41.7 234.7,53.4 234.7,41.3 234.8,49.2 234.8,45.7 234.8,46.5 234.9,48.7 234.9,48.1 235.0,47.6 235.0,44.1 235.0,42.0 235.1,45.9 235.1,41.8 235.1,44.2 235.2,40.4 235.2,49.8 235.3,44.2 235.3,45.0 235.3,44.3 235.4,43.5 235.4,41.7 235.4,44.3 235.5,42.8 235.5,45.9 235.6,45.4 235.6,47.2 235.6,40.7 235.7,41.8 235.7,39.9 235.7,46.6 235.8,45.5 235.8,35.4 235.9,40.7 235.9,50.3 235.9,42.0 236.0,43.5 236.0,46.1 236.0,45.9 236.1,48.0 236.1,46.8 236.2,47.7 236.2,49.2 236.2,46.3 236.3,48.2 236.3,42.1 236.3,40.9 236.4,45.4 236.4,46.1 236.5,42.4 236.5,45.3 236.5,37.1 236.6,54.9 236.6,53.7 236.6,49.0 236.7,43.0 236.7,41.8 236.8,46.6 236.8,44.7 236.8,45.9 236.9,42.9 236.9,37.1 236.9,53.4 237.0,36.3 237.0,40.8 237.1,46.0 237.1,42.9 237.1,44.9 237.2,42.9 237.2,42.9 237.2,41.8 237.3,48.6 237.3,42.4 237.4,47.3 237.4,45.9 237.4,41.7 237.5,46.4 237.5,43.6 237.6,43.5 237.6,44.3 237.6,49.4 237.7,42.9 237.7,44.0 237.7,36.2 237.8,48.7 237.8,40.7 237.9,46.3 237.9,45.9 237.9,38.2 238.0,45.2 238.0,41.6 238.0,44.2 238.1,48.1 238.1,45.5 238.2,46.3 238.2,45.5 238.2,37.6 238.3,42.9 238.3,51.3 238.3,37.5 238.4,43.2 238.4,41.2 238.5,38.7 238.5,47.8 238.5,43.4 238.6,45.2 238.6,46.0 238.6,45.8 238.7,44.2 238.7,40.2 238.8,41.7 238.8,43.5 238.8,40.0 238.9,53.5 238.9,44.5 238.9,43.3 239.0,43.4 239.0,39.2 239.1,44.0 239.1,39.4 239.1,45.3 239.2,42.0 239.2,44.2 239.2,45.5 239.3,42.6 239.3,42.4 239.4,48.0 239.4,41.0 239.4,45.6 239.5,44.2 239.5,54.8 239.5,44.7 239.6,51.9 239.6,41.3 239.7,47.6 239.7,46.3 239.7,45.3 239.8,49.7 239.8,44.5 239.8,49.3 239.9,45.4 239.9,41.3 240.0,39.7 240.0,39.1 240.0,45.5 240.1,48.2 240.1,42.7 240.2,38.6 240.2,47.9 240.2,39.4 240.3,45.1 240.3,54.7 240.3,44.3 240.4,37.4 240.4,41.8 240.5,40.5 240.5,43.1 240.5,51.0 240.6,53.6 240.6,48.7 240.6,46.1 240.7,48.4 240.7,47.7 240.8,41.6 240.8,39.0 240.8,51.1 240.9,48.7 240.9,45.0 240.9,45.4 241.0,53.6 241.0,33.4 241.1,41.9 241.1,43.2 241.1,52.0 241.2,43.5 241.2,49.1 241.2,42.7 241.3,43.5 241.3,44.4 241.4,43.0 241.4,46.8 241.4,43.9 241.5,53.8 241.5,41.8 241.5,45.3 241.6,34.9 241.6,44.2 241.7,53.6 241.7,38.7 241.7,47.4 241.8,48.9 241.8,44.8 241.8,39.7 241.9,37.2 241.9,46.1 242.0,43.8 242.0,43.7 242.0,47.1 242.1,46.6 242.1,45.2 242.1,44.9 242.2,40.5 242.2,52.0 242.3,42.8 242.3,43.2 242.3,39.4 242.4,46.1 242.4,46.1 242.4,44.2 242.5,46.8 242.5,46.9 242.6,47.2 242.6,47.2 242.6,48.6 242.7,47.0 242.7,47.6 242.8,47.5 242.8,49.8 242.8,41.0 242.9,43.5 242.9,44.9 242.9,48.8 243.0,42.2 243.0,45.6 243.1,45.1 243.1,44.3 243.1,45.1 243.2,40.9 243.2,47.7 243.2,47.2 243.3,44.1 243.3,45.5 243.4,42.6 243.4,41.2 243.4,39.4 243.5,41.0 243.5,45.7 243.5,45.3 243.6,46.1 243.6,40.3 243.7,45.5 243.7,47.9 243.7,48.6 243.8,41.8 243.8,48.0 243.8,54.7 243.9,41.9 243.9,43.4 244.0,41.7 244.0,40.9 244.0,42.7 244.1,43.1 244.1,44.4 244.1,47.6 244.2,52.7 244.2,52.1 244.3,43.2 244.3,41.6 244.3,44.5 244.4,47.5 244.4,42.2 244.4,44.7 244.5,44.6 244.5,46.0 244.6,49.1 244.6,48.5 244.6,43.1 244.7,38.4 244.7,37.9 244.7,45.3 244.8,42.9 244.8,44.9 244.9,44.0 244.9,43.0 244.9,41.1 245.0,48.9 245.0,37.8 245.0,45.1 245.1,48.3 245.1,35.8 245.2,48.0 245.2,44.7 245.2,47.4 245.3,40.1 245.3,54.8 245.4,43.3 245.4,50.6 245.4,38.6 245.5,36.6 245.5,41.3 245.5,47.5 245.6,40.1 245.6,36.2 245.7,43.6 245.7,46.0 245.7,39.0 245.8,49.6 245.8,45.7 245.8,44.8 245.9,44.1 245.9,40.4 246.0,45.1 246.0,48.8 246.0,49.9 246.1,45.1 246.1,42.8 246.1,40.9 246.2,42.2 246.2,49.8 246.3,42.4 246.3,47.1 246.3,39.6 246.4,45.7 246.4,45.7 246.4,46.7 246.5,40.8 246.5,45.0 246.6,34.1 246.6,40.1 246.6,49.0 246.7,44.7 246.7,40.6 246.7,41.5 246.8,42.2 246.8,43.6 246.9,50.4 246.9,50.3 246.9,41.5 247.0,47.0 247.0,44.5 247.0,42.1 247.1,51.8 247.1,51.8 247.2,42.5 247.2,46.8 247.2,45.9 247.3,40.2 247.3,45.6 247.3,44.8 247.4,43.5 247.4,51.2 247.5,38.0 247.5,43.0 247.5,46.7 247.6,40.2 247.6,48.1 247.6,47.2 247.7,49.3 247.7,45.5 247.8,47.4 247.8,43.6 247.8,47.2 247.9,43.6 247.9,42.9 248.0,43.1 248.0,43.2 248.0,44.3 248.1,47.8 248.1,52.2 248.1,43.3 248.2,50.0 248.2,43.3 248.3,44.8 248.3,44.8 248.3,44.6 248.4,42.4 248.4,48.3 248.4,43.4 248.5,40.5 248.5,41.6 248.6,40.4 248.6,45.7 248.6,44.9 248.7,37.5 248.7,42.7 248.7,43.6 248.8,40.8 248.8,47.9 248.9,45.1 248.9,42.9 248.9,44.9 249.0,38.9 249.0,43.0 249.0,41.3 249.1,47.8"/>
<rect x="60.7" y="26.7" width="188.4" height="65.7" fill="none" stroke="#000" stroke-width="1.2"/>
<line x1="60.7" y1="80.5" x2="63.2" y2="80.5" stroke="#000" stroke-width="0.7"/>
<line x1="249.1" y1="80.5" x2="246.6" y2="80.5" stroke="#000" stroke-width="0.7"/>
<line x1="60.7" y1="68.7" x2="63.2" y2="68.7" stroke="#000" stroke-width="0.7"/>
<line x1="249.1" y1="68.7" x2="246.6" y2="68.7" stroke="#000" stroke-width="0.7"/>
<line x1="60.7" y1="56.9" x2="63.2" y2="56.9" stroke="#000" stroke-width="0.7"/>
<line x1="249.1" y1="56.9" x2="246.6" y2="56.9" stroke="#000" stroke-width="0.7"/>
<line x1="60.7" y1="45.1" x2="63.2" y2="45.1" stroke="#000" stroke-width="0.7"/>
<line x1="249.1" y1="45.1" x2="246.6" y2="45.1" stroke="#000" stroke-width="0.7"/>
<line x1="60.7" y1="33.3" x2="63.2" y2="33.3" stroke="#000" stroke-width="0.7"/>
<line x1="249.1" y1="33.3" x2="246.6" y2="33.3" stroke="#000" stroke-width="0.7"/>
<text x="57.4" y="93.7" font-size="10" text-anchor="end">0</text>
<text x="57.4" y="71.3" font-size="10" text-anchor="end">1</text>
<text x="57.4" y="47.7" font-size="10" text-anchor="end">2</text>
<text x="60" y="101.7" font-size="10" text-anchor="middle">0</text>
<line x1="98.38" y1="92.4" x2="98.38" y2="90.2" stroke="#000" stroke-width="0.7"/>
<line x1="98.38" y1="26.7" x2="98.38" y2="28.9" stroke="#000" stroke-width="0.7"/>
<text x="96.8" y="101.7" font-size="10" text-anchor="middle">10</text>
<line x1="136.06" y1="92.4" x2="136.06" y2="90.2" stroke="#000" stroke-width="0.7"/>
<line x1="136.06" y1="26.7" x2="136.06" y2="28.9" stroke="#000" stroke-width="0.7"/>
<text x="136" y="101.7" font-size="10" text-anchor="middle">20</text>
<line x1="173.74" y1="92.4" x2="173.74" y2="90.2" stroke="#000" stroke-width="0.7"/>
<line x1="173.74" y1="26.7" x2="173.74" y2="28.9" stroke="#000" stroke-width="0.7"/>
<text x="172.6" y="101.7" font-size="10" text-anchor="middle">30</text>
<line x1="211.42" y1="92.4" x2="211.42" y2="90.2" stroke="#000" stroke-width="0.7"/>
<line x1="211.42" y1="26.7" x2="211.42" y2="28.9" stroke="#000" stroke-width="0.7"/>
<text x="209.5" y="101.7" font-size="10" text-anchor="middle">40</text>
<text x="246.4" y="101.7" font-size="10" text-anchor="middle">50</text>
<text x="61.3" y="24" font-size="10.5" word-spacing="0.6">x 10<tspan font-size="9.6" dy="-5.4" dx="0.3">2</tspan></text>
<text x="143" y="24.6" font-size="12.6" textLength="98.5" lengthAdjust="spacingAndGlyphs">Time Bin = 10 ms</text>
<text x="136.7" y="110.1" font-size="11.3" textLength="39.1" lengthAdjust="spacingAndGlyphs">Time (s)</text>
<text x="43" y="55.3" font-size="11.3" text-anchor="middle" textLength="69.8" lengthAdjust="spacingAndGlyphs" transform="rotate(-90 43 55.3)">Binned counts</text>
<polygon fill="#3a53a4" stroke="#3a53a4" stroke-width="0.4" points="281.1,92.2 281.1,92.2 281.94,92.2 281.94,92.2 282.77,92.2 282.77,92.2 283.61,92.2 283.61,92.2 284.45,92.2 284.45,92.2 285.29,92.2 285.29,92.2 286.12,92.2 286.12,92.2 286.96,92.2 286.96,92.2 287.8,92.2 287.8,92.2 288.63,92.2 288.63,92.2 289.47,92.2 289.47,92.2 290.31,92.2 290.31,92.2 291.14,92.2 291.14,92.2 291.98,92.2 291.98,92.2 292.82,92.2 292.82,92.2 293.66,92.2 293.66,92.2 294.49,92.2 294.49,92.2 295.33,92.2 295.33,92.2 296.17,92.2 296.17,92.2 297,92.2 297,92.2 297.84,92.2 297.84,92.2 298.68,92.2 298.68,92.2 299.51,92.2 299.51,92.2 300.35,92.2 300.35,92.2 301.19,92.2 301.19,92.2 302.03,92.2 302.03,92.2 302.86,92.2 302.86,92.2 303.7,92.2 303.7,92.2 304.54,92.2 304.54,92.2 305.37,92.2 305.37,92.2 306.21,92.2 306.21,92.2 307.05,92.2 307.05,92.2 307.88,92.2 307.88,92.2 308.72,92.2 308.72,92.2 309.56,92.2 309.56,92.2 310.4,92.2 310.4,92.2 311.23,92.2 311.23,92.2 312.07,92.2 312.07,92.2 312.91,92.2 312.91,92.2 313.74,92.2 313.74,92.2 314.58,92.2 314.58,92.2 315.42,92.2 315.42,92.2 316.25,92.2 316.25,92.2 317.09,92.2 317.09,92.19 317.93,92.19 317.93,92.19 318.76,92.19 318.76,92.19 319.6,92.19 319.6,92.18 320.44,92.18 320.44,92.17 321.28,92.17 321.28,92.16 322.11,92.16 322.11,92.15 322.95,92.15 322.95,92.13 323.79,92.13 323.79,92.11 324.62,92.11 324.62,92.08 325.46,92.08 325.46,92.04 326.3,92.04 326.3,91.99 327.13,91.99 327.13,91.93 327.97,91.93 327.97,91.84 328.81,91.84 328.81,91.74 329.65,91.74 329.65,91.61 330.48,91.61 330.48,91.44 331.32,91.44 331.32,91.26 332.16,91.26 332.16,91.03 332.99,91.03 332.99,90.71 333.83,90.71 333.83,90.36 334.67,90.36 334.67,89.97 335.5,89.97 335.5,89.45 336.34,89.45 336.34,88.99 337.18,88.99 337.18,88.21 338.02,88.21 338.02,87.47 338.85,87.47 338.85,86.41 339.69,86.41 339.69,85.53 340.53,85.53 340.53,84.22 341.36,84.22 341.36,83.12 342.2,83.12 342.2,81.7 343.04,81.7 343.04,80.16 343.88,80.16 343.88,78.54 344.71,78.54 344.71,76.56 345.55,76.56 345.55,74.19 346.39,74.19 346.39,72.61 347.22,72.61 347.22,69.91 348.06,69.91 348.06,67.18 348.9,67.18 348.9,64.89 349.73,64.89 349.73,62.17 350.57,62.17 350.57,59.54 351.41,59.54 351.41,56.74 352.25,56.74 352.25,55.09 353.08,55.09 353.08,50.77 353.92,50.77 353.92,48.63 354.76,48.63 354.76,46.51 355.59,46.51 355.59,43.86 356.43,43.86 356.43,41.39 357.27,41.39 357.27,38.63 358.1,38.63 358.1,37.78 358.94,37.78 358.94,35.99 359.78,35.99 359.78,34.39 360.62,34.39 360.62,31.39 361.45,31.39 361.45,31.5 362.29,31.5 362.29,29.78 363.13,29.78 363.13,30 363.96,30 363.96,28.68 364.8,28.68 364.8,28.72 365.64,28.72 365.64,28.79 366.47,28.79 366.47,27.39 367.31,27.39 367.31,28.35 368.15,28.35 368.15,29.53 368.99,29.53 368.99,27.6 369.82,27.6 369.82,30.92 370.66,30.92 370.66,32.13 371.5,32.13 371.5,33.77 372.33,33.77 372.33,32.99 373.17,32.99 373.17,35.71 374.01,35.71 374.01,37.58 374.84,37.58 374.84,39.25 375.68,39.25 375.68,42.16 376.52,42.16 376.52,44.27 377.36,44.27 377.36,46.33 378.19,46.33 378.19,49.74 379.03,49.74 379.03,52.19 379.87,52.19 379.87,55.21 380.7,55.21 380.7,57.98 381.54,57.98 381.54,60.21 382.38,60.21 382.38,63.2 383.21,63.2 383.21,65.9 384.05,65.9 384.05,69.02 384.89,69.02 384.89,71.09 385.73,71.09 385.73,73.28 386.56,73.28 386.56,75.25 387.4,75.25 387.4,77.16 388.24,77.16 388.24,79.03 389.07,79.03 389.07,80.75 389.91,80.75 389.91,82.22 390.75,82.22 390.75,83.6 391.58,83.6 391.58,84.79 392.42,84.79 392.42,86.1 393.26,86.1 393.26,86.87 394.1,86.87 394.1,87.68 394.93,87.68 394.93,88.46 395.77,88.46 395.77,89.16 396.61,89.16 396.61,89.71 397.44,89.71 397.44,90.15 398.28,90.15 398.28,90.51 399.12,90.51 399.12,90.85 399.95,90.85 399.95,91.15 400.79,91.15 400.79,91.38 401.63,91.38 401.63,91.52 402.47,91.52 402.47,91.66 403.3,91.66 403.3,91.8 404.14,91.8 404.14,91.88 404.98,91.88 404.98,91.96 405.81,91.96 405.81,92.01 406.65,92.01 406.65,92.06 407.49,92.06 407.49,92.09 408.32,92.09 408.32,92.12 409.16,92.12 409.16,92.14 410,92.14 410,92.16 410.84,92.16 410.84,92.17 411.67,92.17 411.67,92.18 412.51,92.18 412.51,92.18 413.35,92.18 413.35,92.19 414.18,92.19 414.18,92.19 415.02,92.19 415.02,92.19 415.86,92.19 415.86,92.2 416.69,92.2 416.69,92.2 417.53,92.2 417.53,92.2 418.37,92.2 418.37,92.2 419.21,92.2 419.21,92.2 420.04,92.2 420.04,92.2 420.88,92.2 420.88,92.2 421.72,92.2 421.72,92.2 422.55,92.2 422.55,92.2 423.39,92.2 423.39,92.2 424.23,92.2 424.23,92.2 425.06,92.2 425.06,92.2 425.9,92.2 425.9,92.2 426.74,92.2 426.74,92.2 427.57,92.2 427.57,92.2 428.41,92.2 428.41,92.2 429.25,92.2 429.25,92.2 430.09,92.2 430.09,92.2 430.92,92.2 430.92,92.2 431.76,92.2 431.76,92.2 432.6,92.2 432.6,92.2 433.43,92.2 433.43,92.2 434.27,92.2 434.27,92.2 435.11,92.2 435.11,92.2 435.94,92.2 435.94,92.2 436.78,92.2 436.78,92.2 437.62,92.2 437.62,92.2 438.46,92.2 438.46,92.2 439.29,92.2 439.29,92.2 440.13,92.2 440.13,92.2 440.97,92.2 440.97,92.2 441.8,92.2 441.8,92.2 442.64,92.2 442.64,92.2 443.48,92.2 443.48,92.2 444.31,92.2 444.31,92.2 445.15,92.2 445.15,92.2 445.99,92.2 445.99,92.2 446.83,92.2 446.83,92.2 447.66,92.2 447.66,92.2 448.5,92.2 448.5,92.2"/>
<rect x="281.1" y="26.6" width="167.4" height="65.6" fill="none" stroke="#15152a" stroke-width="1.2"/>
<line x1="281.1" y1="81.36" x2="283.3" y2="81.36" stroke="#7d8ccc" stroke-width="0.7"/>
<line x1="448.5" y1="81.36" x2="446.3" y2="81.36" stroke="#7d8ccc" stroke-width="0.7"/>
<line x1="281.1" y1="70.52" x2="283.3" y2="70.52" stroke="#7d8ccc" stroke-width="0.7"/>
<line x1="448.5" y1="70.52" x2="446.3" y2="70.52" stroke="#7d8ccc" stroke-width="0.7"/>
<line x1="281.1" y1="59.68" x2="283.3" y2="59.68" stroke="#7d8ccc" stroke-width="0.7"/>
<line x1="448.5" y1="59.68" x2="446.3" y2="59.68" stroke="#7d8ccc" stroke-width="0.7"/>
<line x1="281.1" y1="48.84" x2="283.3" y2="48.84" stroke="#7d8ccc" stroke-width="0.7"/>
<line x1="448.5" y1="48.84" x2="446.3" y2="48.84" stroke="#7d8ccc" stroke-width="0.7"/>
<line x1="281.1" y1="38" x2="283.3" y2="38" stroke="#7d8ccc" stroke-width="0.7"/>
<line x1="448.5" y1="38" x2="446.3" y2="38" stroke="#7d8ccc" stroke-width="0.7"/>
<text x="278.8" y="93.4" font-size="10" text-anchor="end">0</text>
<text x="278.8" y="72.3" font-size="10" text-anchor="end">5</text>
<text x="278.8" y="50.6" font-size="10" text-anchor="end">10</text>
<text x="278.8" y="30.1" font-size="10" text-anchor="end">15</text>
<text x="281.7" y="101.3" font-size="10" text-anchor="middle">100</text>
<text x="324.1" y="101.3" font-size="10" text-anchor="middle">150</text>
<text x="366.5" y="101.3" font-size="10" text-anchor="middle">200</text>
<text x="410.2" y="101.3" font-size="10" text-anchor="middle">250</text>
<text x="446.6" y="101.3" font-size="10" text-anchor="middle">300</text>
<text x="282.1" y="23.7" font-size="10.5" word-spacing="0.6">x 10<tspan font-size="9.6" dy="-5.4" dx="0.3">3</tspan></text>
<text x="338.8" y="24.8" font-size="12.6" textLength="98.7" lengthAdjust="spacingAndGlyphs">Time Bin = 10 ms</text>
<text x="336" y="108.9" font-size="11.3" textLength="70.2" lengthAdjust="spacingAndGlyphs">Binned counts</text>
<text x="265" y="57.9" font-size="11.3" text-anchor="middle" textLength="61.4" lengthAdjust="spacingAndGlyphs" transform="rotate(-90 265 57.9)">Occurrences</text>
<polyline fill="none" stroke="#0000ff" stroke-width="0.4" stroke-linejoin="bevel" points="60.8,135.6 60.9,139.8 60.9,136.9 60.9,138.2 61.0,135.7 61.0,136.5 61.0,135.2 61.1,139.2 61.1,139.0 61.2,138.3 61.2,137.9 61.2,138.3 61.3,139.2 61.3,138.1 61.3,139.8 61.4,135.4 61.4,137.9 61.5,139.2 61.5,136.8 61.5,139.8 61.6,136.5 61.6,137.7 61.6,134.2 61.7,136.2 61.7,138.4 61.8,135.6 61.8,136.9 61.8,136.0 61.9,142.3 61.9,137.8 61.9,137.8 62.0,134.9 62.0,138.9 62.1,136.5 62.1,137.4 62.1,139.4 62.2,138.0 62.2,136.1 62.2,137.4 62.3,137.3 62.3,137.2 62.4,136.9 62.4,136.5 62.4,137.2 62.5,139.5 62.5,137.4 62.6,136.9 62.6,134.3 62.6,138.7 62.7,134.4 62.7,137.9 62.7,134.3 62.8,140.5 62.8,137.5 62.9,141.0 62.9,139.5 62.9,137.8 63.0,136.3 63.0,138.4 63.0,136.7 63.1,138.5 63.1,134.4 63.2,138.1 63.2,133.8 63.2,134.1 63.3,138.7 63.3,136.2 63.3,137.9 63.4,134.7 63.4,136.6 63.5,134.1 63.5,137.5 63.5,137.7 63.6,138.5 63.6,136.9 63.6,136.5 63.7,137.1 63.7,136.7 63.8,135.9 63.8,137.3 63.8,138.3 63.9,138.9 63.9,138.2 63.9,137.8 64.0,135.5 64.0,135.7 64.1,138.4 64.1,136.2 64.1,138.8 64.2,135.8 64.2,140.0 64.2,135.6 64.3,137.5 64.3,136.8 64.4,137.4 64.4,139.0 64.4,137.0 64.5,137.2 64.5,136.0 64.5,136.2 64.6,135.2 64.6,136.3 64.7,139.2 64.7,135.9 64.7,139.3 64.8,138.5 64.8,137.1 64.8,138.7 64.9,137.9 64.9,135.5 65.0,138.3 65.0,138.8 65.0,139.4 65.1,132.5 65.1,138.0 65.1,137.2 65.2,137.2 65.2,135.4 65.3,138.2 65.3,138.8 65.3,137.9 65.4,138.5 65.4,139.6 65.5,140.4 65.5,137.2 65.5,137.9 65.6,134.9 65.6,138.1 65.6,137.8 65.7,135.2 65.7,140.1 65.8,135.9 65.8,138.6 65.8,139.1 65.9,136.6 65.9,137.0 65.9,139.1 66.0,136.8 66.0,134.6 66.1,135.8 66.1,137.0 66.1,138.1 66.2,137.4 66.2,136.4 66.2,137.6 66.3,136.4 66.3,135.6 66.4,139.7 66.4,136.9 66.4,136.4 66.5,137.7 66.5,138.3 66.5,134.7 66.6,137.3 66.6,137.3 66.7,138.1 66.7,137.7 66.7,137.7 66.8,137.3 66.8,139.7 66.8,139.9 66.9,138.2 66.9,137.7 67.0,138.1 67.0,136.0 67.0,137.2 67.1,135.9 67.1,136.8 67.1,140.9 67.2,136.3 67.2,134.7 67.3,136.9 67.3,137.2 67.3,139.1 67.4,136.7 67.4,138.9 67.4,140.1 67.5,136.7 67.5,135.7 67.6,137.6 67.6,137.4 67.6,138.2 67.7,134.4 67.7,136.4 67.7,137.7 67.8,137.6 67.8,136.8 67.9,135.2 67.9,138.0 67.9,138.5 68.0,136.5 68.0,137.3 68.0,139.5 68.1,137.3 68.1,137.6 68.2,137.7 68.2,136.8 68.2,136.6 68.3,134.2 68.3,136.0 68.4,135.6 68.4,137.8 68.4,137.0 68.5,138.1 68.5,138.2 68.5,135.6 68.6,133.3 68.6,135.8 68.7,136.3 68.7,136.1 68.7,135.6 68.8,137.1 68.8,137.1 68.8,135.9 68.9,134.3 68.9,136.8 69.0,139.7 69.0,135.6 69.0,136.6 69.1,138.3 69.1,138.3 69.1,142.2 69.2,138.2 69.2,137.3 69.3,136.0 69.3,137.0 69.3,138.6 69.4,137.6 69.4,136.8 69.4,135.9 69.5,136.4 69.5,135.4 69.6,140.1 69.6,136.5 69.6,136.4 69.7,138.4 69.7,136.5 69.7,137.7 69.8,138.9 69.8,139.0 69.9,135.9 69.9,135.8 69.9,135.0 70.0,135.5 70.0,136.0 70.0,138.6 70.1,137.1 70.1,137.2 70.2,133.4 70.2,138.2 70.2,138.9 70.3,138.4 70.3,135.1 70.3,137.8 70.4,135.5 70.4,137.6 70.5,135.0 70.5,139.3 70.5,137.5 70.6,135.7 70.6,137.1 70.6,138.3 70.7,134.3 70.7,139.1 70.8,138.2 70.8,134.8 70.8,133.9 70.9,136.8 70.9,138.9 70.9,138.9 71.0,138.2 71.0,136.9 71.1,134.5 71.1,135.2 71.1,135.1 71.2,137.6 71.2,135.5 71.3,135.4 71.3,135.3 71.3,136.8 71.4,137.4 71.4,134.9 71.4,134.1 71.5,137.1 71.5,136.2 71.6,134.9 71.6,134.2 71.6,133.8 71.7,136.7 71.7,134.6 71.7,138.7 71.8,140.4 71.8,137.5 71.9,136.2 71.9,139.3 71.9,137.0 72.0,136.5 72.0,136.8 72.0,136.3 72.1,134.9 72.1,137.2 72.2,137.5 72.2,135.8 72.2,135.0 72.3,137.5 72.3,134.5 72.3,135.5 72.4,137.4 72.4,136.8 72.5,138.1 72.5,135.6 72.5,136.6 72.6,133.5 72.6,141.1 72.6,138.8 72.7,137.6 72.7,135.9 72.8,137.4 72.8,138.0 72.8,136.1 72.9,137.5 72.9,136.4 72.9,135.3 73.0,135.2 73.0,139.4 73.1,138.0 73.1,136.1 73.1,137.1 73.2,138.1 73.2,135.8 73.2,136.7 73.3,136.1 73.3,135.3 73.4,137.4 73.4,135.1 73.4,136.5 73.5,136.4 73.5,135.1 73.5,139.5 73.6,139.6 73.6,138.7 73.7,135.4 73.7,136.6 73.7,137.8 73.8,138.6 73.8,139.7 73.8,136.4 73.9,136.9 73.9,136.2 74.0,135.3 74.0,136.4 74.0,134.6 74.1,137.5 74.1,134.4 74.2,136.2 74.2,137.8 74.2,136.6 74.3,133.3 74.3,138.9 74.3,137.9 74.4,137.6 74.4,136.6 74.5,136.8 74.5,133.8 74.5,137.2 74.6,135.8 74.6,137.7 74.6,138.7 74.7,137.1 74.7,137.3 74.8,135.8 74.8,134.7 74.8,137.6 74.9,135.1 74.9,138.6 74.9,134.0 75.0,139.3 75.0,137.8 75.1,136.5 75.1,137.5 75.1,138.8 75.2,135.8 75.2,138.6 75.2,135.3 75.3,139.3 75.3,135.2 75.4,135.6 75.4,136.1 75.4,135.2 75.5,137.3 75.5,137.0 75.5,135.0 75.6,138.7 75.6,137.4 75.7,137.3 75.7,137.3 75.7,137.4 75.8,141.0 75.8,137.0 75.8,136.5 75.9,134.9 75.9,135.7 76.0,138.0 76.0,137.4 76.0,138.5 76.1,137.6 76.1,138.0 76.1,135.2 76.2,136.4 76.2,136.0 76.3,137.6 76.3,137.3 76.3,136.2 76.4,138.3 76.4,136.2 76.4,135.6 76.5,138.0 76.5,137.0 76.6,138.4 76.6,134.3 76.6,136.3 76.7,135.2 76.7,137.4 76.7,138.5 76.8,137.2 76.8,134.8 76.9,134.4 76.9,135.7 76.9,137.1 77.0,136.4 77.0,135.2 77.1,138.7 77.1,135.6 77.1,138.4 77.2,136.6 77.2,135.8 77.2,136.6 77.3,136.9 77.3,134.9 77.4,137.7 77.4,137.6 77.4,138.6 77.5,136.7 77.5,135.8 77.5,137.2 77.6,140.2 77.6,136.3 77.7,136.0 77.7,138.5 77.7,137.4 77.8,137.0 77.8,138.3 77.8,136.6 77.9,136.9 77.9,139.0 78.0,141.6 78.0,138.6 78.0,134.8 78.1,135.1 78.1,137.6 78.1,138.9 78.2,134.7 78.2,136.0 78.3,135.1 78.3,134.1 78.3,136.4 78.4,137.0 78.4,138.4 78.4,136.9 78.5,138.8 78.5,135.4 78.6,137.5 78.6,134.6 78.6,137.7 78.7,136.4 78.7,138.4 78.7,135.7 78.8,138.5 78.8,135.0 78.9,136.3 78.9,140.2 78.9,139.5 79.0,136.8 79.0,137.3 79.0,133.9 79.1,138.7 79.1,137.5 79.2,137.2 79.2,136.8 79.2,134.4 79.3,137.4 79.3,139.8 79.3,134.6 79.4,136.5 79.4,139.7 79.5,138.3 79.5,137.7 79.5,137.0 79.6,135.9 79.6,137.6 79.6,138.1 79.7,138.8 79.7,137.5 79.8,137.1 79.8,136.5 79.8,140.8 79.9,138.7 79.9,136.4 80.0,134.4 80.0,135.7 80.0,141.0 80.1,140.4 80.1,136.3 80.1,137.1 80.2,137.1 80.2,133.9 80.3,139.0 80.3,135.2 80.3,137.0 80.4,138.2 80.4,140.7 80.4,139.1 80.5,134.7 80.5,137.0 80.6,135.9 80.6,136.2 80.6,137.5 80.7,135.8 80.7,136.7 80.7,137.5 80.8,137.7 80.8,138.4 80.9,136.7 80.9,137.5 80.9,135.3 81.0,137.7 81.0,138.7 81.0,140.3 81.1,135.9 81.1,133.0 81.2,137.2 81.2,140.8 81.2,135.6 81.3,138.3 81.3,136.0 81.3,136.5 81.4,136.0 81.4,136.9 81.5,137.6 81.5,135.4 81.5,137.6 81.6,135.2 81.6,138.1 81.6,136.9 81.7,138.4 81.7,135.6 81.8,138.2 81.8,138.5 81.8,135.6 81.9,136.6 81.9,137.3 81.9,138.8 82.0,137.2 82.0,136.5 82.1,136.0 82.1,138.3 82.1,136.3 82.2,140.3 82.2,137.0 82.2,138.6 82.3,135.9 82.3,137.8 82.4,133.3 82.4,136.9 82.4,136.6 82.5,140.9 82.5,139.4 82.5,135.4 82.6,138.2 82.6,135.3 82.7,138.3 82.7,136.1 82.7,138.5 82.8,136.4 82.8,136.0 82.8,135.6 82.9,138.3 82.9,139.3 83.0,136.2 83.0,136.7 83.0,136.0 83.1,139.1 83.1,135.9 83.2,137.4 83.2,138.9 83.2,137.9 83.3,135.6 83.3,136.8 83.3,136.9 83.4,137.0 83.4,137.7 83.5,135.1 83.5,137.0 83.5,139.5 83.6,139.5 83.6,138.0 83.6,137.7 83.7,135.9 83.7,141.4 83.8,135.8 83.8,135.1 83.8,137.9 83.9,135.0 83.9,138.2 83.9,137.3 84.0,137.9 84.0,134.4 84.1,135.1 84.1,135.2 84.1,138.9 84.2,136.9 84.2,138.9 84.2,136.8 84.3,136.1 84.3,134.7 84.4,137.3 84.4,136.6 84.4,137.3 84.5,138.8 84.5,134.2 84.5,136.4 84.6,134.6 84.6,135.6 84.7,139.1 84.7,138.1 84.7,135.9 84.8,135.6 84.8,135.9 84.8,137.0 84.9,135.6 84.9,138.7 85.0,137.4 85.0,138.9 85.0,135.3 85.1,136.4 85.1,135.8 85.1,137.4 85.2,141.3 85.2,138.3 85.3,136.7 85.3,136.9 85.3,135.5 85.4,135.1 85.4,138.0 85.4,135.7 85.5,139.9 85.5,135.9 85.6,140.6 85.6,136.2 85.6,140.9 85.7,136.2 85.7,134.4 85.7,137.4 85.8,135.9 85.8,135.2 85.9,141.6 85.9,140.4 85.9,137.1 86.0,139.0 86.0,137.8 86.1,132.5 86.1,134.0 86.1,136.0 86.2,138.3 86.2,136.2 86.2,136.5 86.3,137.4 86.3,134.3 86.4,140.4 86.4,134.4 86.4,137.9 86.5,134.9 86.5,137.4 86.5,138.1 86.6,138.3 86.6,136.7 86.7,136.6 86.7,132.0 86.7,134.5 86.8,137.3 86.8,139.3 86.8,137.0 86.9,136.2 86.9,140.1 87.0,137.2 87.0,135.0 87.0,138.0 87.1,140.0 87.1,135.9 87.1,134.5 87.2,137.6 87.2,137.0 87.3,135.2 87.3,136.3 87.3,138.4 87.4,137.8 87.4,137.4 87.4,137.2 87.5,135.2 87.5,139.0 87.6,136.6 87.6,137.5 87.6,140.8 87.7,136.0 87.7,137.0 87.7,139.5 87.8,140.3 87.8,135.6 87.9,134.4 87.9,137.1 87.9,137.7 88.0,136.0 88.0,138.4 88.0,138.2 88.1,135.6 88.1,139.3 88.2,135.3 88.2,136.8 88.2,135.0 88.3,140.5 88.3,135.0 88.3,137.5 88.4,136.2 88.4,138.7 88.5,139.1 88.5,135.3 88.5,136.5 88.6,136.3 88.6,136.1 88.6,136.2 88.7,140.0 88.7,137.8 88.8,137.9 88.8,133.8 88.8,135.0 88.9,138.8 88.9,139.9 89.0,136.1 89.0,136.3 89.0,134.9 89.1,139.3 89.1,134.4 89.1,137.0 89.2,135.1 89.2,136.8 89.3,138.1 89.3,138.7 89.3,135.0 89.4,143.0 89.4,135.5 89.4,136.2 89.5,138.6 89.5,136.1 89.6,137.7 89.6,139.7 89.6,138.0 89.7,136.5 89.7,137.4 89.7,138.8 89.8,136.3 89.8,136.2 89.9,135.4 89.9,137.2 89.9,134.9 90.0,138.8 90.0,138.3 90.0,140.1 90.1,137.7 90.1,137.5 90.2,137.7 90.2,139.9 90.2,135.9 90.3,140.6 90.3,139.3 90.3,142.9 90.4,135.9 90.4,136.4 90.5,138.1 90.5,137.2 90.5,139.9 90.6,139.7 90.6,139.5 90.6,137.3 90.7,138.5 90.7,137.5 90.8,139.7 90.8,140.2 90.8,137.1 90.9,137.4 90.9,137.1 90.9,139.0 91.0,137.4 91.0,140.6 91.1,139.8 91.1,137.3 91.1,139.5 91.2,140.0 91.2,139.5 91.2,135.0 91.3,138.6 91.3,137.3 91.4,138.1 91.4,133.6 91.4,138.0 91.5,136.0 91.5,136.1 91.5,137.0 91.6,137.7 91.6,140.4 91.7,136.7 91.7,133.9 91.7,136.8 91.8,134.1 91.8,136.4 91.9,136.1 91.9,138.5 91.9,137.9 92.0,136.8 92.0,135.7 92.0,139.4 92.1,140.1 92.1,137.8 92.2,137.8 92.2,136.8 92.2,134.6 92.3,138.6 92.3,134.3 92.3,136.6 92.4,137.5 92.4,140.5 92.5,135.0 92.5,134.5 92.5,136.7 92.6,136.7 92.6,138.3 92.6,140.9 92.7,138.9 92.7,140.1 92.8,139.9 92.8,139.0 92.8,138.6 92.9,136.7 92.9,135.3 92.9,137.9 93.0,136.2 93.0,138.2 93.1,138.1 93.1,137.0 93.1,138.7 93.2,137.1 93.2,138.4 93.2,139.1 93.3,138.7 93.3,134.9 93.4,137.1 93.4,138.4 93.4,137.3 93.5,138.9 93.5,138.4 93.5,138.2 93.6,140.5 93.6,137.9 93.7,136.8 93.7,137.1 93.7,137.8 93.8,135.7 93.8,139.0 93.8,135.7 93.9,135.9 93.9,137.2 94.0,134.9 94.0,138.9 94.0,137.1 94.1,137.8 94.1,138.9 94.1,138.1 94.2,136.9 94.2,136.9 94.3,136.5 94.3,138.7 94.3,137.7 94.4,137.7 94.4,138.7 94.4,137.6 94.5,141.2 94.5,139.5 94.6,138.4 94.6,138.2 94.6,136.4 94.7,138.5 94.7,134.7 94.8,140.0 94.8,134.4 94.8,139.1 94.9,139.5 94.9,138.8 94.9,138.6 95.0,138.0 95.0,138.3 95.1,136.7 95.1,136.2 95.1,139.3 95.2,135.4 95.2,137.1 95.2,137.5 95.3,136.1 95.3,137.7 95.4,135.1 95.4,139.6 95.4,135.4 95.5,138.3 95.5,136.3 95.5,138.3 95.6,134.7 95.6,136.8 95.7,136.2 95.7,139.3 95.7,140.0 95.8,137.1 95.8,134.9 95.8,137.2 95.9,140.0 95.9,134.6 96.0,138.3 96.0,136.2 96.0,138.8 96.1,138.7 96.1,137.0 96.1,141.9 96.2,139.1 96.2,138.2 96.3,138.2 96.3,140.2 96.3,135.6 96.4,137.9 96.4,137.8 96.4,140.7 96.5,137.7 96.5,136.4 96.6,136.1 96.6,136.5 96.6,137.6 96.7,137.9 96.7,137.2 96.7,136.4 96.8,137.9 96.8,137.9 96.9,136.9 96.9,138.0 96.9,137.1 97.0,137.3 97.0,139.1 97.0,135.0 97.1,136.4 97.1,139.1 97.2,139.2 97.2,138.4 97.2,138.6 97.3,139.3 97.3,137.2 97.3,138.2 97.4,139.2 97.4,135.0 97.5,138.2 97.5,137.1 97.5,139.9 97.6,139.5 97.6,139.3 97.7,136.1 97.7,136.4 97.7,138.1 97.8,138.2 97.8,137.1 97.8,139.1 97.9,138.1 97.9,136.1 98.0,139.2 98.0,136.6 98.0,137.9 98.1,137.4 98.1,137.9 98.1,136.3 98.2,136.2 98.2,136.8 98.3,140.4 98.3,137.5 98.3,135.7 98.4,139.4 98.4,140.3 98.4,138.1 98.5,136.4 98.5,139.8 98.6,137.2 98.6,138.2 98.6,137.8 98.7,137.1 98.7,138.0 98.7,138.7 98.8,137.5 98.8,135.2 98.9,136.8 98.9,136.6 98.9,139.3 99.0,138.6 99.0,140.0 99.0,136.2 99.1,136.1 99.1,137.1 99.2,136.5 99.2,138.5 99.2,138.4 99.3,135.8 99.3,138.5 99.3,136.1 99.4,135.0 99.4,139.7 99.5,139.3 99.5,135.0 99.5,136.2 99.6,135.2 99.6,135.0 99.6,138.3 99.7,134.4 99.7,135.5 99.8,136.1 99.8,137.3 99.8,138.4 99.9,139.1 99.9,140.2 99.9,139.2 100.0,139.1 100.0,137.5 100.1,139.0 100.1,140.8 100.1,137.6 100.2,141.3 100.2,138.4 100.2,136.7 100.3,140.5 100.3,139.9 100.4,138.0 100.4,135.7 100.4,138.1 100.5,138.6 100.5,137.4 100.6,140.8 100.6,140.4 100.6,136.7 100.7,136.5 100.7,136.8 100.7,137.6 100.8,137.1 100.8,140.8 100.9,139.6 100.9,138.5 100.9,136.2 101.0,137.5 101.0,137.7 101.0,139.7 101.1,137.6 101.1,137.1 101.2,136.8 101.2,137.9 101.2,134.3 101.3,139.7 101.3,136.2 101.3,139.8 101.4,139.8 101.4,136.5 101.5,138.3 101.5,138.9 101.5,137.6 101.6,133.3 101.6,138.6 101.6,138.2 101.7,135.5 101.7,138.5 101.8,133.5 101.8,139.7 101.8,137.9 101.9,135.9 101.9,137.9 101.9,138.4 102.0,139.9 102.0,137.7 102.1,136.0 102.1,137.9 102.1,139.2 102.2,135.2 102.2,136.0 102.2,136.5 102.3,137.8 102.3,138.9 102.4,135.5 102.4,137.3 102.4,138.1 102.5,137.7 102.5,136.8 102.5,136.0 102.6,137.5 102.6,138.1 102.7,139.3 102.7,137.9 102.7,137.8 102.8,136.9 102.8,137.4 102.8,138.3 102.9,137.6 102.9,136.3 103.0,137.5 103.0,137.7 103.0,137.8 103.1,137.9 103.1,136.8 103.1,136.3 103.2,137.8 103.2,137.6 103.3,136.7 103.3,136.0 103.3,135.0 103.4,139.5 103.4,135.9 103.4,138.1 103.5,136.2 103.5,135.7 103.6,134.2 103.6,138.1 103.6,135.5 103.7,141.3 103.7,137.1 103.8,140.9 103.8,138.4 103.8,139.1 103.9,139.6 103.9,137.2 103.9,139.0 104.0,139.1 104.0,138.5 104.1,138.0 104.1,136.3 104.1,137.9 104.2,138.7 104.2,140.0 104.2,136.2 104.3,136.7 104.3,136.1 104.4,138.3 104.4,135.1 104.4,136.2 104.5,133.3 104.5,137.7 104.5,135.7 104.6,134.4 104.6,137.5 104.7,137.1 104.7,137.9 104.7,137.5 104.8,135.7 104.8,136.7 104.8,138.8 104.9,132.9 104.9,138.3 105.0,135.1 105.0,137.0 105.0,135.9 105.1,136.1 105.1,135.7 105.1,135.7 105.2,134.1 105.2,138.1 105.3,139.2 105.3,139.8 105.3,140.4 105.4,136.1 105.4,139.9 105.4,139.7 105.5,136.6 105.5,137.5 105.6,136.8 105.6,141.5 105.6,139.1 105.7,139.6 105.7,137.0 105.7,137.1 105.8,136.3 105.8,134.9 105.9,131.2 105.9,137.8 105.9,135.8 106.0,135.4 106.0,137.1 106.0,138.6 106.1,135.5 106.1,135.5 106.2,136.0 106.2,138.2 106.2,140.7 106.3,138.7 106.3,135.0 106.3,135.0 106.4,138.7 106.4,136.6 106.5,134.8 106.5,134.8 106.5,138.6 106.6,137.3 106.6,137.1 106.7,138.9 106.7,134.1 106.7,140.0 106.8,136.4 106.8,135.3 106.8,136.3 106.9,135.8 106.9,140.8 107.0,137.0 107.0,136.6 107.0,136.6 107.1,139.3 107.1,137.5 107.1,138.5 107.2,134.7 107.2,138.2 107.3,137.3 107.3,137.4 107.3,137.5 107.4,134.2 107.4,134.7 107.4,136.5 107.5,137.7 107.5,137.9 107.6,140.3 107.6,137.0 107.6,136.6 107.7,137.4 107.7,138.7 107.7,135.1 107.8,135.9 107.8,136.9 107.9,134.5 107.9,136.7 107.9,134.1 108.0,137.5 108.0,136.9 108.0,138.2 108.1,135.7 108.1,138.0 108.2,136.5 108.2,137.0 108.2,138.5 108.3,133.5 108.3,135.4 108.3,137.7 108.4,135.9 108.4,136.7 108.5,138.0 108.5,134.2 108.5,135.9 108.6,136.3 108.6,136.5 108.6,136.2 108.7,136.1 108.7,136.9 108.8,137.0 108.8,137.2 108.8,139.9 108.9,137.7 108.9,135.3 108.9,134.8 109.0,137.1 109.0,138.8 109.1,135.7 109.1,138.8 109.1,139.2 109.2,139.8 109.2,140.9 109.2,134.3 109.3,137.4 109.3,142.3 109.4,138.9 109.4,140.4 109.4,136.1 109.5,138.7 109.5,138.9 109.6,136.6 109.6,134.9 109.6,139.0 109.7,137.8 109.7,139.3 109.7,136.2 109.8,137.3 109.8,137.5 109.9,139.1 109.9,135.2 109.9,138.2 110.0,135.8 110.0,135.7 110.0,139.7 110.1,138.1 110.1,137.3 110.2,139.5 110.2,137.9 110.2,137.2 110.3,140.5 110.3,138.2 110.3,137.2 110.4,138.5 110.4,138.7 110.5,140.1 110.5,137.7 110.5,137.4 110.6,137.9 110.6,135.4 110.6,137.7 110.7,138.4 110.7,134.8 110.8,136.5 110.8,135.9 110.8,135.5 110.9,138.6 110.9,139.3 110.9,134.9 111.0,140.9 111.0,138.6 111.1,135.0 111.1,138.8 111.1,136.4 111.2,139.0 111.2,133.7 111.2,137.8 111.3,136.3 111.3,139.9 111.4,136.4 111.4,136.5 111.4,138.4 111.5,136.5 111.5,138.0 111.5,137.0 111.6,138.5 111.6,138.4 111.7,139.7 111.7,136.9 111.7,138.0 111.8,138.8 111.8,134.9 111.8,137.6 111.9,137.9 111.9,138.9 112.0,136.1 112.0,137.4 112.0,139.0 112.1,138.1 112.1,136.7 112.1,137.5 112.2,135.7 112.2,135.9 112.3,133.9 112.3,138.7 112.3,137.7 112.4,138.0 112.4,138.0 112.5,137.5 112.5,138.2 112.5,136.1 112.6,139.7 112.6,137.5 112.6,136.6 112.7,135.9 112.7,137.6 112.8,137.1 112.8,137.5 112.8,136.8 112.9,137.9 112.9,136.4 112.9,135.3 113.0,134.1 113.0,138.2 113.1,136.2 113.1,137.1 113.1,136.9 113.2,138.3 113.2,137.4 113.2,136.6 113.3,137.5 113.3,138.2 113.4,135.5 113.4,137.3 113.4,137.9 113.5,137.5 113.5,137.9 113.5,138.8 113.6,136.7 113.6,137.9 113.7,139.6 113.7,135.9 113.7,138.1 113.8,140.0 113.8,137.7 113.8,138.7 113.9,137.2 113.9,139.5 114.0,138.2 114.0,140.3 114.0,139.8 114.1,137.4 114.1,138.5 114.1,135.0 114.2,138.8 114.2,137.3 114.3,139.7 114.3,135.0 114.3,137.5 114.4,140.1 114.4,137.1 114.4,138.3 114.5,133.9 114.5,135.7 114.6,138.8 114.6,136.3 114.6,136.7 114.7,138.1 114.7,138.0 114.7,137.9 114.8,139.1 114.8,137.0 114.9,138.3 114.9,137.6 114.9,138.0 115.0,138.6 115.0,134.2 115.0,136.9 115.1,136.3 115.1,132.9 115.2,137.5 115.2,138.6 115.2,140.2 115.3,139.8 115.3,136.3 115.4,139.7 115.4,140.8 115.4,137.3 115.5,137.5 115.5,134.6 115.5,139.8 115.6,135.7 115.6,141.3 115.7,135.3 115.7,137.0 115.7,139.0 115.8,135.4 115.8,137.2 115.8,136.5 115.9,137.4 115.9,135.6 116.0,136.4 116.0,139.1 116.0,139.0 116.1,138.9 116.1,136.2 116.1,136.5 116.2,137.1 116.2,137.9 116.3,138.5 116.3,137.0 116.3,136.2 116.4,136.3 116.4,134.9 116.4,134.7 116.5,138.2 116.5,133.4 116.6,135.1 116.6,137.1 116.6,137.0 116.7,136.7 116.7,138.5 116.7,138.8 116.8,137.6 116.8,138.3 116.9,142.5 116.9,136.7 116.9,140.9 117.0,137.2 117.0,138.3 117.0,138.8 117.1,136.5 117.1,139.1 117.2,139.4 117.2,137.3 117.2,137.4 117.3,139.0 117.3,139.1 117.3,139.1 117.4,137.3 117.4,137.1 117.5,136.4 117.5,138.0 117.5,139.3 117.6,136.6 117.6,133.4 117.6,135.1 117.7,139.5 117.7,136.5 117.8,137.9 117.8,137.9 117.8,138.2 117.9,139.1 117.9,140.2 117.9,137.0 118.0,139.4 118.0,138.6 118.1,138.3 118.1,137.5 118.1,138.4 118.2,137.9 118.2,138.3 118.3,137.2 118.3,137.0 118.3,135.1 118.4,136.7 118.4,138.5 118.4,136.6 118.5,136.0 118.5,138.5 118.6,138.5 118.6,141.3 118.6,135.0 118.7,137.3 118.7,135.2 118.7,140.1 118.8,141.4 118.8,137.0 118.9,138.9 118.9,137.2 118.9,138.8 119.0,136.1 119.0,138.0 119.0,137.7 119.1,136.6 119.1,138.2 119.2,138.0 119.2,135.3 119.2,137.5 119.3,137.0 119.3,136.6 119.3,137.2 119.4,136.5 119.4,134.2 119.5,135.6 119.5,139.8 119.5,141.1 119.6,138.9 119.6,141.4 119.6,141.9 119.7,139.2 119.7,139.0 119.8,137.1 119.8,136.7 119.8,133.8 119.9,138.6 119.9,138.5 119.9,137.1 120.0,135.6 120.0,137.9 120.1,139.0 120.1,142.0 120.1,136.1 120.2,137.9 120.2,134.9 120.2,134.5 120.3,134.3 120.3,136.7 120.4,136.0 120.4,139.8 120.4,136.8 120.5,138.1 120.5,135.8 120.5,138.4 120.6,137.9 120.6,138.9 120.7,134.5 120.7,137.4 120.7,139.2 120.8,138.2 120.8,139.7 120.8,135.6 120.9,135.5 120.9,137.3 121.0,137.1 121.0,140.0 121.0,135.0 121.1,137.7 121.1,134.2 121.2,138.5 121.2,136.8 121.2,136.1 121.3,136.2 121.3,137.7 121.3,135.7 121.4,136.9 121.4,137.5 121.5,139.3 121.5,135.4 121.5,137.4 121.6,136.7 121.6,137.6 121.6,136.9 121.7,138.1 121.7,133.2 121.8,134.4 121.8,136.3 121.8,137.0 121.9,136.3 121.9,138.8 121.9,136.4 122.0,137.6 122.0,138.1 122.1,138.5 122.1,138.5 122.1,136.6 122.2,137.3 122.2,138.7 122.2,136.7 122.3,137.1 122.3,137.5 122.4,134.9 122.4,137.7 122.4,139.5 122.5,137.0 122.5,138.9 122.5,135.9 122.6,136.3 122.6,137.8 122.7,136.4 122.7,137.9 122.7,138.0 122.8,140.2 122.8,140.7 122.8,137.9 122.9,134.3 122.9,139.2 123.0,137.3 123.0,138.3 123.0,136.3 123.1,138.6 123.1,137.4 123.1,136.5 123.2,138.0 123.2,137.5 123.3,137.6 123.3,136.3 123.3,136.2 123.4,136.0 123.4,136.5 123.4,138.9 123.5,137.9 123.5,136.4 123.6,137.1 123.6,135.8 123.6,139.3 123.7,138.7 123.7,138.6 123.7,136.7 123.8,138.3 123.8,138.7 123.9,136.7 123.9,137.9 123.9,139.0 124.0,136.5 124.0,137.4 124.0,136.4 124.1,136.3 124.1,138.2 124.2,137.7 124.2,137.4 124.2,136.1 124.3,137.3 124.3,135.5 124.4,138.1 124.4,137.2 124.4,135.1 124.5,139.5 124.5,139.3 124.5,136.1 124.6,136.0 124.6,135.6 124.7,135.9 124.7,135.6 124.7,138.1 124.8,137.2 124.8,136.3 124.8,139.2 124.9,139.3 124.9,138.2 125.0,135.6 125.0,136.0 125.0,139.3 125.1,138.1 125.1,138.1 125.1,137.1 125.2,136.9 125.2,137.2 125.3,138.7 125.3,135.4 125.3,135.5 125.4,138.9 125.4,137.5 125.4,135.5 125.5,136.6 125.5,136.4 125.6,137.9 125.6,134.9 125.6,138.9 125.7,135.7 125.7,134.3 125.7,138.3 125.8,135.0 125.8,135.8 125.9,138.1 125.9,136.8 125.9,134.8 126.0,137.8 126.0,137.8 126.0,141.7 126.1,139.7 126.1,137.7 126.2,137.3 126.2,136.1 126.2,135.6 126.3,133.9 126.3,135.9 126.3,132.3 126.4,135.8 126.4,134.8 126.5,138.3 126.5,136.3 126.5,135.4 126.6,135.4 126.6,137.7 126.6,137.0 126.7,139.0 126.7,136.4 126.8,138.7 126.8,135.4 126.8,136.6 126.9,135.8 126.9,136.0 126.9,136.3 127.0,135.7 127.0,136.9 127.1,139.6 127.1,135.0 127.1,138.2 127.2,135.6 127.2,136.2 127.3,136.4 127.3,136.8 127.3,136.6 127.4,136.8 127.4,137.1 127.4,137.3 127.5,136.6 127.5,136.1 127.6,137.8 127.6,136.8 127.6,139.3 127.7,138.5 127.7,140.0 127.7,137.6 127.8,136.6 127.8,136.1 127.9,139.4 127.9,135.9 127.9,138.9 128.0,137.9 128.0,138.0 128.0,134.7 128.1,137.0 128.1,133.9 128.2,135.7 128.2,137.7 128.2,136.6 128.3,135.1 128.3,138.7 128.3,138.1 128.4,137.4 128.4,137.8 128.5,137.7 128.5,134.6 128.5,137.1 128.6,137.9 128.6,138.0 128.6,139.5 128.7,136.1 128.7,138.4 128.8,131.7 128.8,136.7 128.8,138.4 128.9,139.4 128.9,138.2 128.9,136.8 129.0,138.4 129.0,136.5 129.1,136.4 129.1,136.6 129.1,136.7 129.2,137.5 129.2,138.6 129.2,139.6 129.3,140.2 129.3,138.3 129.4,136.5 129.4,137.6 129.4,139.3 129.5,136.2 129.5,139.2 129.5,139.6 129.6,139.3 129.6,138.8 129.7,137.9 129.7,139.7 129.7,140.3 129.8,137.1 129.8,137.4 129.8,137.0 129.9,136.6 129.9,137.7 130.0,135.0 130.0,138.2 130.0,137.9 130.1,135.8 130.1,137.2 130.2,138.1 130.2,137.9 130.2,139.8 130.3,136.9 130.3,138.3 130.3,137.2 130.4,135.8 130.4,136.7 130.5,137.6 130.5,137.4 130.5,137.8 130.6,135.3 130.6,141.0 130.6,138.7 130.7,139.3 130.7,137.3 130.8,138.3 130.8,137.8 130.8,134.9 130.9,137.6 130.9,136.6 130.9,138.6 131.0,139.1 131.0,139.6 131.1,135.7 131.1,139.8 131.1,138.7 131.2,134.3 131.2,137.4 131.2,137.9 131.3,138.4 131.3,139.8 131.4,137.4 131.4,136.4 131.4,139.4 131.5,138.8 131.5,135.4 131.5,138.6 131.6,136.8 131.6,134.3 131.7,139.4 131.7,138.1 131.7,139.4 131.8,141.6 131.8,135.9 131.8,137.0 131.9,138.4 131.9,137.3 132.0,138.9 132.0,140.3 132.0,139.0 132.1,139.2 132.1,139.6 132.1,136.3 132.2,139.4 132.2,139.8 132.3,137.7 132.3,137.3 132.3,135.4 132.4,137.6 132.4,140.2 132.4,139.4 132.5,136.5 132.5,139.1 132.6,137.2 132.6,135.0 132.6,140.3 132.7,140.4 132.7,138.3 132.7,138.0 132.8,136.5 132.8,140.5 132.9,137.0 132.9,138.3 132.9,140.7 133.0,138.3 133.0,137.1 133.1,135.0 133.1,138.9 133.1,136.8 133.2,140.0 133.2,136.2 133.2,137.7 133.3,135.3 133.3,140.0 133.4,139.7 133.4,140.6 133.4,135.0 133.5,138.6 133.5,140.8 133.5,139.0 133.6,136.5 133.6,136.8 133.7,137.1 133.7,140.0 133.7,138.1 133.8,141.0 133.8,140.2 133.8,136.8 133.9,136.3 133.9,138.2 134.0,140.7 134.0,139.3 134.0,138.4 134.1,135.2 134.1,138.8 134.1,140.1 134.2,139.7 134.2,139.1 134.3,138.6 134.3,138.1 134.3,134.5 134.4,138.7 134.4,141.2 134.4,136.1 134.5,139.0 134.5,139.0 134.6,138.6 134.6,137.2 134.6,137.5 134.7,137.0 134.7,138.3 134.7,137.6 134.8,139.5 134.8,139.4 134.9,138.7 134.9,138.4 134.9,140.5 135.0,139.7 135.0,135.7 135.0,135.8 135.1,135.1 135.1,135.8 135.2,136.2 135.2,134.9 135.2,136.6 135.3,138.2 135.3,138.2 135.3,137.1 135.4,137.0 135.4,137.9 135.5,138.2 135.5,137.7 135.5,139.0 135.6,134.0 135.6,136.8 135.6,140.9 135.7,136.2 135.7,139.0 135.8,138.0 135.8,137.6 135.8,136.2 135.9,137.7 135.9,137.1 136.0,137.8 136.0,133.8 136.0,137.7 136.1,139.1 136.1,139.7 136.1,137.6 136.2,138.3 136.2,137.3 136.3,136.9 136.3,139.5 136.3,137.5 136.4,138.8 136.4,138.7 136.4,139.1 136.5,138.0 136.5,138.8 136.6,138.7 136.6,138.2 136.6,139.7 136.7,135.4 136.7,136.6 136.7,138.2 136.8,137.1 136.8,139.1 136.9,137.4 136.9,140.1 136.9,137.7 137.0,137.4 137.0,138.2 137.0,136.4 137.1,138.9 137.1,137.4 137.2,136.7 137.2,136.8 137.2,137.6 137.3,134.9 137.3,136.3 137.3,136.5 137.4,138.8 137.4,137.5 137.5,138.5 137.5,134.3 137.5,137.0 137.6,138.9 137.6,136.2 137.6,135.8 137.7,138.6 137.7,137.3 137.8,133.5 137.8,137.5 137.8,137.0 137.9,132.5 137.9,137.6 137.9,139.5 138.0,139.2 138.0,137.4 138.1,136.3 138.1,139.0 138.1,140.9 138.2,136.7 138.2,138.0 138.2,138.4 138.3,139.1 138.3,135.8 138.4,137.9 138.4,139.8 138.4,139.2 138.5,138.4 138.5,140.0 138.5,138.5 138.6,135.7 138.6,136.2 138.7,136.0 138.7,136.0 138.7,137.4 138.8,137.0 138.8,140.4 138.9,136.4 138.9,136.6 138.9,137.2 139.0,137.2 139.0,139.4 139.0,138.4 139.1,140.2 139.1,138.4 139.2,138.0 139.2,138.6 139.2,135.7 139.3,139.0 139.3,137.0 139.3,137.3 139.4,137.9 139.4,136.7 139.5,136.9 139.5,138.2 139.5,135.4 139.6,137.8 139.6,136.6 139.6,139.3 139.7,139.1 139.7,137.3 139.8,133.8 139.8,139.6 139.8,139.5 139.9,138.8 139.9,138.3 139.9,137.4 140.0,135.8 140.0,137.8 140.1,136.6 140.1,137.5 140.1,138.5 140.2,138.3 140.2,136.7 140.2,137.2 140.3,135.3 140.3,137.2 140.4,137.7 140.4,139.3 140.4,138.7 140.5,136.8 140.5,136.9 140.5,134.7 140.6,138.4 140.6,136.4 140.7,137.5 140.7,140.8 140.7,139.3 140.8,137.0 140.8,138.0 140.8,138.5 140.9,135.6 140.9,137.7 141.0,136.9 141.0,136.1 141.0,138.1 141.1,136.3 141.1,138.9 141.1,139.4 141.2,135.5 141.2,135.2 141.3,136.1 141.3,138.5 141.3,137.8 141.4,138.8 141.4,138.8 141.4,137.1 141.5,138.0 141.5,135.4 141.6,139.8 141.6,138.1 141.6,139.2 141.7,139.4 141.7,134.2 141.8,134.7 141.8,136.6 141.8,136.4 141.9,136.3 141.9,137.2 141.9,142.4 142.0,141.0 142.0,136.4 142.1,141.5 142.1,135.0 142.1,136.0 142.2,136.8 142.2,136.7 142.2,136.2 142.3,138.4 142.3,134.4 142.4,137.8 142.4,138.9 142.4,134.4 142.5,137.2 142.5,136.9 142.5,135.5 142.6,133.8 142.6,137.5 142.7,137.3 142.7,139.8 142.7,137.4 142.8,134.7 142.8,138.7 142.8,139.0 142.9,140.3 142.9,139.6 143.0,139.7 143.0,137.5 143.0,137.1 143.1,140.9 143.1,136.8 143.1,135.4 143.2,136.2 143.2,138.8 143.3,136.2 143.3,138.4 143.3,139.4 143.4,139.9 143.4,140.1 143.4,138.2 143.5,136.6 143.5,140.6 143.6,141.0 143.6,135.7 143.6,139.2 143.7,134.0 143.7,137.0 143.7,140.0 143.8,136.1 143.8,136.0 143.9,140.5 143.9,138.1 143.9,135.4 144.0,140.2 144.0,137.0 144.0,137.1 144.1,134.4 144.1,135.5 144.2,138.3 144.2,140.1 144.2,138.3 144.3,137.5 144.3,137.7 144.3,138.4 144.4,139.3 144.4,135.6 144.5,138.3 144.5,138.9 144.5,137.3 144.6,137.5 144.6,137.7 144.6,135.7 144.7,139.4 144.7,137.3 144.8,136.0 144.8,138.5 144.8,137.5 144.9,136.6 144.9,136.8 145.0,137.7 145.0,139.8 145.0,139.2 145.1,137.7 145.1,138.2 145.1,138.2 145.2,138.6 145.2,140.6 145.3,136.7 145.3,139.5 145.3,135.1 145.4,133.1 145.4,136.4 145.4,136.9 145.5,138.8 145.5,139.3 145.6,138.4 145.6,136.0 145.6,137.7 145.7,140.4 145.7,136.4 145.7,138.6 145.8,136.4 145.8,137.7 145.9,139.0 145.9,138.5 145.9,136.5 146.0,138.7 146.0,135.5 146.0,139.1 146.1,135.4 146.1,140.0 146.2,139.6 146.2,136.8 146.2,135.3 146.3,138.3 146.3,136.5 146.3,139.3 146.4,139.4 146.4,137.7 146.5,134.2 146.5,138.2 146.5,140.5 146.6,141.9 146.6,137.9 146.6,136.8 146.7,138.4 146.7,137.5 146.8,139.1 146.8,135.7 146.8,137.0 146.9,140.2 146.9,138.9 146.9,135.8 147.0,137.9 147.0,141.8 147.1,138.5 147.1,138.7 147.1,142.4 147.2,137.1 147.2,135.6 147.2,138.8 147.3,139.4 147.3,138.3 147.4,138.7 147.4,138.1 147.4,137.1 147.5,140.6 147.5,138.5 147.5,134.8 147.6,138.2 147.6,137.8 147.7,137.4 147.7,139.3 147.7,140.3 147.8,134.2 147.8,137.9 147.9,139.6 147.9,136.5 147.9,138.6 148.0,139.5 148.0,138.8 148.0,140.2 148.1,139.6 148.1,136.4 148.2,137.7 148.2,138.4 148.2,135.7 148.3,136.7 148.3,138.6 148.3,140.4 148.4,138.8 148.4,135.8 148.5,139.4 148.5,134.3 148.5,138.2 148.6,140.1 148.6,138.6 148.6,135.4 148.7,138.9 148.7,137.1 148.8,136.6 148.8,138.8 148.8,136.1 148.9,135.4 148.9,136.5 148.9,140.8 149.0,137.3 149.0,136.6 149.1,136.3 149.1,134.7 149.1,137.3 149.2,137.7 149.2,141.2 149.2,139.7 149.3,135.9 149.3,139.7 149.4,138.1 149.4,140.6 149.4,138.2 149.5,139.8 149.5,136.9 149.5,137.8 149.6,137.1 149.6,140.3 149.7,138.0 149.7,136.3 149.7,143.0 149.8,138.7 149.8,137.8 149.8,136.3 149.9,136.7 149.9,136.6 150.0,137.1 150.0,136.3 150.0,137.9 150.1,137.8 150.1,139.6 150.1,138.0 150.2,138.0 150.2,135.0 150.3,139.5 150.3,137.1 150.3,138.0 150.4,137.5 150.4,135.7 150.4,137.6 150.5,139.1 150.5,137.3 150.6,135.9 150.6,137.0 150.6,136.3 150.7,139.8 150.7,135.9 150.8,138.3 150.8,139.5 150.8,136.9 150.9,139.8 150.9,136.9 150.9,134.7 151.0,138.3 151.0,138.9 151.1,135.5 151.1,136.3 151.1,135.9 151.2,140.6 151.2,138.8 151.2,134.2 151.3,138.7 151.3,138.1 151.4,137.2 151.4,137.0 151.4,137.7 151.5,141.8 151.5,136.5 151.5,139.4 151.6,135.8 151.6,135.3 151.7,139.3 151.7,137.2 151.7,134.7 151.8,134.5 151.8,135.8 151.8,138.3 151.9,136.7 151.9,139.0 152.0,134.9 152.0,136.9 152.0,135.1 152.1,141.7 152.1,138.4 152.1,138.4 152.2,138.2 152.2,139.6 152.3,136.7 152.3,139.0 152.3,134.4 152.4,138.2 152.4,138.3 152.4,138.7 152.5,136.6 152.5,137.0 152.6,139.2 152.6,142.7 152.6,138.2 152.7,139.0 152.7,137.6 152.7,139.1 152.8,137.1 152.8,139.5 152.9,137.2 152.9,138.0 152.9,136.0 153.0,137.9 153.0,136.6 153.0,138.2 153.1,138.0 153.1,138.8 153.2,139.8 153.2,137.4 153.2,137.7 153.3,135.0 153.3,136.9 153.3,134.5 153.4,134.4 153.4,137.2 153.5,139.4 153.5,138.1 153.5,136.0 153.6,137.8 153.6,135.8 153.7,138.3 153.7,137.5 153.7,136.1 153.8,136.6 153.8,137.1 153.8,137.3 153.9,136.7 153.9,137.8 154.0,136.0 154.0,138.7 154.0,132.6 154.1,137.3 154.1,139.1 154.1,140.5 154.2,139.3 154.2,137.1 154.3,138.6 154.3,135.8 154.3,138.3 154.4,139.5 154.4,138.3 154.4,138.7 154.5,138.1 154.5,139.7 154.6,138.0 154.6,141.0 154.6,137.6 154.7,138.0 154.7,138.1 154.7,139.2 154.8,137.9 154.8,137.5 154.9,140.8 154.9,136.2 154.9,138.1 155.0,137.0 155.0,135.3 155.0,140.0 155.1,139.6 155.1,139.5 155.2,137.8 155.2,139.6 155.2,139.4 155.3,135.0 155.3,138.3 155.3,137.2 155.4,136.2 155.4,135.5 155.5,140.4 155.5,137.3 155.5,136.7 155.6,136.1 155.6,139.1 155.6,138.7 155.7,137.7 155.7,137.9 155.8,138.5 155.8,139.0 155.8,138.2 155.9,138.5 155.9,137.6 155.9,139.1 156.0,139.8 156.0,138.8 156.1,138.4 156.1,136.3 156.1,138.8 156.2,141.6 156.2,134.4 156.2,136.0 156.3,137.1 156.3,137.3 156.4,138.1 156.4,135.1 156.4,140.2 156.5,136.9 156.5,136.9 156.6,134.1 156.6,138.3 156.6,135.6 156.7,137.4 156.7,139.9 156.7,140.1 156.8,136.1 156.8,140.2 156.9,138.7 156.9,135.3 156.9,139.8 157.0,137.2 157.0,134.8 157.0,135.5 157.1,136.8 157.1,139.4 157.2,135.0 157.2,137.3 157.2,138.0 157.3,140.0 157.3,141.8 157.3,137.4 157.4,138.9 157.4,141.0 157.5,136.5 157.5,137.6 157.5,139.1 157.6,138.7 157.6,137.1 157.6,137.1 157.7,139.6 157.7,136.4 157.8,138.3 157.8,139.7 157.8,138.2 157.9,137.9 157.9,136.0 157.9,136.8 158.0,141.8 158.0,140.0 158.1,136.6 158.1,137.5 158.1,139.6 158.2,138.8 158.2,135.2 158.2,141.9 158.3,135.8 158.3,136.1 158.4,138.9 158.4,138.3 158.4,137.2 158.5,137.7 158.5,137.1 158.5,135.8 158.6,138.9 158.6,137.8 158.7,137.0 158.7,138.5 158.7,137.8 158.8,135.3 158.8,141.3 158.8,137.3 158.9,138.7 158.9,139.7 159.0,138.2 159.0,137.2 159.0,136.4 159.1,139.1 159.1,136.7 159.1,135.3 159.2,137.5 159.2,136.6 159.3,137.0 159.3,136.7 159.3,139.4 159.4,135.7 159.4,137.0 159.5,134.7 159.5,136.4 159.5,139.3 159.6,135.8 159.6,135.4 159.6,136.0 159.7,138.3 159.7,138.5 159.8,135.5 159.8,139.1 159.8,136.3 159.9,137.5 159.9,138.9 159.9,138.4 160.0,138.7 160.0,136.9 160.1,138.9 160.1,137.9 160.1,138.1 160.2,137.1 160.2,136.0 160.2,140.3 160.3,137.0 160.3,138.9 160.4,138.1 160.4,138.0 160.4,135.1 160.5,135.2 160.5,138.2 160.5,138.2 160.6,135.3 160.6,136.9 160.7,134.6 160.7,138.9 160.7,135.8 160.8,138.6 160.8,142.7 160.8,136.4 160.9,139.3 160.9,136.5 161.0,138.2 161.0,135.6 161.0,140.0 161.1,140.4 161.1,135.2 161.1,135.8 161.2,137.5 161.2,140.4 161.3,136.2 161.3,133.5 161.3,138.3 161.4,138.4 161.4,139.1 161.4,136.9 161.5,137.8 161.5,140.3 161.6,138.9 161.6,136.1 161.6,139.6 161.7,137.3 161.7,135.9 161.7,136.4 161.8,140.7 161.8,136.7 161.9,139.6 161.9,141.1 161.9,137.2 162.0,140.4 162.0,138.1 162.0,135.6 162.1,136.8 162.1,137.9 162.2,136.1 162.2,137.6 162.2,136.3 162.3,135.8 162.3,139.4 162.4,134.9 162.4,137.9 162.4,137.6 162.5,137.4 162.5,138.1 162.5,138.4 162.6,136.8 162.6,138.7 162.7,136.9 162.7,136.4 162.7,138.6 162.8,138.2 162.8,136.7 162.8,137.7 162.9,136.6 162.9,137.7 163.0,138.2 163.0,138.0 163.0,137.1 163.1,135.6 163.1,140.5 163.1,138.4 163.2,138.3 163.2,138.9 163.3,138.4 163.3,135.6 163.3,135.9 163.4,138.6 163.4,140.0 163.4,136.9 163.5,136.8 163.5,139.6 163.6,137.2 163.6,136.8 163.6,136.4 163.7,138.4 163.7,136.7 163.7,137.8 163.8,136.1 163.8,137.1 163.9,136.5 163.9,137.5 163.9,137.9 164.0,137.1 164.0,136.0 164.0,138.1 164.1,136.9 164.1,133.4 164.2,138.6 164.2,139.7 164.2,139.1 164.3,137.9 164.3,137.5 164.3,141.2 164.4,140.8 164.4,136.1 164.5,139.8 164.5,136.3 164.5,135.4 164.6,142.6 164.6,136.5 164.6,137.4 164.7,138.0 164.7,136.8 164.8,137.5 164.8,136.5 164.8,134.3 164.9,136.9 164.9,139.4 164.9,135.0 165.0,135.5 165.0,134.9 165.1,136.7 165.1,135.9 165.1,134.0 165.2,137.5 165.2,138.4 165.3,134.9 165.3,137.9 165.3,135.4 165.4,138.2 165.4,138.1 165.4,136.8 165.5,136.8 165.5,138.6 165.6,134.6 165.6,138.0 165.6,136.1 165.7,138.8 165.7,138.3 165.7,138.2 165.8,137.0 165.8,137.0 165.9,136.9 165.9,137.2 165.9,135.7 166.0,135.7 166.0,137.9 166.0,137.0 166.1,136.4 166.1,136.0 166.2,136.3 166.2,137.8 166.2,137.7 166.3,137.1 166.3,136.4 166.3,138.9 166.4,138.8 166.4,137.8 166.5,137.0 166.5,138.2 166.5,137.9 166.6,138.5 166.6,136.3 166.6,140.5 166.7,137.2 166.7,138.2 166.8,137.1 166.8,136.8 166.8,142.1 166.9,135.3 166.9,135.9 166.9,134.5 167.0,135.8 167.0,135.6 167.1,136.2 167.1,134.4 167.1,139.3 167.2,137.2 167.2,138.6 167.2,135.6 167.3,136.6 167.3,134.3 167.4,136.8 167.4,137.3 167.4,137.3 167.5,138.3 167.5,140.4 167.5,137.1 167.6,137.7 167.6,137.7 167.7,138.9 167.7,136.8 167.7,138.7 167.8,136.5 167.8,137.4 167.8,137.5 167.9,139.6 167.9,136.4 168.0,135.5 168.0,137.2 168.0,137.9 168.1,135.9 168.1,135.6 168.1,137.7 168.2,132.4 168.2,134.9 168.3,134.5 168.3,136.3 168.3,136.3 168.4,138.6 168.4,137.4 168.5,136.9 168.5,135.8 168.5,137.8 168.6,138.4 168.6,135.1 168.6,136.8 168.7,135.4 168.7,136.8 168.8,138.0 168.8,137.1 168.8,141.1 168.9,135.4 168.9,136.1 168.9,135.1 169.0,137.4 169.0,133.8 169.1,135.0 169.1,140.0 169.1,140.0 169.2,136.7 169.2,139.4 169.2,137.3 169.3,137.4 169.3,137.6 169.4,134.6 169.4,136.2 169.4,136.1 169.5,136.7 169.5,132.2 169.5,134.9 169.6,138.3 169.6,136.2 169.7,138.4 169.7,137.5 169.7,137.3 169.8,139.5 169.8,140.3 169.8,139.2 169.9,136.3 169.9,141.9 170.0,136.2 170.0,140.8 170.0,138.5 170.1,138.1 170.1,136.0 170.1,137.2 170.2,139.1 170.2,138.2 170.3,136.9 170.3,135.5 170.3,136.8 170.4,137.5 170.4,137.8 170.4,134.7 170.5,138.7 170.5,138.1 170.6,136.8 170.6,135.2 170.6,140.3 170.7,135.7 170.7,135.4 170.7,137.0 170.8,140.6 170.8,138.6 170.9,137.7 170.9,137.0 170.9,139.5 171.0,137.9 171.0,136.3 171.0,138.4 171.1,138.0 171.1,138.3 171.2,139.9 171.2,138.1 171.2,137.9 171.3,136.3 171.3,138.9 171.4,139.8 171.4,138.4 171.4,139.1 171.5,136.6 171.5,138.5 171.5,140.2 171.6,136.6 171.6,137.7 171.7,137.3 171.7,137.0 171.7,135.9 171.8,139.2 171.8,136.6 171.8,137.5 171.9,137.6 171.9,137.8 172.0,138.5 172.0,137.3 172.0,137.6 172.1,136.6 172.1,135.2 172.1,139.4 172.2,134.4 172.2,135.9 172.3,139.7 172.3,138.0 172.3,137.7 172.4,135.8 172.4,139.4 172.4,134.9 172.5,139.6 172.5,138.4 172.6,138.8 172.6,139.9 172.6,139.7 172.7,138.8 172.7,138.2 172.7,138.8 172.8,139.4 172.8,142.2 172.9,138.3 172.9,134.7 172.9,135.0 173.0,135.9 173.0,138.5 173.0,137.0 173.1,138.8 173.1,138.7 173.2,137.6 173.2,136.2 173.2,138.7 173.3,139.0 173.3,137.9 173.3,140.4 173.4,136.5 173.4,136.2 173.5,135.9 173.5,136.6 173.5,138.9 173.6,138.3 173.6,139.5 173.6,137.4 173.7,134.3 173.7,139.6 173.8,136.9 173.8,135.6 173.8,139.7 173.9,134.4 173.9,139.1 173.9,138.1 174.0,137.2 174.0,136.4 174.1,136.6 174.1,138.4 174.1,139.0 174.2,141.9 174.2,138.8 174.3,135.8 174.3,139.3 174.3,136.9 174.4,136.7 174.4,137.6 174.4,138.9 174.5,138.9 174.5,138.0 174.6,140.9 174.6,135.6 174.6,139.7 174.7,139.0 174.7,139.0 174.7,138.4 174.8,137.3 174.8,135.9 174.9,137.5 174.9,135.3 174.9,138.5 175.0,136.7 175.0,136.6 175.0,137.6 175.1,136.8 175.1,139.6 175.2,135.7 175.2,136.5 175.2,137.6 175.3,138.5 175.3,136.5 175.3,139.7 175.4,136.6 175.4,136.3 175.5,133.6 175.5,138.0 175.5,135.6 175.6,136.8 175.6,140.6 175.6,140.0 175.7,138.8 175.7,135.9 175.8,135.4 175.8,138.3 175.8,137.1 175.9,137.5 175.9,142.0 175.9,136.0 176.0,135.4 176.0,141.6 176.1,139.4 176.1,137.9 176.1,137.9 176.2,136.0 176.2,135.8 176.2,138.7 176.3,136.6 176.3,138.9 176.4,138.3 176.4,137.4 176.4,136.8 176.5,138.8 176.5,134.5 176.5,137.4 176.6,137.7 176.6,136.4 176.7,138.8 176.7,137.2 176.7,141.8 176.8,140.6 176.8,138.3 176.8,138.5 176.9,138.3 176.9,138.8 177.0,136.7 177.0,135.6 177.0,138.5 177.1,135.9 177.1,137.0 177.2,139.7 177.2,139.9 177.2,137.6 177.3,135.8 177.3,139.2 177.3,141.2 177.4,136.0 177.4,135.7 177.5,138.0 177.5,135.8 177.5,134.2 177.6,139.0 177.6,138.2 177.6,138.2 177.7,135.8 177.7,139.0 177.8,138.1 177.8,135.4 177.8,135.9 177.9,135.8 177.9,139.1 177.9,136.8 178.0,138.6 178.0,136.0 178.1,136.7 178.1,136.4 178.1,137.9 178.2,137.3 178.2,136.9 178.2,137.9 178.3,137.0 178.3,139.2 178.4,139.6 178.4,140.4 178.4,137.8 178.5,136.2 178.5,136.8 178.5,140.9 178.6,136.9 178.6,137.5 178.7,137.8 178.7,137.2 178.7,136.6 178.8,135.3 178.8,135.5 178.8,134.4 178.9,136.6 178.9,138.5 179.0,135.3 179.0,139.6 179.0,136.2 179.1,139.3 179.1,138.5 179.1,135.5 179.2,138.6 179.2,135.8 179.3,136.5 179.3,137.8 179.3,136.3 179.4,136.5 179.4,137.3 179.4,138.6 179.5,136.1 179.5,138.1 179.6,137.6 179.6,136.8 179.6,137.7 179.7,137.1 179.7,137.0 179.7,137.0 179.8,137.3 179.8,135.2 179.9,138.3 179.9,138.2 179.9,139.6 180.0,141.4 180.0,136.4 180.1,136.7 180.1,135.1 180.1,139.9 180.2,138.7 180.2,138.4 180.2,134.2 180.3,135.9 180.3,137.7 180.4,137.5 180.4,136.9 180.4,139.3 180.5,136.9 180.5,139.2 180.5,137.3 180.6,136.3 180.6,137.0 180.7,138.6 180.7,137.9 180.7,136.1 180.8,138.3 180.8,139.7 180.8,137.9 180.9,138.3 180.9,137.8 181.0,137.4 181.0,138.0 181.0,138.0 181.1,135.9 181.1,136.4 181.1,135.8 181.2,137.3 181.2,138.0 181.3,136.9 181.3,139.8 181.3,139.3 181.4,136.0 181.4,138.2 181.4,138.5 181.5,139.2 181.5,136.7 181.6,139.4 181.6,135.4 181.6,137.0 181.7,140.3 181.7,138.2 181.7,139.0 181.8,136.5 181.8,136.5 181.9,138.2 181.9,138.4 181.9,136.6 182.0,138.4 182.0,135.1 182.0,138.4 182.1,136.8 182.1,140.6 182.2,136.7 182.2,138.4 182.2,136.9 182.3,135.5 182.3,137.6 182.3,141.5 182.4,140.7 182.4,137.2 182.5,138.8 182.5,139.2 182.5,135.6 182.6,137.7 182.6,135.8 182.6,135.8 182.7,138.0 182.7,137.1 182.8,139.3 182.8,136.6 182.8,137.4 182.9,134.7 182.9,135.9 183.0,137.6 183.0,138.4 183.0,137.7 183.1,137.3 183.1,136.0 183.1,135.6 183.2,139.3 183.2,139.0 183.3,136.7 183.3,139.3 183.3,137.4 183.4,140.2 183.4,137.8 183.4,138.1 183.5,137.8 183.5,138.4 183.6,136.5 183.6,135.9 183.6,136.1 183.7,137.8 183.7,137.9 183.7,138.4 183.8,138.5 183.8,137.6 183.9,137.6 183.9,137.7 183.9,137.0 184.0,136.0 184.0,138.4 184.0,137.8 184.1,136.5 184.1,137.1 184.2,138.7 184.2,139.3 184.2,136.3 184.3,139.1 184.3,136.7 184.3,139.0 184.4,134.5 184.4,139.1 184.5,134.4 184.5,136.2 184.5,135.1 184.6,135.4 184.6,136.5 184.6,137.9 184.7,133.4 184.7,138.1 184.8,137.1 184.8,139.6 184.8,137.4 184.9,136.4 184.9,138.5 184.9,137.2 185.0,137.9 185.0,138.0 185.1,136.4 185.1,136.0 185.1,138.6 185.2,140.3 185.2,136.7 185.2,139.2 185.3,138.2 185.3,138.8 185.4,135.8 185.4,133.9 185.4,138.5 185.5,134.0 185.5,137.3 185.5,138.1 185.6,135.7 185.6,134.4 185.7,138.0 185.7,138.1 185.7,134.6 185.8,136.2 185.8,142.2 185.9,137.9 185.9,139.0 185.9,138.6 186.0,137.5 186.0,138.5 186.0,138.4 186.1,134.3 186.1,140.4 186.2,137.5 186.2,136.8 186.2,140.2 186.3,139.7 186.3,139.7 186.3,136.4 186.4,139.6 186.4,137.0 186.5,139.8 186.5,139.9 186.5,137.1 186.6,136.5 186.6,140.1 186.6,139.6 186.7,137.5 186.7,139.6 186.8,139.9 186.8,139.8 186.8,137.5 186.9,142.3 186.9,135.1 186.9,135.4 187.0,136.0 187.0,138.4 187.1,139.2 187.1,137.2 187.1,139.9 187.2,134.5 187.2,139.1 187.2,136.1 187.3,136.7 187.3,138.8 187.4,138.4 187.4,139.4 187.4,137.9 187.5,137.1 187.5,138.0 187.5,138.6 187.6,138.0 187.6,136.0 187.7,136.5 187.7,137.2 187.7,139.1 187.8,138.8 187.8,137.2 187.8,138.7 187.9,139.2 187.9,135.8 188.0,137.8 188.0,137.6 188.0,139.0 188.1,137.6 188.1,136.7 188.1,137.6 188.2,140.5 188.2,138.8 188.3,137.1 188.3,137.6 188.3,136.4 188.4,138.5 188.4,138.1 188.4,136.5 188.5,138.1 188.5,136.6 188.6,140.9 188.6,139.6 188.6,136.5 188.7,136.7 188.7,136.8 188.7,136.5 188.8,136.5 188.8,139.9 188.9,135.4 188.9,136.6 188.9,140.0 189.0,140.2 189.0,137.3 189.1,139.1 189.1,137.2 189.1,138.5 189.2,140.5 189.2,139.4 189.2,138.6 189.3,138.0 189.3,136.7 189.4,139.1 189.4,137.2 189.4,138.3 189.5,138.2 189.5,141.8 189.5,138.8 189.6,140.3 189.6,136.8 189.7,136.1 189.7,137.2 189.7,134.5 189.8,137.5 189.8,136.5 189.8,138.4 189.9,137.3 189.9,139.6 190.0,138.4 190.0,136.1 190.0,137.8 190.1,138.4 190.1,138.0 190.1,137.0 190.2,135.5 190.2,140.3 190.3,137.8 190.3,138.0 190.3,138.2 190.4,137.8 190.4,136.9 190.4,135.8 190.5,140.6 190.5,139.7 190.6,137.5 190.6,140.1 190.6,137.0 190.7,139.1 190.7,137.9 190.7,139.6 190.8,139.2 190.8,133.2 190.9,138.3 190.9,135.3 190.9,137.8 191.0,136.7 191.0,139.1 191.0,136.9 191.1,138.6 191.1,142.5 191.2,142.1 191.2,137.9 191.2,136.6 191.3,139.0 191.3,139.5 191.3,138.7 191.4,135.0 191.4,140.8 191.5,136.7 191.5,135.8 191.5,140.0 191.6,139.3 191.6,138.4 191.6,138.9 191.7,136.2 191.7,137.6 191.8,138.6 191.8,137.1 191.8,135.7 191.9,138.4 191.9,139.1 192.0,136.2 192.0,134.8 192.0,135.1 192.1,136.4 192.1,138.0 192.1,136.3 192.2,136.7 192.2,136.6 192.3,137.7 192.3,135.9 192.3,136.2 192.4,139.7 192.4,136.4 192.4,139.3 192.5,137.4 192.5,137.8 192.6,136.8 192.6,138.4 192.6,138.2 192.7,138.5 192.7,138.4 192.7,140.0 192.8,136.7 192.8,138.6 192.9,137.0 192.9,137.6 192.9,136.9 193.0,136.6 193.0,139.8 193.0,137.8 193.1,137.3 193.1,138.8 193.2,138.7 193.2,137.0 193.2,135.5 193.3,136.7 193.3,136.5 193.3,137.1 193.4,134.4 193.4,137.6 193.5,136.1 193.5,132.0 193.5,137.0 193.6,137.7 193.6,140.2 193.6,140.4 193.7,134.1 193.7,137.6 193.8,139.2 193.8,138.5 193.8,139.5 193.9,137.7 193.9,138.8 193.9,136.7 194.0,135.2 194.0,136.9 194.1,137.6 194.1,137.6 194.1,135.4 194.2,139.9 194.2,139.3 194.2,138.6 194.3,139.7 194.3,136.9 194.4,138.3 194.4,139.3 194.4,136.8 194.5,137.9 194.5,137.0 194.5,137.7 194.6,138.6 194.6,139.5 194.7,137.0 194.7,139.3 194.7,136.0 194.8,137.3 194.8,137.8 194.9,139.1 194.9,135.0 194.9,138.2 195.0,136.8 195.0,138.8 195.0,135.8 195.1,137.0 195.1,136.0 195.2,136.4 195.2,138.0 195.2,139.2 195.3,137.6 195.3,138.8 195.3,138.4 195.4,134.9 195.4,136.2 195.5,137.2 195.5,136.6 195.5,136.2 195.6,137.3 195.6,137.8 195.6,137.5 195.7,136.9 195.7,134.2 195.8,139.6 195.8,137.6 195.8,138.6 195.9,133.7 195.9,138.5 195.9,135.6 196.0,136.6 196.0,136.8 196.1,135.9 196.1,137.0 196.1,138.1 196.2,134.5 196.2,139.6 196.2,140.7 196.3,138.9 196.3,136.5 196.4,138.8 196.4,137.5 196.4,136.1 196.5,136.5 196.5,136.9 196.5,135.8 196.6,137.5 196.6,135.8 196.7,137.2 196.7,135.0 196.7,135.7 196.8,137.4 196.8,135.5 196.8,135.9 196.9,136.0 196.9,136.8 197.0,139.3 197.0,138.2 197.0,135.9 197.1,135.2 197.1,139.9 197.1,138.9 197.2,140.7 197.2,139.5 197.3,136.3 197.3,138.3 197.3,136.5 197.4,134.9 197.4,140.2 197.4,137.1 197.5,136.7 197.5,136.5 197.6,135.5 197.6,135.3 197.6,136.2 197.7,138.7 197.7,135.2 197.8,133.6 197.8,138.9 197.8,137.3 197.9,136.5 197.9,137.7 197.9,136.7 198.0,136.6 198.0,135.2 198.1,137.6 198.1,137.3 198.1,133.8 198.2,135.2 198.2,137.7 198.2,139.0 198.3,137.1 198.3,136.1 198.4,137.4 198.4,139.3 198.4,139.1 198.5,138.1 198.5,137.0 198.5,136.6 198.6,135.1 198.6,138.2 198.7,138.5 198.7,140.0 198.7,138.8 198.8,137.5 198.8,137.6 198.8,137.4 198.9,136.8 198.9,137.7 199.0,139.5 199.0,136.8 199.0,136.5 199.1,138.4 199.1,131.6 199.1,141.3 199.2,139.7 199.2,138.1 199.3,138.1 199.3,138.7 199.3,136.7 199.4,135.2 199.4,136.2 199.4,136.7 199.5,134.4 199.5,139.6 199.6,137.4 199.6,136.9 199.6,137.6 199.7,137.3 199.7,137.4 199.7,138.1 199.8,139.0 199.8,138.9 199.9,137.6 199.9,136.4 199.9,136.2 200.0,135.8 200.0,141.1 200.0,138.6 200.1,139.0 200.1,137.1 200.2,137.0 200.2,137.8 200.2,135.4 200.3,137.8 200.3,136.8 200.3,136.1 200.4,136.2 200.4,137.5 200.5,134.7 200.5,135.8 200.5,135.4 200.6,136.6 200.6,136.6 200.7,138.3 200.7,140.2 200.7,138.8 200.8,139.5 200.8,137.0 200.8,139.3 200.9,137.8 200.9,138.5 201.0,136.9 201.0,137.2 201.0,134.5 201.1,135.3 201.1,134.2 201.1,136.6 201.2,139.8 201.2,135.1 201.3,133.5 201.3,137.4 201.3,134.4 201.4,137.0 201.4,136.5 201.4,136.9 201.5,137.7 201.5,137.5 201.6,139.6 201.6,136.4 201.6,136.4 201.7,135.5 201.7,136.7 201.7,135.9 201.8,132.8 201.8,134.9 201.9,136.8 201.9,136.2 201.9,136.6 202.0,134.4 202.0,137.4 202.0,134.8 202.1,135.9 202.1,141.0 202.2,135.8 202.2,137.5 202.2,138.1 202.3,136.6 202.3,136.1 202.3,132.5 202.4,136.5 202.4,138.1 202.5,136.8 202.5,135.9 202.5,138.2 202.6,137.1 202.6,139.4 202.6,138.8 202.7,137.4 202.7,135.5 202.8,138.2 202.8,138.2 202.8,136.9 202.9,138.4 202.9,137.7 202.9,138.3 203.0,133.9 203.0,137.6 203.1,134.4 203.1,136.6 203.1,133.8 203.2,138.4 203.2,136.5 203.2,140.9 203.3,134.6 203.3,135.8 203.4,137.4 203.4,133.4 203.4,132.0 203.5,134.3 203.5,134.2 203.6,136.8 203.6,138.2 203.6,139.4 203.7,135.1 203.7,140.1 203.7,137.2 203.8,134.0 203.8,136.3 203.9,139.0 203.9,138.4 203.9,134.8 204.0,138.7 204.0,137.7 204.0,139.3 204.1,137.1 204.1,138.1 204.2,135.3 204.2,138.7 204.2,137.8 204.3,141.1 204.3,134.9 204.3,135.0 204.4,137.6 204.4,136.8 204.5,136.4 204.5,135.3 204.5,139.9 204.6,138.7 204.6,133.3 204.6,135.2 204.7,136.2 204.7,137.1 204.8,135.8 204.8,135.7 204.8,135.7 204.9,139.0 204.9,137.2 204.9,136.6 205.0,136.7 205.0,139.0 205.1,137.7 205.1,139.0 205.1,138.0 205.2,136.9 205.2,136.4 205.2,136.3 205.3,135.6 205.3,137.1 205.4,139.5 205.4,137.3 205.4,138.2 205.5,140.3 205.5,138.5 205.5,136.7 205.6,135.7 205.6,137.7 205.7,139.8 205.7,137.6 205.7,138.7 205.8,135.4 205.8,139.7 205.8,136.1 205.9,137.9 205.9,136.9 206.0,138.8 206.0,136.7 206.0,137.6 206.1,137.9 206.1,139.5 206.1,138.6 206.2,140.9 206.2,136.8 206.3,138.2 206.3,135.2 206.3,140.3 206.4,135.0 206.4,136.9 206.5,138.5 206.5,136.9 206.5,139.9 206.6,140.1 206.6,135.7 206.6,141.2 206.7,137.8 206.7,135.5 206.8,137.6 206.8,135.5 206.8,138.2 206.9,139.0 206.9,135.9 206.9,136.3 207.0,138.0 207.0,135.5 207.1,139.8 207.1,136.1 207.1,138.6 207.2,137.5 207.2,137.7 207.2,137.6 207.3,137.0 207.3,135.5 207.4,135.6 207.4,137.8 207.4,137.9 207.5,139.7 207.5,135.2 207.5,136.4 207.6,139.1 207.6,137.7 207.7,135.5 207.7,139.2 207.7,137.6 207.8,138.0 207.8,138.5 207.8,137.9 207.9,141.4 207.9,136.3 208.0,138.8 208.0,137.8 208.0,140.4 208.1,134.0 208.1,137.0 208.1,141.3 208.2,139.0 208.2,138.5 208.3,139.6 208.3,140.3 208.3,140.2 208.4,139.4 208.4,137.7 208.4,137.5 208.5,135.8 208.5,138.2 208.6,141.7 208.6,138.2 208.6,136.0 208.7,139.9 208.7,137.6 208.7,137.3 208.8,139.6 208.8,138.2 208.9,139.6 208.9,135.4 208.9,136.7 209.0,137.7 209.0,136.7 209.0,136.7 209.1,139.3 209.1,140.0 209.2,140.2 209.2,140.0 209.2,136.4 209.3,135.9 209.3,135.2 209.3,140.0 209.4,137.8 209.4,135.7 209.5,134.7 209.5,138.3 209.5,138.4 209.6,138.4 209.6,137.0 209.7,136.3 209.7,136.0 209.7,138.5 209.8,135.2 209.8,139.4 209.8,136.6 209.9,135.4 209.9,135.8 210.0,136.9 210.0,138.3 210.0,137.8 210.1,138.9 210.1,138.8 210.1,139.3 210.2,135.8 210.2,139.6 210.3,138.8 210.3,135.3 210.3,137.0 210.4,134.7 210.4,134.9 210.4,136.9 210.5,135.7 210.5,139.5 210.6,137.2 210.6,134.6 210.6,136.8 210.7,137.0 210.7,132.9 210.7,136.1 210.8,140.0 210.8,135.5 210.9,141.8 210.9,136.6 210.9,136.8 211.0,138.3 211.0,138.8 211.0,138.2 211.1,132.8 211.1,139.3 211.2,138.8 211.2,137.8 211.2,138.1 211.3,134.5 211.3,136.9 211.3,137.7 211.4,136.2 211.4,136.9 211.5,137.7 211.5,137.9 211.5,137.7 211.6,137.7 211.6,138.1 211.6,137.5 211.7,135.3 211.7,139.6 211.8,136.8 211.8,136.2 211.8,137.6 211.9,137.5 211.9,135.5 211.9,138.2 212.0,136.5 212.0,136.6 212.1,137.2 212.1,137.1 212.1,136.1 212.2,135.0 212.2,139.3 212.2,135.7 212.3,138.7 212.3,139.0 212.4,137.2 212.4,137.2 212.4,140.5 212.5,134.8 212.5,138.3 212.6,136.4 212.6,136.9 212.6,136.5 212.7,137.4 212.7,137.0 212.7,137.4 212.8,138.2 212.8,135.7 212.9,137.3 212.9,137.0 212.9,138.5 213.0,138.7 213.0,137.3 213.0,140.0 213.1,135.2 213.1,138.3 213.2,138.2 213.2,138.5 213.2,137.4 213.3,136.8 213.3,136.4 213.3,138.8 213.4,139.5 213.4,137.9 213.5,137.9 213.5,138.9 213.5,135.6 213.6,139.4 213.6,139.2 213.6,136.1 213.7,138.4 213.7,138.0 213.8,139.1 213.8,139.8 213.8,139.0 213.9,140.6 213.9,136.5 213.9,137.3 214.0,134.6 214.0,137.9 214.1,138.7 214.1,136.1 214.1,138.6 214.2,136.1 214.2,138.6 214.2,140.8 214.3,138.4 214.3,138.3 214.4,136.9 214.4,138.6 214.4,137.4 214.5,137.4 214.5,139.3 214.5,139.7 214.6,139.1 214.6,140.6 214.7,137.7 214.7,136.8 214.7,138.4 214.8,138.9 214.8,139.8 214.8,136.8 214.9,136.1 214.9,141.5 215.0,134.5 215.0,135.3 215.0,138.8 215.1,137.9 215.1,137.7 215.1,137.3 215.2,138.5 215.2,137.2 215.3,136.9 215.3,133.8 215.3,138.0 215.4,139.0 215.4,136.2 215.5,137.9 215.5,137.6 215.5,137.7 215.6,138.5 215.6,138.6 215.6,138.7 215.7,139.1 215.7,138.6 215.8,134.8 215.8,138.0 215.8,139.1 215.9,139.5 215.9,135.9 215.9,138.8 216.0,137.6 216.0,140.7 216.1,141.2 216.1,137.4 216.1,140.6 216.2,137.4 216.2,136.4 216.2,139.2 216.3,138.6 216.3,138.5 216.4,139.0 216.4,138.4 216.4,138.5 216.5,138.2 216.5,137.7 216.5,136.9 216.6,137.0 216.6,137.7 216.7,139.0 216.7,136.9 216.7,136.4 216.8,137.5 216.8,138.3 216.8,134.2 216.9,141.4 216.9,136.7 217.0,137.3 217.0,135.3 217.0,134.7 217.1,136.6 217.1,138.4 217.1,136.7 217.2,139.5 217.2,137.5 217.3,138.9 217.3,136.8 217.3,140.5 217.4,138.1 217.4,137.3 217.4,137.9 217.5,138.1 217.5,138.8 217.6,137.9 217.6,135.2 217.6,138.5 217.7,139.6 217.7,139.2 217.7,138.2 217.8,136.4 217.8,137.9 217.9,136.2 217.9,135.2 217.9,138.9 218.0,137.1 218.0,137.9 218.0,135.9 218.1,136.1 218.1,136.8 218.2,139.2 218.2,137.9 218.2,137.5 218.3,137.5 218.3,138.3 218.4,136.9 218.4,136.6 218.4,136.8 218.5,138.6 218.5,137.9 218.5,139.2 218.6,138.5 218.6,136.3 218.7,137.6 218.7,137.5 218.7,135.5 218.8,138.1 218.8,137.2 218.8,139.6 218.9,135.7 218.9,137.5 219.0,135.9 219.0,135.9 219.0,137.2 219.1,136.3 219.1,139.5 219.1,138.0 219.2,140.3 219.2,135.6 219.3,136.2 219.3,134.9 219.3,135.0 219.4,134.6 219.4,137.5 219.4,139.6 219.5,137.8 219.5,133.8 219.6,136.3 219.6,135.3 219.6,135.9 219.7,136.2 219.7,137.7 219.7,139.0 219.8,135.8 219.8,138.7 219.9,134.5 219.9,136.3 219.9,136.1 220.0,137.2 220.0,140.0 220.0,138.7 220.1,135.7 220.1,139.3 220.2,139.2 220.2,134.8 220.2,140.7 220.3,137.4 220.3,136.7 220.3,134.0 220.4,135.5 220.4,136.5 220.5,140.1 220.5,137.7 220.5,140.1 220.6,136.8 220.6,139.5 220.6,135.6 220.7,136.2 220.7,138.2 220.8,136.6 220.8,136.9 220.8,137.1 220.9,137.3 220.9,136.1 220.9,137.1 221.0,137.9 221.0,136.6 221.1,138.4 221.1,135.2 221.1,135.9 221.2,140.5 221.2,137.7 221.3,137.4 221.3,137.3 221.3,136.3 221.4,135.0 221.4,134.7 221.4,140.3 221.5,135.7 221.5,140.2 221.6,135.4 221.6,136.3 221.6,138.4 221.7,137.8 221.7,137.8 221.7,135.0 221.8,137.9 221.8,137.7 221.9,136.3 221.9,134.3 221.9,137.9 222.0,136.5 222.0,138.1 222.0,135.3 222.1,138.8 222.1,136.3 222.2,136.2 222.2,137.5 222.2,135.0 222.3,133.8 222.3,136.8 222.3,136.3 222.4,136.5 222.4,134.9 222.5,135.5 222.5,136.6 222.5,136.9 222.6,138.0 222.6,137.2 222.6,136.7 222.7,134.0 222.7,135.3 222.8,140.2 222.8,137.6 222.8,134.7 222.9,134.8 222.9,139.6 222.9,136.9 223.0,134.1 223.0,137.9 223.1,137.4 223.1,136.6 223.1,138.4 223.2,135.0 223.2,136.4 223.2,136.4 223.3,137.8 223.3,135.0 223.4,137.3 223.4,138.1 223.4,137.0 223.5,138.9 223.5,137.7 223.5,133.0 223.6,138.1 223.6,138.2 223.7,136.7 223.7,136.2 223.7,136.1 223.8,136.4 223.8,139.5 223.8,137.5 223.9,140.4 223.9,135.6 224.0,136.1 224.0,135.4 224.0,139.3 224.1,140.1 224.1,136.7 224.2,138.4 224.2,138.8 224.2,138.2 224.3,139.4 224.3,139.9 224.3,136.2 224.4,136.3 224.4,135.6 224.5,136.3 224.5,136.7 224.5,136.1 224.6,137.3 224.6,136.7 224.6,137.1 224.7,140.6 224.7,136.2 224.8,134.0 224.8,134.3 224.8,137.2 224.9,136.2 224.9,136.4 224.9,133.9 225.0,134.0 225.0,138.0 225.1,138.0 225.1,137.5 225.1,137.7 225.2,134.2 225.2,139.9 225.2,138.6 225.3,139.1 225.3,137.8 225.4,135.7 225.4,138.5 225.4,135.4 225.5,134.0 225.5,136.4 225.5,134.7 225.6,137.0 225.6,136.1 225.7,137.1 225.7,134.8 225.7,136.1 225.8,135.5 225.8,135.1 225.8,134.9 225.9,138.2 225.9,136.2 226.0,137.8 226.0,137.2 226.0,136.6 226.1,135.6 226.1,136.6 226.1,136.9 226.2,134.4 226.2,135.8 226.3,140.1 226.3,135.9 226.3,137.3 226.4,135.4 226.4,135.2 226.4,133.7 226.5,137.1 226.5,135.1 226.6,136.8 226.6,137.6 226.6,139.1 226.7,136.1 226.7,134.2 226.7,137.0 226.8,134.9 226.8,136.5 226.9,135.3 226.9,136.9 226.9,135.8 227.0,138.4 227.0,135.5 227.1,133.6 227.1,135.0 227.1,137.7 227.2,139.9 227.2,136.5 227.2,138.7 227.3,137.0 227.3,135.2 227.4,140.6 227.4,137.3 227.4,137.2 227.5,135.7 227.5,136.3 227.5,134.2 227.6,136.3 227.6,135.8 227.7,140.3 227.7,137.0 227.7,137.6 227.8,137.2 227.8,135.4 227.8,139.1 227.9,141.4 227.9,134.1 228.0,137.4 228.0,137.8 228.0,134.8 228.1,135.9 228.1,136.9 228.1,136.7 228.2,136.0 228.2,138.8 228.3,137.1 228.3,133.9 228.3,136.4 228.4,136.8 228.4,134.0 228.4,136.9 228.5,134.6 228.5,136.8 228.6,137.7 228.6,136.6 228.6,136.8 228.7,139.6 228.7,133.9 228.7,136.4 228.8,133.7 228.8,138.5 228.9,137.9 228.9,139.4 228.9,137.6 229.0,136.3 229.0,133.9 229.0,138.1 229.1,137.9 229.1,135.7 229.2,136.5 229.2,138.4 229.2,138.1 229.3,138.5 229.3,135.3 229.3,138.3 229.4,137.9 229.4,135.4 229.5,138.3 229.5,135.6 229.5,139.7 229.6,138.4 229.6,135.1 229.6,136.4 229.7,138.9 229.7,139.3 229.8,140.1 229.8,136.8 229.8,137.8 229.9,136.9 229.9,137.5 229.9,132.8 230.0,135.3 230.0,140.0 230.1,137.0 230.1,139.5 230.1,137.1 230.2,137.9 230.2,137.0 230.3,138.0 230.3,140.9 230.3,136.4 230.4,140.5 230.4,139.0 230.4,138.7 230.5,137.1 230.5,139.5 230.6,137.7 230.6,137.3 230.6,134.2 230.7,138.5 230.7,137.0 230.7,136.3 230.8,137.7 230.8,137.1 230.9,135.7 230.9,138.5 230.9,142.2 231.0,137.8 231.0,136.9 231.0,136.5 231.1,136.5 231.1,135.4 231.2,137.2 231.2,138.3 231.2,139.2 231.3,139.5 231.3,135.7 231.3,138.3 231.4,138.7 231.4,134.8 231.5,139.5 231.5,135.9 231.5,139.0 231.6,138.2 231.6,138.2 231.6,136.7 231.7,137.9 231.7,135.7 231.8,138.3 231.8,134.2 231.8,138.0 231.9,140.4 231.9,138.9 231.9,138.9 232.0,136.8 232.0,139.6 232.1,135.3 232.1,138.8 232.1,138.1 232.2,135.5 232.2,140.9 232.2,133.7 232.3,138.8 232.3,140.5 232.4,134.7 232.4,137.6 232.4,140.3 232.5,136.2 232.5,134.5 232.5,134.5 232.6,136.2 232.6,138.9 232.7,138.1 232.7,135.8 232.7,136.4 232.8,137.7 232.8,134.7 232.8,139.4 232.9,134.4 232.9,139.1 233.0,138.0 233.0,137.3 233.0,135.8 233.1,135.1 233.1,139.8 233.2,138.7 233.2,138.4 233.2,137.4 233.3,138.5 233.3,139.0 233.3,134.5 233.4,135.9 233.4,137.1 233.5,135.5 233.5,137.5 233.5,139.8 233.6,140.3 233.6,136.0 233.6,137.2 233.7,137.2 233.7,138.8 233.8,136.8 233.8,136.6 233.8,134.7 233.9,134.8 233.9,138.1 233.9,133.8 234.0,135.4 234.0,134.4 234.1,137.3 234.1,135.2 234.1,139.7 234.2,134.9 234.2,138.2 234.2,136.2 234.3,138.1 234.3,136.9 234.4,136.8 234.4,139.2 234.4,136.7 234.5,135.2 234.5,136.7 234.5,134.9 234.6,132.9 234.6,136.7 234.7,134.5 234.7,136.5 234.7,138.8 234.8,135.5 234.8,138.9 234.8,136.8 234.9,132.9 234.9,138.0 235.0,138.8 235.0,137.5 235.0,136.0 235.1,135.3 235.1,137.8 235.1,137.9 235.2,135.7 235.2,136.9 235.3,135.0 235.3,138.2 235.3,134.3 235.4,136.3 235.4,136.8 235.4,139.6 235.5,137.3 235.5,136.9 235.6,134.7 235.6,136.4 235.6,138.5 235.7,139.1 235.7,135.2 235.7,138.7 235.8,133.7 235.8,136.2 235.9,137.6 235.9,138.1 235.9,134.3 236.0,136.9 236.0,136.4 236.1,140.2 236.1,136.4 236.1,138.5 236.2,140.7 236.2,137.1 236.2,137.0 236.3,138.9 236.3,131.8 236.4,138.8 236.4,138.3 236.4,136.3 236.5,136.2 236.5,136.3 236.5,137.2 236.6,134.1 236.6,138.2 236.7,140.0 236.7,138.6 236.7,137.1 236.8,136.7 236.8,133.3 236.8,137.0 236.9,137.6 236.9,137.8 237.0,138.3 237.0,135.6 237.0,138.9 237.1,134.4 237.1,138.5 237.1,138.0 237.2,136.8 237.2,139.7 237.3,136.7 237.3,136.9 237.3,134.5 237.4,135.6 237.4,141.1 237.4,136.3 237.5,138.7 237.5,138.6 237.6,138.4 237.6,133.4 237.6,137.7 237.7,136.9 237.7,135.4 237.7,133.8 237.8,137.6 237.8,136.7 237.9,136.5 237.9,136.8 237.9,137.3 238.0,138.9 238.0,137.8 238.0,138.3 238.1,138.7 238.1,137.9 238.2,137.0 238.2,138.1 238.2,137.6 238.3,135.3 238.3,135.6 238.3,138.6 238.4,140.0 238.4,132.4 238.5,137.2 238.5,133.8 238.5,136.9 238.6,133.7 238.6,136.1 238.6,136.9 238.7,137.8 238.7,137.1 238.8,138.4 238.8,136.3 238.8,136.9 238.9,135.9 238.9,135.8 239.0,138.7 239.0,136.2 239.0,136.7 239.1,134.9 239.1,133.9 239.1,137.4 239.2,140.4 239.2,136.8 239.3,136.8 239.3,138.4 239.3,136.0 239.4,137.1 239.4,135.6 239.4,138.9 239.5,136.2 239.5,137.0 239.6,137.1 239.6,135.0 239.6,137.7 239.7,137.4 239.7,135.3 239.7,139.3 239.8,135.5 239.8,137.9 239.9,140.7 239.9,134.2 239.9,133.9 240.0,136.6 240.0,138.5 240.0,139.8 240.1,136.2 240.1,134.1 240.2,139.4 240.2,136.9 240.2,134.1 240.3,135.4 240.3,137.1 240.3,133.2 240.4,139.1 240.4,135.9 240.5,135.0 240.5,139.2 240.5,137.7 240.6,137.6 240.6,132.0 240.6,137.0 240.7,137.1 240.7,137.9 240.8,132.4 240.8,133.4 240.8,138.4 240.9,138.2 240.9,135.9 240.9,136.5 241.0,136.2 241.0,138.2 241.1,140.1 241.1,136.6 241.1,138.6 241.2,132.4 241.2,136.6 241.2,136.4 241.3,136.2 241.3,138.0 241.4,136.6 241.4,138.8 241.4,136.9 241.5,136.1 241.5,136.9 241.5,141.8 241.6,135.9 241.6,138.3 241.7,135.3 241.7,136.8 241.7,137.0 241.8,136.1 241.8,138.1 241.9,136.8 241.9,137.6 241.9,136.0 242.0,135.3 242.0,138.4 242.0,137.7 242.1,138.3 242.1,133.8 242.2,138.3 242.2,137.0 242.2,137.3 242.3,138.5 242.3,136.0 242.3,137.4 242.4,135.1 242.4,138.5 242.5,136.3 242.5,133.0 242.5,135.3 242.6,136.9 242.6,135.3 242.6,139.0 242.7,136.0 242.7,136.2 242.8,136.0 242.8,135.9 242.8,135.6 242.9,137.9 242.9,137.8 242.9,138.7 243.0,136.0 243.0,140.0 243.1,137.1 243.1,138.3 243.1,136.5 243.2,133.0 243.2,137.8 243.2,135.0 243.3,134.5 243.3,138.8 243.4,137.2 243.4,136.5 243.4,138.3 243.5,137.6 243.5,137.3 243.5,136.6 243.6,137.8 243.6,135.0 243.7,136.0 243.7,137.1 243.7,136.5 243.8,139.9 243.8,139.6 243.8,139.3 243.9,136.7 243.9,134.5 244.0,137.9 244.0,139.0 244.0,138.7 244.1,136.8 244.1,139.3 244.1,138.7 244.2,136.0 244.2,135.1 244.3,137.0 244.3,137.2 244.3,137.8 244.4,136.3 244.4,142.2 244.4,136.9 244.5,136.9 244.5,137.9 244.6,137.9 244.6,136.6 244.6,138.2 244.7,136.3 244.7,138.7 244.8,136.7 244.8,135.8 244.8,139.1 244.9,135.7 244.9,136.8 244.9,137.0 245.0,135.2 245.0,136.7 245.1,139.0 245.1,136.4 245.1,135.6 245.2,138.1 245.2,138.0 245.2,138.0 245.3,138.4 245.3,138.9 245.4,136.3 245.4,135.7 245.4,139.8 245.5,137.8 245.5,138.1 245.5,136.4 245.6,135.8 245.6,136.9 245.7,135.6 245.7,136.0 245.7,136.5 245.8,136.7 245.8,135.8 245.8,138.5 245.9,139.5 245.9,136.1 246.0,136.0 246.0,134.8 246.0,137.7 246.1,139.5 246.1,136.9 246.1,135.2 246.2,138.6 246.2,137.8 246.3,138.5 246.3,140.2 246.3,135.6 246.4,138.3 246.4,134.9 246.4,138.3 246.5,140.6 246.5,139.2 246.6,139.3 246.6,138.8 246.6,138.1 246.7,138.3 246.7,134.9 246.7,141.5 246.8,139.4 246.8,137.5 246.9,136.4 246.9,137.5 246.9,137.8 247.0,136.8 247.0,138.0 247.0,138.2 247.1,137.1 247.1,140.2 247.2,137.7 247.2,139.1 247.2,137.3 247.3,138.1 247.3,135.6 247.3,136.8 247.4,137.3 247.4,139.1 247.5,136.8 247.5,141.4 247.5,136.3 247.6,136.4 247.6,137.5 247.7,136.7 247.7,140.2 247.7,138.6 247.8,139.3 247.8,136.9 247.8,136.9 247.9,135.2 247.9,139.6 248.0,139.3 248.0,137.2 248.0,138.9 248.1,139.0 248.1,136.8 248.1,137.9 248.2,138.9 248.2,136.1 248.3,138.1 248.3,140.3 248.3,138.3 248.4,137.9 248.4,139.1 248.4,136.2 248.5,137.5 248.5,136.8 248.6,136.5 248.6,138.4 248.6,138.3 248.7,137.8 248.7,138.6 248.7,135.5 248.8,139.4 248.8,140.2 248.9,137.0 248.9,138.3 248.9,140.3 249.0,136.8 249.0,136.7 249.0,139.4 249.1,139.9"/>
<rect x="60.8" y="128.7" width="188.3" height="65.5" fill="none" stroke="#000" stroke-width="1.2"/>
<line x1="60.8" y1="180.1" x2="63.3" y2="180.1" stroke="#000" stroke-width="0.7"/>
<line x1="249.1" y1="180.1" x2="246.6" y2="180.1" stroke="#000" stroke-width="0.7"/>
<line x1="60.8" y1="166" x2="63.3" y2="166" stroke="#000" stroke-width="0.7"/>
<line x1="249.1" y1="166" x2="246.6" y2="166" stroke="#000" stroke-width="0.7"/>
<line x1="60.8" y1="151.9" x2="63.3" y2="151.9" stroke="#000" stroke-width="0.7"/>
<line x1="249.1" y1="151.9" x2="246.6" y2="151.9" stroke="#000" stroke-width="0.7"/>
<line x1="60.8" y1="137.8" x2="63.3" y2="137.8" stroke="#000" stroke-width="0.7"/>
<line x1="249.1" y1="137.8" x2="246.6" y2="137.8" stroke="#000" stroke-width="0.7"/>
<text x="57.8" y="195.8" font-size="10" text-anchor="end">0</text>
<text x="57.8" y="182.7" font-size="10" text-anchor="end">5</text>
<text x="57.8" y="168.3" font-size="10" text-anchor="end">10</text>
<text x="57.8" y="154" font-size="10" text-anchor="end">15</text>
<text x="57.8" y="140.2" font-size="10" text-anchor="end">20</text>
<text x="60" y="203.7" font-size="10" text-anchor="middle">0</text>
<line x1="98.46" y1="194.2" x2="98.46" y2="192" stroke="#000" stroke-width="0.7"/>
<text x="97.2" y="203.7" font-size="10" text-anchor="middle">100</text>
<line x1="136.12" y1="194.2" x2="136.12" y2="192" stroke="#000" stroke-width="0.7"/>
<text x="135.8" y="203.7" font-size="10" text-anchor="middle">200</text>
<line x1="173.78" y1="194.2" x2="173.78" y2="192" stroke="#000" stroke-width="0.7"/>
<text x="172.2" y="203.7" font-size="10" text-anchor="middle">300</text>
<line x1="211.44" y1="194.2" x2="211.44" y2="192" stroke="#000" stroke-width="0.7"/>
<text x="210" y="203.7" font-size="10" text-anchor="middle">400</text>
<text x="246.6" y="203.7" font-size="10" text-anchor="middle">500</text>
<text x="58" y="125.9" font-size="10.5" word-spacing="0.6">x 10<tspan font-size="9.6" dy="-5.4" dx="0.3">2</tspan></text>
<text x="143" y="125.5" font-size="12.6" textLength="105.5" lengthAdjust="spacingAndGlyphs">Time Bin = 100 ms</text>
<text x="133.8" y="213.8" font-size="11.3" textLength="39.3" lengthAdjust="spacingAndGlyphs">Time (s)</text>
<text x="39" y="160.4" font-size="11.3" text-anchor="middle" textLength="69" lengthAdjust="spacingAndGlyphs" transform="rotate(-90 39 160.4)">Binned counts</text>
<polygon fill="#3a53a4" stroke="#3a53a4" stroke-width="0.4" points="279.6,194 279.6,194 281.61,194 281.61,194 283.62,194 283.62,194 285.62,194 285.62,194 287.63,194 287.63,194 289.64,194 289.64,193.99 291.65,193.99 291.65,193.99 293.65,193.99 293.65,193.99 295.66,193.99 295.66,193.98 297.67,193.98 297.67,193.97 299.68,193.97 299.68,193.95 301.68,193.95 301.68,193.92 303.69,193.92 303.69,193.89 305.7,193.89 305.7,193.83 307.71,193.83 307.71,193.76 309.71,193.76 309.71,193.66 311.72,193.66 311.72,193.5 313.73,193.5 313.73,193.3 315.74,193.3 315.74,193.04 317.74,193.04 317.74,192.67 319.75,192.67 319.75,192.23 321.76,192.23 321.76,191.59 323.77,191.59 323.77,190.84 325.77,190.84 325.77,189.96 327.78,189.96 327.78,188.7 329.79,188.7 329.79,187.36 331.8,187.36 331.8,185.61 333.81,185.61 333.81,183.7 335.81,183.7 335.81,181.14 337.82,181.14 337.82,178.62 339.83,178.62 339.83,176.32 341.84,176.32 341.84,172.74 343.84,172.74 343.84,169.36 345.85,169.36 345.85,165.34 347.86,165.34 347.86,161.09 349.87,161.09 349.87,157.38 351.87,157.38 351.87,154.33 353.88,154.33 353.88,150.83 355.89,150.83 355.89,146.17 357.9,146.17 357.9,143.17 359.9,143.17 359.9,139.75 361.91,139.75 361.91,137.74 363.92,137.74 363.92,136.41 365.93,136.41 365.93,134.77 367.93,134.77 367.93,135.37 369.94,135.37 369.94,135.6 371.95,135.6 371.95,137.46 373.96,137.46 373.96,138.47 375.96,138.47 375.96,139.73 377.97,139.73 377.97,144 379.98,144 379.98,146.91 381.99,146.91 381.99,149.6 384,149.6 384,152.17 386,152.17 386,156.18 388.01,156.18 388.01,160.05 390.02,160.05 390.02,163.04 392.03,163.04 392.03,166.71 394.03,166.71 394.03,169.98 396.04,169.98 396.04,173.42 398.05,173.42 398.05,176.37 400.06,176.37 400.06,178.53 402.06,178.53 402.06,181.08 404.07,181.08 404.07,183.03 406.08,183.03 406.08,184.77 408.09,184.77 408.09,186.53 410.09,186.53 410.09,188.08 412.1,188.08 412.1,189.16 414.11,189.16 414.11,190.19 416.12,190.19 416.12,190.96 418.12,190.96 418.12,191.61 420.13,191.61 420.13,192.18 422.14,192.18 422.14,192.6 424.15,192.6 424.15,192.94 426.15,192.94 426.15,193.2 428.16,193.2 428.16,193.41 430.17,193.41 430.17,193.57 432.18,193.57 432.18,193.68 434.19,193.68 434.19,193.77 436.19,193.77 436.19,193.84 438.2,193.84 438.2,193.89 440.21,193.89 440.21,193.92 442.22,193.92 442.22,193.95 444.22,193.95 444.22,193.96 446.23,193.96 446.23,193.97 446.9,193.97 446.9,194"/>
<rect x="279.6" y="128.3" width="167.3" height="65.7" fill="none" stroke="#15152a" stroke-width="1.2"/>
<line x1="279.6" y1="186.65" x2="281.8" y2="186.65" stroke="#7d8ccc" stroke-width="0.7"/>
<line x1="446.9" y1="186.65" x2="444.7" y2="186.65" stroke="#7d8ccc" stroke-width="0.7"/>
<line x1="279.6" y1="179.3" x2="281.8" y2="179.3" stroke="#7d8ccc" stroke-width="0.7"/>
<line x1="446.9" y1="179.3" x2="444.7" y2="179.3" stroke="#7d8ccc" stroke-width="0.7"/>
<line x1="279.6" y1="171.95" x2="281.8" y2="171.95" stroke="#7d8ccc" stroke-width="0.7"/>
<line x1="446.9" y1="171.95" x2="444.7" y2="171.95" stroke="#7d8ccc" stroke-width="0.7"/>
<line x1="279.6" y1="164.6" x2="281.8" y2="164.6" stroke="#7d8ccc" stroke-width="0.7"/>
<line x1="446.9" y1="164.6" x2="444.7" y2="164.6" stroke="#7d8ccc" stroke-width="0.7"/>
<line x1="279.6" y1="157.25" x2="281.8" y2="157.25" stroke="#7d8ccc" stroke-width="0.7"/>
<line x1="446.9" y1="157.25" x2="444.7" y2="157.25" stroke="#7d8ccc" stroke-width="0.7"/>
<line x1="279.6" y1="149.9" x2="281.8" y2="149.9" stroke="#7d8ccc" stroke-width="0.7"/>
<line x1="446.9" y1="149.9" x2="444.7" y2="149.9" stroke="#7d8ccc" stroke-width="0.7"/>
<line x1="279.6" y1="142.55" x2="281.8" y2="142.55" stroke="#7d8ccc" stroke-width="0.7"/>
<line x1="446.9" y1="142.55" x2="444.7" y2="142.55" stroke="#7d8ccc" stroke-width="0.7"/>
<line x1="279.6" y1="135.2" x2="281.8" y2="135.2" stroke="#7d8ccc" stroke-width="0.7"/>
<line x1="446.9" y1="135.2" x2="444.7" y2="135.2" stroke="#7d8ccc" stroke-width="0.7"/>
<text x="276.5" y="196" font-size="10" text-anchor="end">0</text>
<text x="276.5" y="182" font-size="10" text-anchor="end">4</text>
<text x="276.5" y="167.6" font-size="10" text-anchor="end">8</text>
<text x="276.5" y="152.6" font-size="10" text-anchor="end">12</text>
<text x="276.5" y="137.8" font-size="10" text-anchor="end">16</text>
<text x="278.7" y="204.8" font-size="10" text-anchor="middle">1700</text>
<text x="332.2" y="204.8" font-size="10" text-anchor="middle">1900</text>
<text x="392.2" y="204.8" font-size="10" text-anchor="middle">2100</text>
<text x="445.7" y="204.8" font-size="10" text-anchor="middle">2300</text>
<text x="280.5" y="126.3" font-size="10.5" word-spacing="0.6">x 10<tspan font-size="9.6" dy="-5.4" dx="0.3">2</tspan></text>
<text x="338.8" y="125" font-size="12.6" textLength="105.7" lengthAdjust="spacingAndGlyphs">Time Bin = 100 ms</text>
<text x="329.7" y="213.5" font-size="11.3" textLength="70.9" lengthAdjust="spacingAndGlyphs">Binned counts</text>
<text x="262" y="159.7" font-size="11.3" text-anchor="middle" textLength="58" lengthAdjust="spacingAndGlyphs" transform="rotate(-90 262 159.7)">Occurences</text>
<text x="57.8" y="443.4" font-size="10" text-anchor="end">0</text>
<line x1="61.1" y1="426.92" x2="65" y2="426.92" stroke="#333" stroke-width="0.8"/>
<line x1="454.4" y1="426.92" x2="450.5" y2="426.92" stroke="#333" stroke-width="0.8"/>
<line x1="61.1" y1="414.74" x2="68.8" y2="414.74" stroke="#333" stroke-width="0.8"/>
<line x1="454.4" y1="414.74" x2="446.4" y2="414.74" stroke="#333" stroke-width="0.8"/>
<text x="57.8" y="418.44" font-size="10" text-anchor="end">0.2</text>
<line x1="61.1" y1="402.56" x2="65" y2="402.56" stroke="#333" stroke-width="0.8"/>
<line x1="454.4" y1="402.56" x2="450.5" y2="402.56" stroke="#333" stroke-width="0.8"/>
<line x1="61.1" y1="390.38" x2="68.8" y2="390.38" stroke="#333" stroke-width="0.8"/>
<line x1="454.4" y1="390.38" x2="446.4" y2="390.38" stroke="#333" stroke-width="0.8"/>
<text x="57.8" y="394.08" font-size="10" text-anchor="end">0.4</text>
<line x1="61.1" y1="378.2" x2="65" y2="378.2" stroke="#333" stroke-width="0.8"/>
<line x1="454.4" y1="378.2" x2="450.5" y2="378.2" stroke="#333" stroke-width="0.8"/>
<line x1="61.1" y1="366.02" x2="68.8" y2="366.02" stroke="#333" stroke-width="0.8"/>
<line x1="454.4" y1="366.02" x2="446.4" y2="366.02" stroke="#333" stroke-width="0.8"/>
<text x="57.8" y="369.72" font-size="10" text-anchor="end">0.6</text>
<line x1="61.1" y1="353.84" x2="65" y2="353.84" stroke="#333" stroke-width="0.8"/>
<line x1="454.4" y1="353.84" x2="450.5" y2="353.84" stroke="#333" stroke-width="0.8"/>
<line x1="61.1" y1="341.66" x2="68.8" y2="341.66" stroke="#333" stroke-width="0.8"/>
<line x1="454.4" y1="341.66" x2="446.4" y2="341.66" stroke="#333" stroke-width="0.8"/>
<text x="57.8" y="345.36" font-size="10" text-anchor="end">0.8</text>
<line x1="61.1" y1="329.48" x2="65" y2="329.48" stroke="#333" stroke-width="0.8"/>
<line x1="454.4" y1="329.48" x2="450.5" y2="329.48" stroke="#333" stroke-width="0.8"/>
<line x1="61.1" y1="317.3" x2="68.8" y2="317.3" stroke="#333" stroke-width="0.8"/>
<line x1="454.4" y1="317.3" x2="446.4" y2="317.3" stroke="#333" stroke-width="0.8"/>
<text x="57.8" y="321" font-size="10" text-anchor="end">1.0</text>
<line x1="61.1" y1="305.12" x2="65" y2="305.12" stroke="#333" stroke-width="0.8"/>
<line x1="454.4" y1="305.12" x2="450.5" y2="305.12" stroke="#333" stroke-width="0.8"/>
<line x1="61.1" y1="292.94" x2="68.8" y2="292.94" stroke="#333" stroke-width="0.8"/>
<line x1="454.4" y1="292.94" x2="446.4" y2="292.94" stroke="#333" stroke-width="0.8"/>
<text x="57.8" y="296.64" font-size="10" text-anchor="end">1.2</text>
<line x1="61.1" y1="280.76" x2="65" y2="280.76" stroke="#333" stroke-width="0.8"/>
<line x1="454.4" y1="280.76" x2="450.5" y2="280.76" stroke="#333" stroke-width="0.8"/>
<line x1="61.1" y1="268.58" x2="68.8" y2="268.58" stroke="#333" stroke-width="0.8"/>
<line x1="454.4" y1="268.58" x2="446.4" y2="268.58" stroke="#333" stroke-width="0.8"/>
<text x="57.8" y="272.28" font-size="10" text-anchor="end">1.4</text>
<line x1="61.1" y1="256.4" x2="65" y2="256.4" stroke="#333" stroke-width="0.8"/>
<line x1="454.4" y1="256.4" x2="450.5" y2="256.4" stroke="#333" stroke-width="0.8"/>
<line x1="61.1" y1="244.22" x2="68.8" y2="244.22" stroke="#333" stroke-width="0.8"/>
<line x1="454.4" y1="244.22" x2="446.4" y2="244.22" stroke="#333" stroke-width="0.8"/>
<text x="57.8" y="247.92" font-size="10" text-anchor="end">1.6</text>
<line x1="61.1" y1="232.04" x2="65" y2="232.04" stroke="#333" stroke-width="0.8"/>
<line x1="454.4" y1="232.04" x2="450.5" y2="232.04" stroke="#333" stroke-width="0.8"/>
<text x="57.8" y="223.31" font-size="10" text-anchor="end">1.8</text>
<line x1="78.01" y1="439.1" x2="78.01" y2="435.9" stroke="#333" stroke-width="0.8"/>
<line x1="78.01" y1="219.85" x2="78.01" y2="223.1" stroke="#333" stroke-width="0.8"/>
<line x1="87.91" y1="439.1" x2="87.91" y2="435.9" stroke="#333" stroke-width="0.8"/>
<line x1="87.91" y1="219.85" x2="87.91" y2="223.1" stroke="#333" stroke-width="0.8"/>
<line x1="94.93" y1="439.1" x2="94.93" y2="435.9" stroke="#333" stroke-width="0.8"/>
<line x1="94.93" y1="219.85" x2="94.93" y2="223.1" stroke="#333" stroke-width="0.8"/>
<line x1="100.37" y1="439.1" x2="100.37" y2="435.9" stroke="#333" stroke-width="0.8"/>
<line x1="100.37" y1="219.85" x2="100.37" y2="223.1" stroke="#333" stroke-width="0.8"/>
<line x1="104.82" y1="439.1" x2="104.82" y2="435.9" stroke="#333" stroke-width="0.8"/>
<line x1="104.82" y1="219.85" x2="104.82" y2="223.1" stroke="#333" stroke-width="0.8"/>
<line x1="108.58" y1="439.1" x2="108.58" y2="435.9" stroke="#333" stroke-width="0.8"/>
<line x1="108.58" y1="219.85" x2="108.58" y2="223.1" stroke="#333" stroke-width="0.8"/>
<line x1="111.84" y1="439.1" x2="111.84" y2="435.9" stroke="#333" stroke-width="0.8"/>
<line x1="111.84" y1="219.85" x2="111.84" y2="223.1" stroke="#333" stroke-width="0.8"/>
<line x1="114.71" y1="439.1" x2="114.71" y2="435.9" stroke="#333" stroke-width="0.8"/>
<line x1="114.71" y1="219.85" x2="114.71" y2="223.1" stroke="#333" stroke-width="0.8"/>
<text x="55.4" y="451.8" font-size="10">10<tspan font-size="8.6" dy="-3.1" dx="-0.3">-10</tspan></text>
<line x1="117.29" y1="439.1" x2="117.29" y2="432.4" stroke="#333" stroke-width="0.8"/>
<line x1="117.29" y1="219.85" x2="117.29" y2="226.5" stroke="#333" stroke-width="0.8"/>
<line x1="134.2" y1="439.1" x2="134.2" y2="435.9" stroke="#333" stroke-width="0.8"/>
<line x1="134.2" y1="219.85" x2="134.2" y2="223.1" stroke="#333" stroke-width="0.8"/>
<line x1="144.09" y1="439.1" x2="144.09" y2="435.9" stroke="#333" stroke-width="0.8"/>
<line x1="144.09" y1="219.85" x2="144.09" y2="223.1" stroke="#333" stroke-width="0.8"/>
<line x1="151.11" y1="439.1" x2="151.11" y2="435.9" stroke="#333" stroke-width="0.8"/>
<line x1="151.11" y1="219.85" x2="151.11" y2="223.1" stroke="#333" stroke-width="0.8"/>
<line x1="156.56" y1="439.1" x2="156.56" y2="435.9" stroke="#333" stroke-width="0.8"/>
<line x1="156.56" y1="219.85" x2="156.56" y2="223.1" stroke="#333" stroke-width="0.8"/>
<line x1="161.01" y1="439.1" x2="161.01" y2="435.9" stroke="#333" stroke-width="0.8"/>
<line x1="161.01" y1="219.85" x2="161.01" y2="223.1" stroke="#333" stroke-width="0.8"/>
<line x1="164.77" y1="439.1" x2="164.77" y2="435.9" stroke="#333" stroke-width="0.8"/>
<line x1="164.77" y1="219.85" x2="164.77" y2="223.1" stroke="#333" stroke-width="0.8"/>
<line x1="168.03" y1="439.1" x2="168.03" y2="435.9" stroke="#333" stroke-width="0.8"/>
<line x1="168.03" y1="219.85" x2="168.03" y2="223.1" stroke="#333" stroke-width="0.8"/>
<line x1="170.9" y1="439.1" x2="170.9" y2="435.9" stroke="#333" stroke-width="0.8"/>
<line x1="170.9" y1="219.85" x2="170.9" y2="223.1" stroke="#333" stroke-width="0.8"/>
<text x="107.9" y="451.8" font-size="10">10<tspan font-size="8.6" dy="-3.1" dx="-0.3">-9</tspan></text>
<line x1="173.47" y1="439.1" x2="173.47" y2="432.4" stroke="#333" stroke-width="0.8"/>
<line x1="173.47" y1="219.85" x2="173.47" y2="226.5" stroke="#333" stroke-width="0.8"/>
<line x1="190.39" y1="439.1" x2="190.39" y2="435.9" stroke="#333" stroke-width="0.8"/>
<line x1="190.39" y1="219.85" x2="190.39" y2="223.1" stroke="#333" stroke-width="0.8"/>
<line x1="200.28" y1="439.1" x2="200.28" y2="435.9" stroke="#333" stroke-width="0.8"/>
<line x1="200.28" y1="219.85" x2="200.28" y2="223.1" stroke="#333" stroke-width="0.8"/>
<line x1="207.3" y1="439.1" x2="207.3" y2="435.9" stroke="#333" stroke-width="0.8"/>
<line x1="207.3" y1="219.85" x2="207.3" y2="223.1" stroke="#333" stroke-width="0.8"/>
<line x1="212.74" y1="439.1" x2="212.74" y2="435.9" stroke="#333" stroke-width="0.8"/>
<line x1="212.74" y1="219.85" x2="212.74" y2="223.1" stroke="#333" stroke-width="0.8"/>
<line x1="217.19" y1="439.1" x2="217.19" y2="435.9" stroke="#333" stroke-width="0.8"/>
<line x1="217.19" y1="219.85" x2="217.19" y2="223.1" stroke="#333" stroke-width="0.8"/>
<line x1="220.95" y1="439.1" x2="220.95" y2="435.9" stroke="#333" stroke-width="0.8"/>
<line x1="220.95" y1="219.85" x2="220.95" y2="223.1" stroke="#333" stroke-width="0.8"/>
<line x1="224.21" y1="439.1" x2="224.21" y2="435.9" stroke="#333" stroke-width="0.8"/>
<line x1="224.21" y1="219.85" x2="224.21" y2="223.1" stroke="#333" stroke-width="0.8"/>
<line x1="227.09" y1="439.1" x2="227.09" y2="435.9" stroke="#333" stroke-width="0.8"/>
<line x1="227.09" y1="219.85" x2="227.09" y2="223.1" stroke="#333" stroke-width="0.8"/>
<text x="164.6" y="451.8" font-size="10">10<tspan font-size="8.6" dy="-3.1" dx="-0.3">-8</tspan></text>
<line x1="229.66" y1="439.1" x2="229.66" y2="432.4" stroke="#333" stroke-width="0.8"/>
<line x1="229.66" y1="219.85" x2="229.66" y2="226.5" stroke="#333" stroke-width="0.8"/>
<line x1="246.57" y1="439.1" x2="246.57" y2="435.9" stroke="#333" stroke-width="0.8"/>
<line x1="246.57" y1="219.85" x2="246.57" y2="223.1" stroke="#333" stroke-width="0.8"/>
<line x1="256.46" y1="439.1" x2="256.46" y2="435.9" stroke="#333" stroke-width="0.8"/>
<line x1="256.46" y1="219.85" x2="256.46" y2="223.1" stroke="#333" stroke-width="0.8"/>
<line x1="263.48" y1="439.1" x2="263.48" y2="435.9" stroke="#333" stroke-width="0.8"/>
<line x1="263.48" y1="219.85" x2="263.48" y2="223.1" stroke="#333" stroke-width="0.8"/>
<line x1="268.93" y1="439.1" x2="268.93" y2="435.9" stroke="#333" stroke-width="0.8"/>
<line x1="268.93" y1="219.85" x2="268.93" y2="223.1" stroke="#333" stroke-width="0.8"/>
<line x1="273.38" y1="439.1" x2="273.38" y2="435.9" stroke="#333" stroke-width="0.8"/>
<line x1="273.38" y1="219.85" x2="273.38" y2="223.1" stroke="#333" stroke-width="0.8"/>
<line x1="277.14" y1="439.1" x2="277.14" y2="435.9" stroke="#333" stroke-width="0.8"/>
<line x1="277.14" y1="219.85" x2="277.14" y2="223.1" stroke="#333" stroke-width="0.8"/>
<line x1="280.4" y1="439.1" x2="280.4" y2="435.9" stroke="#333" stroke-width="0.8"/>
<line x1="280.4" y1="219.85" x2="280.4" y2="223.1" stroke="#333" stroke-width="0.8"/>
<line x1="283.27" y1="439.1" x2="283.27" y2="435.9" stroke="#333" stroke-width="0.8"/>
<line x1="283.27" y1="219.85" x2="283.27" y2="223.1" stroke="#333" stroke-width="0.8"/>
<text x="218.9" y="451.8" font-size="10">10<tspan font-size="8.6" dy="-3.1" dx="-0.3">-7</tspan></text>
<line x1="285.84" y1="439.1" x2="285.84" y2="432.4" stroke="#333" stroke-width="0.8"/>
<line x1="285.84" y1="219.85" x2="285.84" y2="226.5" stroke="#333" stroke-width="0.8"/>
<line x1="302.76" y1="439.1" x2="302.76" y2="435.9" stroke="#333" stroke-width="0.8"/>
<line x1="302.76" y1="219.85" x2="302.76" y2="223.1" stroke="#333" stroke-width="0.8"/>
<line x1="312.65" y1="439.1" x2="312.65" y2="435.9" stroke="#333" stroke-width="0.8"/>
<line x1="312.65" y1="219.85" x2="312.65" y2="223.1" stroke="#333" stroke-width="0.8"/>
<line x1="319.67" y1="439.1" x2="319.67" y2="435.9" stroke="#333" stroke-width="0.8"/>
<line x1="319.67" y1="219.85" x2="319.67" y2="223.1" stroke="#333" stroke-width="0.8"/>
<line x1="325.11" y1="439.1" x2="325.11" y2="435.9" stroke="#333" stroke-width="0.8"/>
<line x1="325.11" y1="219.85" x2="325.11" y2="223.1" stroke="#333" stroke-width="0.8"/>
<line x1="329.56" y1="439.1" x2="329.56" y2="435.9" stroke="#333" stroke-width="0.8"/>
<line x1="329.56" y1="219.85" x2="329.56" y2="223.1" stroke="#333" stroke-width="0.8"/>
<line x1="333.33" y1="439.1" x2="333.33" y2="435.9" stroke="#333" stroke-width="0.8"/>
<line x1="333.33" y1="219.85" x2="333.33" y2="223.1" stroke="#333" stroke-width="0.8"/>
<line x1="336.58" y1="439.1" x2="336.58" y2="435.9" stroke="#333" stroke-width="0.8"/>
<line x1="336.58" y1="219.85" x2="336.58" y2="223.1" stroke="#333" stroke-width="0.8"/>
<line x1="339.46" y1="439.1" x2="339.46" y2="435.9" stroke="#333" stroke-width="0.8"/>
<line x1="339.46" y1="219.85" x2="339.46" y2="223.1" stroke="#333" stroke-width="0.8"/>
<text x="278.9" y="451.8" font-size="10">10<tspan font-size="8.6" dy="-3.1" dx="-0.3">-6</tspan></text>
<line x1="342.03" y1="439.1" x2="342.03" y2="432.4" stroke="#333" stroke-width="0.8"/>
<line x1="342.03" y1="219.85" x2="342.03" y2="226.5" stroke="#333" stroke-width="0.8"/>
<line x1="358.94" y1="439.1" x2="358.94" y2="435.9" stroke="#333" stroke-width="0.8"/>
<line x1="358.94" y1="219.85" x2="358.94" y2="223.1" stroke="#333" stroke-width="0.8"/>
<line x1="368.84" y1="439.1" x2="368.84" y2="435.9" stroke="#333" stroke-width="0.8"/>
<line x1="368.84" y1="219.85" x2="368.84" y2="223.1" stroke="#333" stroke-width="0.8"/>
<line x1="375.86" y1="439.1" x2="375.86" y2="435.9" stroke="#333" stroke-width="0.8"/>
<line x1="375.86" y1="219.85" x2="375.86" y2="223.1" stroke="#333" stroke-width="0.8"/>
<line x1="381.3" y1="439.1" x2="381.3" y2="435.9" stroke="#333" stroke-width="0.8"/>
<line x1="381.3" y1="219.85" x2="381.3" y2="223.1" stroke="#333" stroke-width="0.8"/>
<line x1="385.75" y1="439.1" x2="385.75" y2="435.9" stroke="#333" stroke-width="0.8"/>
<line x1="385.75" y1="219.85" x2="385.75" y2="223.1" stroke="#333" stroke-width="0.8"/>
<line x1="389.51" y1="439.1" x2="389.51" y2="435.9" stroke="#333" stroke-width="0.8"/>
<line x1="389.51" y1="219.85" x2="389.51" y2="223.1" stroke="#333" stroke-width="0.8"/>
<line x1="392.77" y1="439.1" x2="392.77" y2="435.9" stroke="#333" stroke-width="0.8"/>
<line x1="392.77" y1="219.85" x2="392.77" y2="223.1" stroke="#333" stroke-width="0.8"/>
<line x1="395.64" y1="439.1" x2="395.64" y2="435.9" stroke="#333" stroke-width="0.8"/>
<line x1="395.64" y1="219.85" x2="395.64" y2="223.1" stroke="#333" stroke-width="0.8"/>
<text x="333.5" y="451.8" font-size="10">10<tspan font-size="8.6" dy="-3.1" dx="-0.3">-5</tspan></text>
<line x1="398.21" y1="439.1" x2="398.21" y2="432.4" stroke="#333" stroke-width="0.8"/>
<line x1="398.21" y1="219.85" x2="398.21" y2="226.5" stroke="#333" stroke-width="0.8"/>
<line x1="415.13" y1="439.1" x2="415.13" y2="435.9" stroke="#333" stroke-width="0.8"/>
<line x1="415.13" y1="219.85" x2="415.13" y2="223.1" stroke="#333" stroke-width="0.8"/>
<line x1="425.02" y1="439.1" x2="425.02" y2="435.9" stroke="#333" stroke-width="0.8"/>
<line x1="425.02" y1="219.85" x2="425.02" y2="223.1" stroke="#333" stroke-width="0.8"/>
<line x1="432.04" y1="439.1" x2="432.04" y2="435.9" stroke="#333" stroke-width="0.8"/>
<line x1="432.04" y1="219.85" x2="432.04" y2="223.1" stroke="#333" stroke-width="0.8"/>
<line x1="437.49" y1="439.1" x2="437.49" y2="435.9" stroke="#333" stroke-width="0.8"/>
<line x1="437.49" y1="219.85" x2="437.49" y2="223.1" stroke="#333" stroke-width="0.8"/>
<line x1="441.94" y1="439.1" x2="441.94" y2="435.9" stroke="#333" stroke-width="0.8"/>
<line x1="441.94" y1="219.85" x2="441.94" y2="223.1" stroke="#333" stroke-width="0.8"/>
<line x1="445.7" y1="439.1" x2="445.7" y2="435.9" stroke="#333" stroke-width="0.8"/>
<line x1="445.7" y1="219.85" x2="445.7" y2="223.1" stroke="#333" stroke-width="0.8"/>
<line x1="448.96" y1="439.1" x2="448.96" y2="435.9" stroke="#333" stroke-width="0.8"/>
<line x1="448.96" y1="219.85" x2="448.96" y2="223.1" stroke="#333" stroke-width="0.8"/>
<line x1="451.83" y1="439.1" x2="451.83" y2="435.9" stroke="#333" stroke-width="0.8"/>
<line x1="451.83" y1="219.85" x2="451.83" y2="223.1" stroke="#333" stroke-width="0.8"/>
<text x="390" y="451.8" font-size="10">10<tspan font-size="8.6" dy="-3.1" dx="-0.3">-4</tspan></text>
<text x="445.8" y="451.8" font-size="10">10<tspan font-size="8.6" dy="-3.1" dx="-0.3">-3</tspan></text>
<g>
<path d="M67.25 418.4V424.6M63.55 418.4H70.95M63.55 424.6H70.95" fill="none" stroke="#ff0000" stroke-width="1.15"/>
<path d="M65.55 421.5l1.7 -1.7l1.7 1.7l-1.7 1.7z" fill="#ff0000"/>
<path d="M100.37 409.74V413.79M96.67 409.74H104.07M96.67 413.79H104.07" fill="none" stroke="#ff0000" stroke-width="1.15"/>
<path d="M98.67 411.76l1.7 -1.7l1.7 1.7l-1.7 1.7z" fill="#ff0000"/>
<path d="M117.29 388.74V395.31M113.59 388.74H120.99M113.59 395.31H120.99" fill="none" stroke="#ff0000" stroke-width="1.15"/>
<path d="M115.59 392.02l1.7 -1.7l1.7 1.7l-1.7 1.7z" fill="#ff0000"/>
<path d="M127.18 365.29V373.33M123.48 365.29H130.88M123.48 373.33H130.88" fill="none" stroke="#ff0000" stroke-width="1.15"/>
<path d="M125.48 369.31l1.7 -1.7l1.7 1.7l-1.7 1.7z" fill="#ff0000"/>
<path d="M134.2 339.71V348.79M130.5 339.71H137.9M130.5 348.79H137.9" fill="none" stroke="#ff0000" stroke-width="1.15"/>
<path d="M132.5 344.25l1.7 -1.7l1.7 1.7l-1.7 1.7z" fill="#ff0000"/>
<path d="M139.64 331.76V340.96M135.94 331.76H143.34M135.94 340.96H143.34" fill="none" stroke="#ff0000" stroke-width="1.15"/>
<path d="M137.94 336.36l1.7 -1.7l1.7 1.7l-1.7 1.7z" fill="#ff0000"/>
<path d="M144.09 318.43V327.63M140.39 318.43H147.79M140.39 327.63H147.79" fill="none" stroke="#ff0000" stroke-width="1.15"/>
<path d="M142.39 323.03l1.7 -1.7l1.7 1.7l-1.7 1.7z" fill="#ff0000"/>
<path d="M147.85 297.58V306.78M144.15 297.58H151.55M144.15 306.78H151.55" fill="none" stroke="#ff0000" stroke-width="1.15"/>
<path d="M146.15 302.18l1.7 -1.7l1.7 1.7l-1.7 1.7z" fill="#ff0000"/>
<path d="M151.11 287.88V297.08M147.41 287.88H154.81M147.41 297.08H154.81" fill="none" stroke="#ff0000" stroke-width="1.15"/>
<path d="M149.41 292.48l1.7 -1.7l1.7 1.7l-1.7 1.7z" fill="#ff0000"/>
<path d="M153.99 285.42V294.62M150.29 285.42H157.69M150.29 294.62H157.69" fill="none" stroke="#ff0000" stroke-width="1.15"/>
<path d="M152.29 290.02l1.7 -1.7l1.7 1.7l-1.7 1.7z" fill="#ff0000"/>
<path d="M156.56 280.5V289.7M152.86 280.5H160.26M152.86 289.7H160.26" fill="none" stroke="#ff0000" stroke-width="1.15"/>
<path d="M154.86 285.1l1.7 -1.7l1.7 1.7l-1.7 1.7z" fill="#ff0000"/>
<path d="M158.88 270.65V281.05M155.18 270.65H162.58M155.18 281.05H162.58" fill="none" stroke="#ff0000" stroke-width="1.15"/>
<path d="M157.18 275.85l1.7 -1.7l1.7 1.7l-1.7 1.7z" fill="#ff0000"/>
<path d="M161.01 259.79V271.52M157.31 259.79H164.71M157.31 271.52H164.71" fill="none" stroke="#ff0000" stroke-width="1.15"/>
<path d="M159.31 265.66l1.7 -1.7l1.7 1.7l-1.7 1.7z" fill="#ff0000"/>
<path d="M162.96 268.39V280.09M159.26 268.39H166.66M159.26 280.09H166.66" fill="none" stroke="#ff0000" stroke-width="1.15"/>
<path d="M161.26 274.24l1.7 -1.7l1.7 1.7l-1.7 1.7z" fill="#ff0000"/>
<path d="M164.77 262.85V274.27M161.07 262.85H168.47M161.07 274.27H168.47" fill="none" stroke="#ff0000" stroke-width="1.15"/>
<path d="M163.07 268.56l1.7 -1.7l1.7 1.7l-1.7 1.7z" fill="#ff0000"/>
<path d="M166.45 264.17V276.48M162.75 264.17H170.15M162.75 276.48H170.15" fill="none" stroke="#ff0000" stroke-width="1.15"/>
<path d="M164.75 270.33l1.7 -1.7l1.7 1.7l-1.7 1.7z" fill="#ff0000"/>
<path d="M168.03 265.14V276.68M164.33 265.14H171.73M164.33 276.68H171.73" fill="none" stroke="#ff0000" stroke-width="1.15"/>
<path d="M166.33 270.91l1.7 -1.7l1.7 1.7l-1.7 1.7z" fill="#ff0000"/>
<path d="M169.51 255.17V266.94M165.81 255.17H173.21M165.81 266.94H173.21" fill="none" stroke="#ff0000" stroke-width="1.15"/>
<path d="M167.81 261.06l1.7 -1.7l1.7 1.7l-1.7 1.7z" fill="#ff0000"/>
<path d="M170.9 256.5V267.78M167.2 256.5H174.6M167.2 267.78H174.6" fill="none" stroke="#ff0000" stroke-width="1.15"/>
<path d="M169.2 262.14l1.7 -1.7l1.7 1.7l-1.7 1.7z" fill="#ff0000"/>
<path d="M172.22 252.77V263.76M168.52 252.77H175.92M168.52 263.76H175.92" fill="none" stroke="#ff0000" stroke-width="1.15"/>
<path d="M170.52 258.27l1.7 -1.7l1.7 1.7l-1.7 1.7z" fill="#ff0000"/>
<path d="M173.47 256.15V267.17M169.77 256.15H177.17M169.77 267.17H177.17" fill="none" stroke="#ff0000" stroke-width="1.15"/>
<path d="M171.77 261.66l1.7 -1.7l1.7 1.7l-1.7 1.7z" fill="#ff0000"/>
<path d="M175.8 244.24V254.59M172.1 244.24H179.5M172.1 254.59H179.5" fill="none" stroke="#ff0000" stroke-width="1.15"/>
<path d="M174.1 249.41l1.7 -1.7l1.7 1.7l-1.7 1.7z" fill="#ff0000"/>
<path d="M177.92 239.31V248.4M174.22 239.31H181.62M174.22 248.4H181.62" fill="none" stroke="#ff0000" stroke-width="1.15"/>
<path d="M176.22 243.86l1.7 -1.7l1.7 1.7l-1.7 1.7z" fill="#ff0000"/>
<path d="M179.87 236.53V245.16M176.17 236.53H183.57M176.17 245.16H183.57" fill="none" stroke="#ff0000" stroke-width="1.15"/>
<path d="M178.17 240.85l1.7 -1.7l1.7 1.7l-1.7 1.7z" fill="#ff0000"/>
<path d="M181.68 237.97V246.64M177.98 237.97H185.38M177.98 246.64H185.38" fill="none" stroke="#ff0000" stroke-width="1.15"/>
<path d="M179.98 242.31l1.7 -1.7l1.7 1.7l-1.7 1.7z" fill="#ff0000"/>
<path d="M183.37 236.43V243.53M179.67 236.43H187.07M179.67 243.53H187.07" fill="none" stroke="#ff0000" stroke-width="1.15"/>
<path d="M181.67 239.98l1.7 -1.7l1.7 1.7l-1.7 1.7z" fill="#ff0000"/>
<path d="M184.94 235.32V243.49M181.24 235.32H188.64M181.24 243.49H188.64" fill="none" stroke="#ff0000" stroke-width="1.15"/>
<path d="M183.24 239.41l1.7 -1.7l1.7 1.7l-1.7 1.7z" fill="#ff0000"/>
<path d="M186.42 229.27V236.42M182.72 229.27H190.12M182.72 236.42H190.12" fill="none" stroke="#ff0000" stroke-width="1.15"/>
<path d="M184.72 232.84l1.7 -1.7l1.7 1.7l-1.7 1.7z" fill="#ff0000"/>
<path d="M187.81 233.15V239.68M184.11 233.15H191.51M184.11 239.68H191.51" fill="none" stroke="#ff0000" stroke-width="1.15"/>
<path d="M186.11 236.41l1.7 -1.7l1.7 1.7l-1.7 1.7z" fill="#ff0000"/>
<path d="M189.13 230.45V236.57M185.43 230.45H192.83M185.43 236.57H192.83" fill="none" stroke="#ff0000" stroke-width="1.15"/>
<path d="M187.43 233.51l1.7 -1.7l1.7 1.7l-1.7 1.7z" fill="#ff0000"/>
<path d="M190.39 227.86V235.29M186.69 227.86H194.09M186.69 235.29H194.09" fill="none" stroke="#ff0000" stroke-width="1.15"/>
<path d="M188.69 231.58l1.7 -1.7l1.7 1.7l-1.7 1.7z" fill="#ff0000"/>
<path d="M191.58 226.39V233.23M187.88 226.39H195.28M187.88 233.23H195.28" fill="none" stroke="#ff0000" stroke-width="1.15"/>
<path d="M189.88 229.81l1.7 -1.7l1.7 1.7l-1.7 1.7z" fill="#ff0000"/>
<path d="M192.71 227.83V234.87M189.01 227.83H196.41M189.01 234.87H196.41" fill="none" stroke="#ff0000" stroke-width="1.15"/>
<path d="M191.01 231.35l1.7 -1.7l1.7 1.7l-1.7 1.7z" fill="#ff0000"/>
<path d="M193.8 229.12V235.36M190.1 229.12H197.5M190.1 235.36H197.5" fill="none" stroke="#ff0000" stroke-width="1.15"/>
<path d="M192.1 232.24l1.7 -1.7l1.7 1.7l-1.7 1.7z" fill="#ff0000"/>
<path d="M194.83 229.01V234.75M191.13 229.01H198.53M191.13 234.75H198.53" fill="none" stroke="#ff0000" stroke-width="1.15"/>
<path d="M193.13 231.88l1.7 -1.7l1.7 1.7l-1.7 1.7z" fill="#ff0000"/>
<path d="M195.83 232.06V237.99M192.13 232.06H199.53M192.13 237.99H199.53" fill="none" stroke="#ff0000" stroke-width="1.15"/>
<path d="M194.13 235.03l1.7 -1.7l1.7 1.7l-1.7 1.7z" fill="#ff0000"/>
<path d="M196.79 225.14V230.86M193.09 225.14H200.49M193.09 230.86H200.49" fill="none" stroke="#ff0000" stroke-width="1.15"/>
<path d="M195.09 228l1.7 -1.7l1.7 1.7l-1.7 1.7z" fill="#ff0000"/>
<path d="M198.6 229.45V234.97M194.9 229.45H202.3M194.9 234.97H202.3" fill="none" stroke="#ff0000" stroke-width="1.15"/>
<path d="M196.9 232.21l1.7 -1.7l1.7 1.7l-1.7 1.7z" fill="#ff0000"/>
<path d="M200.28 227.19V232.93M196.58 227.19H203.98M196.58 232.93H203.98" fill="none" stroke="#ff0000" stroke-width="1.15"/>
<path d="M198.58 230.06l1.7 -1.7l1.7 1.7l-1.7 1.7z" fill="#ff0000"/>
<path d="M201.85 229.57V235.21M198.15 229.57H205.55M198.15 235.21H205.55" fill="none" stroke="#ff0000" stroke-width="1.15"/>
<path d="M200.15 232.39l1.7 -1.7l1.7 1.7l-1.7 1.7z" fill="#ff0000"/>
<path d="M203.33 230.22V235.49M199.63 230.22H207.03M199.63 235.49H207.03" fill="none" stroke="#ff0000" stroke-width="1.15"/>
<path d="M201.63 232.86l1.7 -1.7l1.7 1.7l-1.7 1.7z" fill="#ff0000"/>
<path d="M204.73 228.62V235.02M201.03 228.62H208.43M201.03 235.02H208.43" fill="none" stroke="#ff0000" stroke-width="1.15"/>
<path d="M203.03 231.82l1.7 -1.7l1.7 1.7l-1.7 1.7z" fill="#ff0000"/>
<path d="M172.3 232.4V244M168.6 232.4H176M168.6 244H176" fill="none" stroke="#ff0000" stroke-width="1.15"/>
<path d="M170.6 238.2l1.7 -1.7l1.7 1.7l-1.7 1.7z" fill="#ff0000"/>
<path d="M180.7 224.3V232.7M177 224.3H184.4M177 232.7H184.4" fill="none" stroke="#ff0000" stroke-width="1.15"/>
<path d="M179 228.5l1.7 -1.7l1.7 1.7l-1.7 1.7z" fill="#ff0000"/>
<path d="M209 239V240M205.3 239H212.7M205.3 240H212.7" fill="none" stroke="#ff0000" stroke-width="1.15"/>
<path d="M207.3 239.5l1.7 -1.7l1.7 1.7l-1.7 1.7z" fill="#ff0000"/>
<path d="M216.2 243.7V244.7M212.5 243.7H219.9M212.5 244.7H219.9" fill="none" stroke="#ff0000" stroke-width="1.15"/>
<path d="M214.5 244.2l1.7 -1.7l1.7 1.7l-1.7 1.7z" fill="#ff0000"/>
<path d="M224.6 252.3V253.3M220.9 252.3H228.3M220.9 253.3H228.3" fill="none" stroke="#ff0000" stroke-width="1.15"/>
<path d="M222.9 252.8l1.7 -1.7l1.7 1.7l-1.7 1.7z" fill="#ff0000"/>
<path d="M234.3 263.3V264.3M230.6 263.3H238M230.6 264.3H238" fill="none" stroke="#ff0000" stroke-width="1.15"/>
<path d="M232.6 263.8l1.7 -1.7l1.7 1.7l-1.7 1.7z" fill="#ff0000"/>
<path d="M245 274V275M241.3 274H248.7M241.3 275H248.7" fill="none" stroke="#ff0000" stroke-width="1.15"/>
<path d="M243.3 274.5l1.7 -1.7l1.7 1.7l-1.7 1.7z" fill="#ff0000"/>
<path d="M256.25 286.25V287.25M252.55 286.25H259.95M252.55 287.25H259.95" fill="none" stroke="#ff0000" stroke-width="1.15"/>
<path d="M254.55 286.75l1.7 -1.7l1.7 1.7l-1.7 1.7z" fill="#ff0000"/>
<path d="M267 295.25V296.25M263.3 295.25H270.7M263.3 296.25H270.7" fill="none" stroke="#ff0000" stroke-width="1.15"/>
<path d="M265.3 295.75l1.7 -1.7l1.7 1.7l-1.7 1.7z" fill="#ff0000"/>
<path d="M279.25 302.75V303.75M275.55 302.75H282.95M275.55 303.75H282.95" fill="none" stroke="#ff0000" stroke-width="1.15"/>
<path d="M277.55 303.25l1.7 -1.7l1.7 1.7l-1.7 1.7z" fill="#ff0000"/>
<path d="M291.75 308.25V309.25M288.05 308.25H295.45M288.05 309.25H295.45" fill="none" stroke="#ff0000" stroke-width="1.15"/>
<path d="M290.05 308.75l1.7 -1.7l1.7 1.7l-1.7 1.7z" fill="#ff0000"/>
<path d="M298.8 312H306.2" fill="none" stroke="#ff0000" stroke-width="1.15"/>
<path d="M300.8 312l1.7 -1.7l1.7 1.7l-1.7 1.7z" fill="#ff0000"/>
<path d="M311.3 314.5H318.7" fill="none" stroke="#ff0000" stroke-width="1.15"/>
<path d="M313.3 314.5l1.7 -1.7l1.7 1.7l-1.7 1.7z" fill="#ff0000"/>
<path d="M323.3 315.75H330.7" fill="none" stroke="#ff0000" stroke-width="1.15"/>
<path d="M325.3 315.75l1.7 -1.7l1.7 1.7l-1.7 1.7z" fill="#ff0000"/>
<path d="M335.8 316.6H343.2" fill="none" stroke="#ff0000" stroke-width="1.15"/>
<path d="M337.8 316.6l1.7 -1.7l1.7 1.7l-1.7 1.7z" fill="#ff0000"/>
<path d="M348.05 317.1H355.45" fill="none" stroke="#ff0000" stroke-width="1.15"/>
<path d="M350.05 317.1l1.7 -1.7l1.7 1.7l-1.7 1.7z" fill="#ff0000"/>
<path d="M359.8 317.3H367.2" fill="none" stroke="#ff0000" stroke-width="1.15"/>
<path d="M361.8 317.3l1.7 -1.7l1.7 1.7l-1.7 1.7z" fill="#ff0000"/>
<path d="M371.8 317.5H379.2" fill="none" stroke="#ff0000" stroke-width="1.15"/>
<path d="M373.8 317.5l1.7 -1.7l1.7 1.7l-1.7 1.7z" fill="#ff0000"/>
<path d="M384.3 317.5H391.7" fill="none" stroke="#ff0000" stroke-width="1.15"/>
<path d="M386.3 317.5l1.7 -1.7l1.7 1.7l-1.7 1.7z" fill="#ff0000"/>
<path d="M396.3 317.5H403.7" fill="none" stroke="#ff0000" stroke-width="1.15"/>
<path d="M398.3 317.5l1.7 -1.7l1.7 1.7l-1.7 1.7z" fill="#ff0000"/>
<path d="M408.55 317.5H415.95" fill="none" stroke="#ff0000" stroke-width="1.15"/>
<path d="M410.55 317.5l1.7 -1.7l1.7 1.7l-1.7 1.7z" fill="#ff0000"/>
<path d="M420.55 317.5H427.95" fill="none" stroke="#ff0000" stroke-width="1.15"/>
<path d="M422.55 317.5l1.7 -1.7l1.7 1.7l-1.7 1.7z" fill="#ff0000"/>
<path d="M433.05 317.5H440.45" fill="none" stroke="#ff0000" stroke-width="1.15"/>
<path d="M435.05 317.5l1.7 -1.7l1.7 1.7l-1.7 1.7z" fill="#ff0000"/>
</g>
<polyline fill="none" stroke="#0000ff" stroke-width="1.15" stroke-linejoin="round" points="61,415 62,414.99 63,414.97 64,414.96 65,414.93 66,414.91 67,414.89 68,414.86 69,414.83 70,414.8 71,414.77 72,414.73 73,414.69 74,414.65 75,414.61 76,414.56 77,414.5 78,414.45 79,414.39 80,414.32 81,414.25 82,414.17 83,414.08 84,413.98 85,413.87 86,413.74 87,413.61 88,413.47 89,413.32 90,413.16 91,413 92,412.83 93,412.64 94,412.43 95,412.21 96,411.97 97,411.72 98,411.44 99,411.15 100,410.83 101,410.5 102,410.13 103,409.72 104,409.26 105,408.76 106,408.22 107,407.64 108,407.03 109,406.38 110,405.71 111,405 112,404.23 113,403.38 114,402.45 115,401.44 116,400.38 117,399.26 118,398.1 119,396.89 120,395.59 121,394.21 122,392.75 123,391.22 124,389.62 125,387.96 126,386.25 127,384.47 128,382.6 129,380.61 130,378.5 131,376.25 132,373.8 133,371.12 134,368.29 135,365.4 136,362.5 137,359.65 138,356.78 139,353.85 140,350.78 141,347.5 142,343.85 143,339.87 144,335.83 145,332 146,328.46 147,325.06 148,321.72 149,318.39 150,315 151,311.52 152,307.99 153,304.45 154,300.94 155,297.5 156,294.11 157,290.75 158,287.44 159,284.18 160,281 161,277.86 162,274.75 163,271.71 164,268.78 165,266 166,263.35 167,260.8 168,258.35 169,256 170,253.75 171,251.53 172,249.35 173,247.26 174,245.37 175,243.75 176,242.33 177,241.01 178,239.82 179,238.81 180,238 181,237.32 182,236.7 183,236.17 184,235.76 185,235.5 186,235.34 187,235.2 188,235.1 189,235.03 190,235 191,235.06 192,235.22 193,235.46 194,235.73 195,236 196,236.31 197,236.7 198,237.13 199,237.57 200,238 201,238.41 202,238.82 203,239.23 204,239.65 205,240.08 206,240.53 207,241 208,241.5 209,242.03 210,242.57 211,243.14 212,243.73 213,244.33 214,244.95 215,245.59 216,246.24 217,246.91 218,247.6 219,248.29 220,249 221,249.73 222,250.48 223,251.27 224,252.07 225,252.9 226,253.75 227,254.61 228,255.49 229,256.39 230,257.3 231,258.23 232,259.18 233,260.15 234,261.15 235,262.17 236,263.2 237,264.25 238,265.32 239,266.4 240,267.5 241,268.63 242,269.79 243,270.99 244,272.21 245,273.44 246,274.68 247,275.92 248,277.14 249,278.33 250,279.5 251,280.65 252,281.8 253,282.94 254,284.07 255,285.2 256,286.3 257,287.39 258,288.46 259,289.49 260,290.5 261,291.49 262,292.47 263,293.43 264,294.39 265,295.32 266,296.22 267,297.1 268,297.94 269,298.74 270,299.5 271,300.23 272,300.94 273,301.63 274,302.3 275,302.94 276,303.56 277,304.15 278,304.72 279,305.25 280,305.75 281,306.22 282,306.68 283,307.11 284,307.52 285,307.92 286,308.3 287,308.67 288,309.02 289,309.37 290,309.7 291,310.02 292,310.34 293,310.64 294,310.93 295,311.22 296,311.49 297,311.76 298,312.01 299,312.26 300,312.5 301,312.73 302,312.96 303,313.18 304,313.39 305,313.6 306,313.8 307,313.99 308,314.17 309,314.34 310,314.5 311,314.65 312,314.8 313,314.94 314,315.07 315,315.2 316,315.32 317,315.44 318,315.55 319,315.65 320,315.75 321,315.84 322,315.93 323,316.02 324,316.1 325,316.18 326,316.25 327,316.32 328,316.38 329,316.44 330,316.5 331,316.55 332,316.6 333,316.65 334,316.7 335,316.74 336,316.79 337,316.83 338,316.87 339,316.91 340,316.94 341,316.98 342,317.01 343,317.04 344,317.07 345,317.1 346,317.13 347,317.15 348,317.18 349,317.21 350,317.23 351,317.26 352,317.28 353,317.3 354,317.32 355,317.34 356,317.36 357,317.37 358,317.38 359,317.39 360,317.4 361,317.4 362,317.41 363,317.41 364,317.42 365,317.42 366,317.43 367,317.43 368,317.44 369,317.44 370,317.44 371,317.45 372,317.45 373,317.45 374,317.46 375,317.46 376,317.46 377,317.47 378,317.47 379,317.47 380,317.48 381,317.48 382,317.48 383,317.48 384,317.48 385,317.49 386,317.49 387,317.49 388,317.49 389,317.49 390,317.49 391,317.49 392,317.5 393,317.5 394,317.5 395,317.5 396,317.5 397,317.5 398,317.5 399,317.5 400,317.5 401,317.5 402,317.5 403,317.5 404,317.5 405,317.5 406,317.5 407,317.5 408,317.5 409,317.5 410,317.5 411,317.5 412,317.5 413,317.5 414,317.5 415,317.5 416,317.5 417,317.5 418,317.5 419,317.5 420,317.5 421,317.5 422,317.5 423,317.5 424,317.5 425,317.5 426,317.5 427,317.5 428,317.5 429,317.5 430,317.5 431,317.5 432,317.5 433,317.5 434,317.5 435,317.5 436,317.5 437,317.5 438,317.5 439,317.5 440,317.5 441,317.5"/>
<rect x="61.1" y="219.85" width="393.3" height="219.45" fill="none" stroke="#222" stroke-width="1.3"/>
<text x="209.1" y="465.2" font-size="12.5" textLength="86.4" lengthAdjust="spacingAndGlyphs">Time Delay τ (s)</text>
<text x="30.5" y="348" font-size="12.5" transform="rotate(-90 30.5 348)" textLength="32.5" lengthAdjust="spacingAndGlyphs">g<tspan font-size="9.5" dy="-6.2">(2)</tspan><tspan dy="6.2">(τ)</tspan></text>
<rect x="279.9" y="229.9" width="160.5" height="14.1" fill="#4f81bd"/>
<rect x="279.9" y="244" width="160.5" height="14.2" fill="#e2e2e2"/>
<rect x="279.9" y="258.2" width="160.5" height="15.3" fill="#fff"/>
<rect x="279.9" y="273.5" width="160.5" height="14" fill="#e2e2e2"/>
<line x1="279.9" y1="229.8" x2="440.4" y2="229.8" stroke="#1a1a2a" stroke-width="0.9"/>
<line x1="279.9" y1="244.4" x2="440.4" y2="244.4" stroke="#1a1a2a" stroke-width="1.1"/>
<line x1="279.9" y1="287.7" x2="440.4" y2="287.7" stroke="#1a1a1a" stroke-width="1.4"/>
<text x="280.8" y="240.2" font-size="8.4" font-weight="bold" fill="#fff" textLength="9.7" lengthAdjust="spacingAndGlyphs">DS</text>
<text x="295.2" y="240.2" font-size="8.4" font-weight="bold" fill="#fff" textLength="21.9" lengthAdjust="spacingAndGlyphs">u (s<tspan font-size="6.3" dy="-3">-1</tspan><tspan dy="3">)</tspan></text>
<text x="346.6" y="240.2" font-size="8.4" font-weight="bold" fill="#fff" textLength="21.6" lengthAdjust="spacingAndGlyphs">d (s<tspan font-size="6.3" dy="-3">-1</tspan><tspan dy="3">)</tspan></text>
<text x="393.8" y="240.2" font-size="8.4" font-weight="bold" fill="#fff" textLength="39.8" lengthAdjust="spacingAndGlyphs">Occupancy</text>
<text x="286" y="254.7" font-size="8.3" text-anchor="middle">1</text>
<text x="295.2" y="254.7" font-size="8.3" textLength="37" lengthAdjust="spacingAndGlyphs">4.47 x 10<tspan font-size="7.3" dy="-3.1">6</tspan></text>
<text x="346.2" y="254.7" font-size="8.3" textLength="37" lengthAdjust="spacingAndGlyphs">2.93 x 10<tspan font-size="7.3" dy="-3.1">6</tspan></text>
<text x="412.8" y="254.7" font-size="8.3" text-anchor="middle" textLength="25.4" lengthAdjust="spacingAndGlyphs">0.3146</text>
<text x="286" y="269.1" font-size="8.3" text-anchor="middle">2</text>
<text x="295.2" y="269.1" font-size="8.3" textLength="37" lengthAdjust="spacingAndGlyphs">3.58 x 10<tspan font-size="7.3" dy="-3.1">5</tspan></text>
<text x="346.2" y="269.1" font-size="8.3" textLength="37" lengthAdjust="spacingAndGlyphs">5.02 x 10<tspan font-size="7.3" dy="-3.1">5</tspan></text>
<text x="412.8" y="269.1" font-size="8.3" text-anchor="middle" textLength="25.4" lengthAdjust="spacingAndGlyphs">0.1467</text>
<text x="286" y="283.8" font-size="8.3" text-anchor="middle">3</text>
<text x="295.2" y="283.8" font-size="8.3" textLength="15.5" lengthAdjust="spacingAndGlyphs">69.0</text>
<text x="346.2" y="283.8" font-size="8.3" textLength="17.3" lengthAdjust="spacingAndGlyphs">2970</text>
<text x="412.8" y="283.8" font-size="8.3" text-anchor="middle" textLength="25.4" lengthAdjust="spacingAndGlyphs">0.0048</text>
<rect x="277.5" y="323.95" width="168" height="93.45" fill="#fff"/>
<g>
<path d="M278.1 334.8V338M276.35 334.8H279.85M276.35 338H279.85" fill="none" stroke="#ff0000" stroke-width="1.25"/>
<path d="M281.53 332.92V336.12M279.78 332.92H283.28M279.78 336.12H283.28" fill="none" stroke="#ff0000" stroke-width="1.25"/>
<path d="M284.96 331.51V334.71M283.21 331.51H286.71M283.21 334.71H286.71" fill="none" stroke="#ff0000" stroke-width="1.25"/>
<path d="M288.38 330.65V333.85M286.63 330.65H290.13M286.63 333.85H290.13" fill="none" stroke="#ff0000" stroke-width="1.25"/>
<path d="M291.81 331.6V334.8M290.06 331.6H293.56M290.06 334.8H293.56" fill="none" stroke="#ff0000" stroke-width="1.25"/>
<path d="M295.24 331.02V334.22M293.49 331.02H296.99M293.49 334.22H296.99" fill="none" stroke="#ff0000" stroke-width="1.25"/>
<path d="M298.67 331.53V334.73M296.92 331.53H300.42M296.92 334.73H300.42" fill="none" stroke="#ff0000" stroke-width="1.25"/>
<path d="M302.1 330.88V334.08M300.35 330.88H303.85M300.35 334.08H303.85" fill="none" stroke="#ff0000" stroke-width="1.25"/>
<path d="M305.52 329.67V332.87M303.77 329.67H307.27M303.77 332.87H307.27" fill="none" stroke="#ff0000" stroke-width="1.25"/>
<path d="M308.95 327.09V330.29M307.2 327.09H310.7M307.2 330.29H310.7" fill="none" stroke="#ff0000" stroke-width="1.25"/>
<path d="M312.38 326.23V329.43M310.63 326.23H314.13M310.63 329.43H314.13" fill="none" stroke="#ff0000" stroke-width="1.25"/>
<path d="M315.81 327.03V330.23M314.06 327.03H317.56M314.06 330.23H317.56" fill="none" stroke="#ff0000" stroke-width="1.25"/>
<path d="M319.24 326.28V329.48M317.49 326.28H320.99M317.49 329.48H320.99" fill="none" stroke="#ff0000" stroke-width="1.25"/>
<path d="M322.66 328.34V331.54M320.91 328.34H324.41M320.91 331.54H324.41" fill="none" stroke="#ff0000" stroke-width="1.25"/>
<path d="M326.09 327.03V330.23M324.34 327.03H327.84M324.34 330.23H327.84" fill="none" stroke="#ff0000" stroke-width="1.25"/>
<path d="M329.52 325.74V328.94M327.77 325.74H331.27M327.77 328.94H331.27" fill="none" stroke="#ff0000" stroke-width="1.25"/>
<path d="M332.95 327.06V330.26M331.2 327.06H334.7M331.2 330.26H334.7" fill="none" stroke="#ff0000" stroke-width="1.25"/>
<path d="M336.38 329.27V332.47M334.63 329.27H338.13M334.63 332.47H338.13" fill="none" stroke="#ff0000" stroke-width="1.25"/>
<path d="M338.09 328.02V331.22M336.34 328.02H339.84M336.34 331.22H339.84" fill="none" stroke="#ff0000" stroke-width="1.25"/>
<path d="M339.8 329.86V333.06M338.05 329.86H341.55M338.05 333.06H341.55" fill="none" stroke="#ff0000" stroke-width="1.25"/>
<path d="M341.38 332.96V336.16M339.63 332.96H343.13M339.63 336.16H343.13" fill="none" stroke="#ff0000" stroke-width="1.25"/>
<path d="M342.96 330.67V333.87M341.21 330.67H344.71M341.21 333.87H344.71" fill="none" stroke="#ff0000" stroke-width="1.25"/>
<path d="M344.55 333.87V337.07M342.8 333.87H346.3M342.8 337.07H346.3" fill="none" stroke="#ff0000" stroke-width="1.25"/>
<path d="M345.33 334.03V337.23M343.58 334.03H347.08M343.58 337.23H347.08" fill="none" stroke="#ff0000" stroke-width="1.25"/>
<path d="M346.11 337.23V339.83M344.36 337.23H347.86M344.36 339.83H347.86" fill="none" stroke="#ff0000" stroke-width="1.25"/>
<path d="M346.89 338.45V341.05M345.14 338.45H348.64M345.14 341.05H348.64" fill="none" stroke="#ff0000" stroke-width="1.25"/>
<path d="M347.68 340.1V342.7M345.93 340.1H349.43M345.93 342.7H349.43" fill="none" stroke="#ff0000" stroke-width="1.25"/>
<path d="M348.46 340.03V342.63M346.71 340.03H350.21M346.71 342.63H350.21" fill="none" stroke="#ff0000" stroke-width="1.25"/>
<path d="M349.23 344.07V346.67M347.48 344.07H350.98M347.48 346.67H350.98" fill="none" stroke="#ff0000" stroke-width="1.25"/>
<path d="M350.01 345.11V347.71M348.26 345.11H351.76M348.26 347.71H351.76" fill="none" stroke="#ff0000" stroke-width="1.25"/>
<path d="M350.78 348.56V351.16M349.03 348.56H352.53M349.03 351.16H352.53" fill="none" stroke="#ff0000" stroke-width="1.25"/>
<path d="M351.56 350.75V353.35M349.81 350.75H353.31M349.81 353.35H353.31" fill="none" stroke="#ff0000" stroke-width="1.25"/>
<path d="M352.34 355.4V358M350.59 355.4H354.09M350.59 358H354.09" fill="none" stroke="#ff0000" stroke-width="1.25"/>
<path d="M353.13 359.29V361.89M351.38 359.29H354.88M351.38 361.89H354.88" fill="none" stroke="#ff0000" stroke-width="1.25"/>
<path d="M353.94 363.38V365.98M352.19 363.38H355.69M352.19 365.98H355.69" fill="none" stroke="#ff0000" stroke-width="1.25"/>
<path d="M354.79 369.91V372.51M353.04 369.91H356.54M353.04 372.51H356.54" fill="none" stroke="#ff0000" stroke-width="1.25"/>
<path d="M355.68 377.12V379.72M353.93 377.12H357.43M353.93 379.72H357.43" fill="none" stroke="#ff0000" stroke-width="1.25"/>
<path d="M356.65 381.51V384.11M354.9 381.51H358.4M354.9 384.11H358.4" fill="none" stroke="#ff0000" stroke-width="1.25"/>
<path d="M357.7 390.28V392.88M355.95 390.28H359.45M355.95 392.88H359.45" fill="none" stroke="#ff0000" stroke-width="1.25"/>
<path d="M358.82 396.79V399.39M357.07 396.79H360.57M357.07 399.39H360.57" fill="none" stroke="#ff0000" stroke-width="1.25"/>
<path d="M360.01 402.94V405.54M358.26 402.94H361.76M358.26 405.54H361.76" fill="none" stroke="#ff0000" stroke-width="1.25"/>
<path d="M361.23 408.72V411.32M359.48 408.72H362.98M359.48 411.32H362.98" fill="none" stroke="#ff0000" stroke-width="1.25"/>
<path d="M361.87 404.52V407.12M360.12 404.52H363.62M360.12 407.12H363.62" fill="none" stroke="#ff0000" stroke-width="1.25"/>
<path d="M362.38 399.39V401.99M360.63 399.39H364.13M360.63 401.99H364.13" fill="none" stroke="#ff0000" stroke-width="1.25"/>
<path d="M362.94 393.83V396.43M361.19 393.83H364.69M361.19 396.43H364.69" fill="none" stroke="#ff0000" stroke-width="1.25"/>
<path d="M363.57 387.38V389.98M361.82 387.38H365.32M361.82 389.98H365.32" fill="none" stroke="#ff0000" stroke-width="1.25"/>
<path d="M364.29 379.09V381.69M362.54 379.09H366.04M362.54 381.69H366.04" fill="none" stroke="#ff0000" stroke-width="1.25"/>
<path d="M365.08 370.37V372.97M363.33 370.37H366.83M363.33 372.97H366.83" fill="none" stroke="#ff0000" stroke-width="1.25"/>
<path d="M365.93 366.01V368.61M364.18 366.01H367.68M364.18 368.61H367.68" fill="none" stroke="#ff0000" stroke-width="1.25"/>
<path d="M366.82 361.84V364.44M365.07 361.84H368.57M365.07 364.44H368.57" fill="none" stroke="#ff0000" stroke-width="1.25"/>
<path d="M368.08 355.35V357.95M366.33 355.35H369.83M366.33 357.95H369.83" fill="none" stroke="#ff0000" stroke-width="1.25"/>
<path d="M369.48 351.88V354.48M367.73 351.88H371.23M367.73 354.48H371.23" fill="none" stroke="#ff0000" stroke-width="1.25"/>
<path d="M370.83 349.6V352.2M369.08 349.6H372.58M369.08 352.2H372.58" fill="none" stroke="#ff0000" stroke-width="1.25"/>
<path d="M372.13 345.88V348.48M370.38 345.88H373.88M370.38 348.48H373.88" fill="none" stroke="#ff0000" stroke-width="1.25"/>
<path d="M373.39 343.47V346.07M371.64 343.47H375.14M371.64 346.07H375.14" fill="none" stroke="#ff0000" stroke-width="1.25"/>
<path d="M374.6 342.42V345.02M372.85 342.42H376.35M372.85 345.02H376.35" fill="none" stroke="#ff0000" stroke-width="1.25"/>
<path d="M375.76 339.04V341.64M374.01 339.04H377.51M374.01 341.64H377.51" fill="none" stroke="#ff0000" stroke-width="1.25"/>
<path d="M376.89 337.76V340.36M375.14 337.76H378.64M375.14 340.36H378.64" fill="none" stroke="#ff0000" stroke-width="1.25"/>
<path d="M377.82 336.45V339.05M376.07 336.45H379.57M376.07 339.05H379.57" fill="none" stroke="#ff0000" stroke-width="1.25"/>
<path d="M378.75 334.71V337.31M377 334.71H380.5M377 337.31H380.5" fill="none" stroke="#ff0000" stroke-width="1.25"/>
<path d="M379.68 335.12V338.32M377.93 335.12H381.43M377.93 338.32H381.43" fill="none" stroke="#ff0000" stroke-width="1.25"/>
<path d="M380.61 333.01V336.21M378.86 333.01H382.36M378.86 336.21H382.36" fill="none" stroke="#ff0000" stroke-width="1.25"/>
<path d="M382.45 330.54V333.74M380.7 330.54H384.2M380.7 333.74H384.2" fill="none" stroke="#ff0000" stroke-width="1.25"/>
<path d="M384.3 329.95V333.15M382.55 329.95H386.05M382.55 333.15H386.05" fill="none" stroke="#ff0000" stroke-width="1.25"/>
<path d="M386.11 329.33V332.53M384.36 329.33H387.86M384.36 332.53H387.86" fill="none" stroke="#ff0000" stroke-width="1.25"/>
<path d="M387.82 328.98V332.18M386.07 328.98H389.57M386.07 332.18H389.57" fill="none" stroke="#ff0000" stroke-width="1.25"/>
<path d="M389.54 323.51V326.71M387.79 323.51H391.29M387.79 326.71H391.29" fill="none" stroke="#ff0000" stroke-width="1.25"/>
<path d="M391.25 324.87V328.07M389.5 324.87H393M389.5 328.07H393" fill="none" stroke="#ff0000" stroke-width="1.25"/>
<path d="M390.37 326.69V329.89M388.62 326.69H392.12M388.62 329.89H392.12" fill="none" stroke="#ff0000" stroke-width="1.25"/>
<path d="M393.79 326.97V330.17M392.04 326.97H395.54M392.04 330.17H395.54" fill="none" stroke="#ff0000" stroke-width="1.25"/>
<path d="M397.22 324.33V327.53M395.47 324.33H398.97M395.47 327.53H398.97" fill="none" stroke="#ff0000" stroke-width="1.25"/>
<path d="M400.65 325.47V328.67M398.9 325.47H402.4M398.9 328.67H402.4" fill="none" stroke="#ff0000" stroke-width="1.25"/>
<path d="M404.08 326.63V329.83M402.33 326.63H405.83M402.33 329.83H405.83" fill="none" stroke="#ff0000" stroke-width="1.25"/>
<path d="M407.51 328.51V331.71M405.76 328.51H409.26M405.76 331.71H409.26" fill="none" stroke="#ff0000" stroke-width="1.25"/>
<path d="M410.93 329.75V332.95M409.18 329.75H412.68M409.18 332.95H412.68" fill="none" stroke="#ff0000" stroke-width="1.25"/>
<path d="M414.36 327.18V330.38M412.61 327.18H416.11M412.61 330.38H416.11" fill="none" stroke="#ff0000" stroke-width="1.25"/>
<path d="M417.79 327.73V330.93M416.04 327.73H419.54M416.04 330.93H419.54" fill="none" stroke="#ff0000" stroke-width="1.25"/>
<path d="M421.22 329.6V332.8M419.47 329.6H422.97M419.47 332.8H422.97" fill="none" stroke="#ff0000" stroke-width="1.25"/>
<path d="M424.65 330.02V333.22M422.9 330.02H426.4M422.9 333.22H426.4" fill="none" stroke="#ff0000" stroke-width="1.25"/>
<path d="M428.07 332.97V336.17M426.32 332.97H429.82M426.32 336.17H429.82" fill="none" stroke="#ff0000" stroke-width="1.25"/>
<path d="M431.5 332.57V335.77M429.75 332.57H433.25M429.75 335.77H433.25" fill="none" stroke="#ff0000" stroke-width="1.25"/>
<path d="M434.93 333.96V337.16M433.18 333.96H436.68M433.18 337.16H436.68" fill="none" stroke="#ff0000" stroke-width="1.25"/>
<path d="M438.36 332.59V335.79M436.61 332.59H440.11M436.61 335.79H440.11" fill="none" stroke="#ff0000" stroke-width="1.25"/>
<path d="M441.79 334.14V337.34M440.04 334.14H443.54M440.04 337.34H443.54" fill="none" stroke="#ff0000" stroke-width="1.25"/>
<path d="M445.21 333.61V336.81M443.46 333.61H446.96M443.46 336.81H446.96" fill="none" stroke="#ff0000" stroke-width="1.25"/>
</g>
<polyline fill="none" stroke="#0000ff" stroke-width="1.1" stroke-linejoin="round" points="277.41,334.52 277.84,334.49 278.27,334.46 278.7,334.42 279.13,334.39 279.56,334.36 279.99,334.32 280.41,334.29 280.84,334.26 281.27,334.22 281.7,334.19 282.13,334.16 282.56,334.12 282.98,334.09 283.41,334.06 283.84,334.02 284.27,333.99 284.7,333.96 285.13,333.92 285.56,333.89 285.98,333.85 286.41,333.82 286.84,333.79 287.27,333.75 287.7,333.72 288.13,333.69 288.55,333.65 288.98,333.62 289.41,333.58 289.84,333.55 290.27,333.52 290.7,333.48 291.13,333.45 291.55,333.41 291.98,333.38 292.41,333.35 292.84,333.31 293.27,333.28 293.7,333.24 294.13,333.21 294.55,333.17 294.98,333.14 295.41,333.11 295.84,333.07 296.27,333.04 296.7,333 297.12,332.97 297.55,332.94 297.98,332.9 298.41,332.87 298.84,332.84 299.27,332.8 299.7,332.77 300.12,332.74 300.55,332.71 300.98,332.67 301.41,332.64 301.84,332.61 302.27,332.57 302.7,332.54 303.12,332.51 303.55,332.47 303.98,332.44 304.41,332.41 304.84,332.38 305.27,332.34 305.69,332.31 306.12,332.28 306.55,332.24 306.98,332.21 307.41,332.17 307.84,332.14 308.27,332.11 308.69,332.07 309.12,332.04 309.55,332 309.98,331.97 310.41,331.93 310.84,331.9 311.27,331.86 311.69,331.82 312.12,331.79 312.55,331.75 312.98,331.71 313.41,331.67 313.84,331.63 314.26,331.59 314.69,331.55 315.12,331.51 315.55,331.46 315.98,331.42 316.41,331.38 316.84,331.33 317.26,331.29 317.69,331.24 318.12,331.2 318.55,331.16 318.98,331.12 319.41,331.07 319.84,331.03 320.26,330.99 320.69,330.96 321.12,330.92 321.55,330.89 321.98,330.86 322.41,330.83 322.83,330.79 323.26,330.76 323.69,330.73 324.12,330.7 324.55,330.66 324.98,330.63 325.41,330.6 325.83,330.57 326.26,330.54 326.69,330.52 327.12,330.49 327.55,330.47 327.98,330.46 328.41,330.44 328.83,330.43 329.26,330.43 329.69,330.43 330.12,330.44 330.55,330.44 330.98,330.45 331.4,330.46 331.83,330.47 332.26,330.49 332.69,330.51 333.12,330.52 333.55,330.55 333.98,330.57 334.4,330.59 334.83,330.62 335.26,330.65 335.69,330.68 336.12,330.73 336.55,330.79 336.98,330.87 337.4,330.95 337.83,331.05 338.26,331.16 338.69,331.28 339.12,331.4 339.55,331.54 339.97,331.68 340.4,331.83 340.83,332.01 341.26,332.22 341.69,332.45 342.12,332.71 342.55,333 342.97,333.31 343.4,333.64 343.83,334 344.26,334.38 344.69,334.82 345.12,335.31 345.55,335.86 345.97,336.46 346.4,337.1 346.83,337.76 347.26,338.45 347.69,339.17 348.12,339.93 348.54,340.75 348.97,341.62 349.4,342.56 349.83,343.56 350.26,344.64 350.69,345.83 351.12,347.11 351.54,348.48 351.97,349.93 352.4,351.47 352.83,353.13 353.26,354.91 353.69,356.81 354.12,358.85 354.54,361.07 354.97,363.44 355.4,365.9 355.83,368.47 356.26,371.33 356.69,374.84 357.11,378.61 357.54,382 357.97,385.51 358.4,389.43 358.83,393.02 359.26,396.37 359.69,399.69 360.11,402.73 360.54,405.13 360.97,406.67 361.4,407.13 361.83,406.67 362.26,405.13 362.69,402.73 363.11,399.69 363.54,396.37 363.97,393.02 364.4,389.43 364.83,385.51 365.26,382 365.69,378.61 366.11,374.84 366.54,371.33 366.97,368.47 367.4,365.9 367.83,363.44 368.26,361.07 368.68,358.85 369.11,356.81 369.54,354.91 369.97,353.13 370.4,351.47 370.83,349.93 371.26,348.48 371.68,347.11 372.11,345.83 372.54,344.64 372.97,343.56 373.4,342.56 373.83,341.62 374.25,340.75 374.68,339.93 375.11,339.17 375.54,338.45 375.97,337.76 376.4,337.1 376.83,336.46 377.25,335.86 377.68,335.31 378.11,334.82 378.54,334.38 378.97,334 379.4,333.64 379.83,333.31 380.25,333 380.68,332.71 381.11,332.45 381.54,332.22 381.97,332.01 382.4,331.83 382.82,331.68 383.25,331.54 383.68,331.4 384.11,331.28 384.54,331.16 384.97,331.05 385.4,330.95 385.82,330.87 386.25,330.79 386.68,330.73 387.11,330.68 387.54,330.65 387.97,330.62 388.4,330.59 388.82,330.57 389.25,330.55 389.68,330.52 390.11,330.51 390.54,330.49 390.97,330.47 391.39,330.46 391.82,330.45 392.25,330.44 392.68,330.44 393.11,330.43 393.54,330.43 393.97,330.43 394.39,330.44 394.82,330.46 395.25,330.47 395.68,330.49 396.11,330.52 396.54,330.54 396.97,330.57 397.39,330.6 397.82,330.63 398.25,330.66 398.68,330.7 399.11,330.73 399.54,330.76 399.96,330.79 400.39,330.83 400.82,330.86 401.25,330.89 401.68,330.92 402.11,330.96 402.54,330.99 402.96,331.03 403.39,331.07 403.82,331.12 404.25,331.16 404.68,331.2 405.11,331.24 405.54,331.29 405.96,331.33 406.39,331.38 406.82,331.42 407.25,331.46 407.68,331.51 408.11,331.55 408.53,331.59 408.96,331.63 409.39,331.67 409.82,331.71 410.25,331.75 410.68,331.79 411.11,331.82 411.53,331.86 411.96,331.9 412.39,331.93 412.82,331.97 413.25,332 413.68,332.04 414.11,332.07 414.53,332.11 414.96,332.14 415.39,332.17 415.82,332.21 416.25,332.24 416.68,332.28 417.1,332.31 417.53,332.34 417.96,332.38 418.39,332.41 418.82,332.44 419.25,332.47 419.68,332.51 420.1,332.54 420.53,332.57 420.96,332.61 421.39,332.64 421.82,332.67 422.25,332.71 422.68,332.74 423.1,332.77 423.53,332.8 423.96,332.84 424.39,332.87 424.82,332.9 425.25,332.94 425.67,332.97 426.1,333 426.53,333.04 426.96,333.07 427.39,333.11 427.82,333.14 428.25,333.17 428.67,333.21 429.1,333.24 429.53,333.28 429.96,333.31 430.39,333.35 430.82,333.38 431.25,333.41 431.67,333.45 432.1,333.48 432.53,333.52 432.96,333.55 433.39,333.58 433.82,333.62 434.25,333.65 434.67,333.69 435.1,333.72 435.53,333.75 435.96,333.79 436.39,333.82 436.82,333.85 437.24,333.89 437.67,333.92 438.1,333.96 438.53,333.99 438.96,334.02 439.39,334.06 439.82,334.09 440.24,334.12 440.67,334.16 441.1,334.19 441.53,334.22 441.96,334.26 442.39,334.29 442.81,334.32 443.24,334.36 443.67,334.39 444.1,334.42 444.53,334.46 444.96,334.49 445.39,334.52"/>
<rect x="277.5" y="323.95" width="168" height="93.45" fill="none" stroke="#000" stroke-width="1.2"/>
<line x1="277.5" y1="412.21" x2="279.6" y2="412.21" stroke="#000" stroke-width="0.7"/>
<line x1="445.5" y1="412.21" x2="443.6" y2="412.21" stroke="#000" stroke-width="0.7"/>
<text x="275.3" y="419.5" font-size="7.5" text-anchor="end">0</text>
<line x1="277.5" y1="407.02" x2="281.2" y2="407.02" stroke="#000" stroke-width="0.7"/>
<line x1="445.5" y1="407.02" x2="442.2" y2="407.02" stroke="#000" stroke-width="0.7"/>
<line x1="277.5" y1="401.83" x2="279.6" y2="401.83" stroke="#000" stroke-width="0.7"/>
<line x1="445.5" y1="401.83" x2="443.6" y2="401.83" stroke="#000" stroke-width="0.7"/>
<text x="275.3" y="409.1" font-size="7.5" text-anchor="end">0.2</text>
<line x1="277.5" y1="396.64" x2="281.2" y2="396.64" stroke="#000" stroke-width="0.7"/>
<line x1="445.5" y1="396.64" x2="442.2" y2="396.64" stroke="#000" stroke-width="0.7"/>
<line x1="277.5" y1="391.45" x2="279.6" y2="391.45" stroke="#000" stroke-width="0.7"/>
<line x1="445.5" y1="391.45" x2="443.6" y2="391.45" stroke="#000" stroke-width="0.7"/>
<text x="275.3" y="398.7" font-size="7.5" text-anchor="end">0.4</text>
<line x1="277.5" y1="386.26" x2="281.2" y2="386.26" stroke="#000" stroke-width="0.7"/>
<line x1="445.5" y1="386.26" x2="442.2" y2="386.26" stroke="#000" stroke-width="0.7"/>
<line x1="277.5" y1="381.07" x2="279.6" y2="381.07" stroke="#000" stroke-width="0.7"/>
<line x1="445.5" y1="381.07" x2="443.6" y2="381.07" stroke="#000" stroke-width="0.7"/>
<text x="275.3" y="388.3" font-size="7.5" text-anchor="end">0.6</text>
<line x1="277.5" y1="375.88" x2="281.2" y2="375.88" stroke="#000" stroke-width="0.7"/>
<line x1="445.5" y1="375.88" x2="442.2" y2="375.88" stroke="#000" stroke-width="0.7"/>
<line x1="277.5" y1="370.69" x2="279.6" y2="370.69" stroke="#000" stroke-width="0.7"/>
<line x1="445.5" y1="370.69" x2="443.6" y2="370.69" stroke="#000" stroke-width="0.7"/>
<text x="275.3" y="377.9" font-size="7.5" text-anchor="end">0.8</text>
<line x1="277.5" y1="365.5" x2="281.2" y2="365.5" stroke="#000" stroke-width="0.7"/>
<line x1="445.5" y1="365.5" x2="442.2" y2="365.5" stroke="#000" stroke-width="0.7"/>
<line x1="277.5" y1="360.31" x2="279.6" y2="360.31" stroke="#000" stroke-width="0.7"/>
<line x1="445.5" y1="360.31" x2="443.6" y2="360.31" stroke="#000" stroke-width="0.7"/>
<text x="275.3" y="367.5" font-size="7.5" text-anchor="end">1.0</text>
<line x1="277.5" y1="355.12" x2="281.2" y2="355.12" stroke="#000" stroke-width="0.7"/>
<line x1="445.5" y1="355.12" x2="442.2" y2="355.12" stroke="#000" stroke-width="0.7"/>
<line x1="277.5" y1="349.93" x2="279.6" y2="349.93" stroke="#000" stroke-width="0.7"/>
<line x1="445.5" y1="349.93" x2="443.6" y2="349.93" stroke="#000" stroke-width="0.7"/>
<text x="275.3" y="357.1" font-size="7.5" text-anchor="end">1.2</text>
<line x1="277.5" y1="344.74" x2="281.2" y2="344.74" stroke="#000" stroke-width="0.7"/>
<line x1="445.5" y1="344.74" x2="442.2" y2="344.74" stroke="#000" stroke-width="0.7"/>
<line x1="277.5" y1="339.55" x2="279.6" y2="339.55" stroke="#000" stroke-width="0.7"/>
<line x1="445.5" y1="339.55" x2="443.6" y2="339.55" stroke="#000" stroke-width="0.7"/>
<text x="275.3" y="346.7" font-size="7.5" text-anchor="end">1.4</text>
<line x1="277.5" y1="334.36" x2="281.2" y2="334.36" stroke="#000" stroke-width="0.7"/>
<line x1="445.5" y1="334.36" x2="442.2" y2="334.36" stroke="#000" stroke-width="0.7"/>
<line x1="277.5" y1="329.17" x2="279.6" y2="329.17" stroke="#000" stroke-width="0.7"/>
<line x1="445.5" y1="329.17" x2="443.6" y2="329.17" stroke="#000" stroke-width="0.7"/>
<text x="275.3" y="336.3" font-size="7.5" text-anchor="end">1.6</text>
<text x="275.3" y="325.9" font-size="7.5" text-anchor="end">1.8</text>
<line x1="279.13" y1="417.4" x2="279.13" y2="415.7" stroke="#000" stroke-width="0.7"/>
<line x1="279.13" y1="323.95" x2="279.13" y2="325.65" stroke="#000" stroke-width="0.7"/>
<line x1="282.56" y1="417.4" x2="282.56" y2="415.7" stroke="#000" stroke-width="0.7"/>
<line x1="282.56" y1="323.95" x2="282.56" y2="325.65" stroke="#000" stroke-width="0.7"/>
<line x1="285.98" y1="417.4" x2="285.98" y2="415.7" stroke="#000" stroke-width="0.7"/>
<line x1="285.98" y1="323.95" x2="285.98" y2="325.65" stroke="#000" stroke-width="0.7"/>
<line x1="289.41" y1="417.4" x2="289.41" y2="415.7" stroke="#000" stroke-width="0.7"/>
<line x1="289.41" y1="323.95" x2="289.41" y2="325.65" stroke="#000" stroke-width="0.7"/>
<line x1="292.84" y1="417.4" x2="292.84" y2="414.1" stroke="#000" stroke-width="0.7"/>
<line x1="292.84" y1="323.95" x2="292.84" y2="327.25" stroke="#000" stroke-width="0.7"/>
<line x1="296.27" y1="417.4" x2="296.27" y2="415.7" stroke="#000" stroke-width="0.7"/>
<line x1="296.27" y1="323.95" x2="296.27" y2="325.65" stroke="#000" stroke-width="0.7"/>
<line x1="299.7" y1="417.4" x2="299.7" y2="415.7" stroke="#000" stroke-width="0.7"/>
<line x1="299.7" y1="323.95" x2="299.7" y2="325.65" stroke="#000" stroke-width="0.7"/>
<line x1="303.12" y1="417.4" x2="303.12" y2="415.7" stroke="#000" stroke-width="0.7"/>
<line x1="303.12" y1="323.95" x2="303.12" y2="325.65" stroke="#000" stroke-width="0.7"/>
<line x1="306.55" y1="417.4" x2="306.55" y2="415.7" stroke="#000" stroke-width="0.7"/>
<line x1="306.55" y1="323.95" x2="306.55" y2="325.65" stroke="#000" stroke-width="0.7"/>
<line x1="309.98" y1="417.4" x2="309.98" y2="415.7" stroke="#000" stroke-width="0.7"/>
<line x1="309.98" y1="323.95" x2="309.98" y2="325.65" stroke="#000" stroke-width="0.7"/>
<line x1="313.41" y1="417.4" x2="313.41" y2="415.7" stroke="#000" stroke-width="0.7"/>
<line x1="313.41" y1="323.95" x2="313.41" y2="325.65" stroke="#000" stroke-width="0.7"/>
<line x1="316.84" y1="417.4" x2="316.84" y2="415.7" stroke="#000" stroke-width="0.7"/>
<line x1="316.84" y1="323.95" x2="316.84" y2="325.65" stroke="#000" stroke-width="0.7"/>
<line x1="320.26" y1="417.4" x2="320.26" y2="415.7" stroke="#000" stroke-width="0.7"/>
<line x1="320.26" y1="323.95" x2="320.26" y2="325.65" stroke="#000" stroke-width="0.7"/>
<line x1="323.69" y1="417.4" x2="323.69" y2="415.7" stroke="#000" stroke-width="0.7"/>
<line x1="323.69" y1="323.95" x2="323.69" y2="325.65" stroke="#000" stroke-width="0.7"/>
<line x1="327.12" y1="417.4" x2="327.12" y2="414.1" stroke="#000" stroke-width="0.7"/>
<line x1="327.12" y1="323.95" x2="327.12" y2="327.25" stroke="#000" stroke-width="0.7"/>
<line x1="330.55" y1="417.4" x2="330.55" y2="415.7" stroke="#000" stroke-width="0.7"/>
<line x1="330.55" y1="323.95" x2="330.55" y2="325.65" stroke="#000" stroke-width="0.7"/>
<line x1="333.98" y1="417.4" x2="333.98" y2="415.7" stroke="#000" stroke-width="0.7"/>
<line x1="333.98" y1="323.95" x2="333.98" y2="325.65" stroke="#000" stroke-width="0.7"/>
<line x1="337.4" y1="417.4" x2="337.4" y2="415.7" stroke="#000" stroke-width="0.7"/>
<line x1="337.4" y1="323.95" x2="337.4" y2="325.65" stroke="#000" stroke-width="0.7"/>
<line x1="340.83" y1="417.4" x2="340.83" y2="415.7" stroke="#000" stroke-width="0.7"/>
<line x1="340.83" y1="323.95" x2="340.83" y2="325.65" stroke="#000" stroke-width="0.7"/>
<line x1="344.26" y1="417.4" x2="344.26" y2="415.7" stroke="#000" stroke-width="0.7"/>
<line x1="344.26" y1="323.95" x2="344.26" y2="325.65" stroke="#000" stroke-width="0.7"/>
<line x1="347.69" y1="417.4" x2="347.69" y2="415.7" stroke="#000" stroke-width="0.7"/>
<line x1="347.69" y1="323.95" x2="347.69" y2="325.65" stroke="#000" stroke-width="0.7"/>
<line x1="351.12" y1="417.4" x2="351.12" y2="415.7" stroke="#000" stroke-width="0.7"/>
<line x1="351.12" y1="323.95" x2="351.12" y2="325.65" stroke="#000" stroke-width="0.7"/>
<line x1="354.54" y1="417.4" x2="354.54" y2="415.7" stroke="#000" stroke-width="0.7"/>
<line x1="354.54" y1="323.95" x2="354.54" y2="325.65" stroke="#000" stroke-width="0.7"/>
<line x1="357.97" y1="417.4" x2="357.97" y2="415.7" stroke="#000" stroke-width="0.7"/>
<line x1="357.97" y1="323.95" x2="357.97" y2="325.65" stroke="#000" stroke-width="0.7"/>
<line x1="361.4" y1="417.4" x2="361.4" y2="414.1" stroke="#000" stroke-width="0.7"/>
<line x1="361.4" y1="323.95" x2="361.4" y2="327.25" stroke="#000" stroke-width="0.7"/>
<line x1="364.83" y1="417.4" x2="364.83" y2="415.7" stroke="#000" stroke-width="0.7"/>
<line x1="364.83" y1="323.95" x2="364.83" y2="325.65" stroke="#000" stroke-width="0.7"/>
<line x1="368.26" y1="417.4" x2="368.26" y2="415.7" stroke="#000" stroke-width="0.7"/>
<line x1="368.26" y1="323.95" x2="368.26" y2="325.65" stroke="#000" stroke-width="0.7"/>
<line x1="371.68" y1="417.4" x2="371.68" y2="415.7" stroke="#000" stroke-width="0.7"/>
<line x1="371.68" y1="323.95" x2="371.68" y2="325.65" stroke="#000" stroke-width="0.7"/>
<line x1="375.11" y1="417.4" x2="375.11" y2="415.7" stroke="#000" stroke-width="0.7"/>
<line x1="375.11" y1="323.95" x2="375.11" y2="325.65" stroke="#000" stroke-width="0.7"/>
<line x1="378.54" y1="417.4" x2="378.54" y2="415.7" stroke="#000" stroke-width="0.7"/>
<line x1="378.54" y1="323.95" x2="378.54" y2="325.65" stroke="#000" stroke-width="0.7"/>
<line x1="381.97" y1="417.4" x2="381.97" y2="415.7" stroke="#000" stroke-width="0.7"/>
<line x1="381.97" y1="323.95" x2="381.97" y2="325.65" stroke="#000" stroke-width="0.7"/>
<line x1="385.4" y1="417.4" x2="385.4" y2="415.7" stroke="#000" stroke-width="0.7"/>
<line x1="385.4" y1="323.95" x2="385.4" y2="325.65" stroke="#000" stroke-width="0.7"/>
<line x1="388.82" y1="417.4" x2="388.82" y2="415.7" stroke="#000" stroke-width="0.7"/>
<line x1="388.82" y1="323.95" x2="388.82" y2="325.65" stroke="#000" stroke-width="0.7"/>
<line x1="392.25" y1="417.4" x2="392.25" y2="415.7" stroke="#000" stroke-width="0.7"/>
<line x1="392.25" y1="323.95" x2="392.25" y2="325.65" stroke="#000" stroke-width="0.7"/>
<line x1="395.68" y1="417.4" x2="395.68" y2="414.1" stroke="#000" stroke-width="0.7"/>
<line x1="395.68" y1="323.95" x2="395.68" y2="327.25" stroke="#000" stroke-width="0.7"/>
<line x1="399.11" y1="417.4" x2="399.11" y2="415.7" stroke="#000" stroke-width="0.7"/>
<line x1="399.11" y1="323.95" x2="399.11" y2="325.65" stroke="#000" stroke-width="0.7"/>
<line x1="402.54" y1="417.4" x2="402.54" y2="415.7" stroke="#000" stroke-width="0.7"/>
<line x1="402.54" y1="323.95" x2="402.54" y2="325.65" stroke="#000" stroke-width="0.7"/>
<line x1="405.96" y1="417.4" x2="405.96" y2="415.7" stroke="#000" stroke-width="0.7"/>
<line x1="405.96" y1="323.95" x2="405.96" y2="325.65" stroke="#000" stroke-width="0.7"/>
<line x1="409.39" y1="417.4" x2="409.39" y2="415.7" stroke="#000" stroke-width="0.7"/>
<line x1="409.39" y1="323.95" x2="409.39" y2="325.65" stroke="#000" stroke-width="0.7"/>
<line x1="412.82" y1="417.4" x2="412.82" y2="415.7" stroke="#000" stroke-width="0.7"/>
<line x1="412.82" y1="323.95" x2="412.82" y2="325.65" stroke="#000" stroke-width="0.7"/>
<line x1="416.25" y1="417.4" x2="416.25" y2="415.7" stroke="#000" stroke-width="0.7"/>
<line x1="416.25" y1="323.95" x2="416.25" y2="325.65" stroke="#000" stroke-width="0.7"/>
<line x1="419.68" y1="417.4" x2="419.68" y2="415.7" stroke="#000" stroke-width="0.7"/>
<line x1="419.68" y1="323.95" x2="419.68" y2="325.65" stroke="#000" stroke-width="0.7"/>
<line x1="423.1" y1="417.4" x2="423.1" y2="415.7" stroke="#000" stroke-width="0.7"/>
<line x1="423.1" y1="323.95" x2="423.1" y2="325.65" stroke="#000" stroke-width="0.7"/>
<line x1="426.53" y1="417.4" x2="426.53" y2="415.7" stroke="#000" stroke-width="0.7"/>
<line x1="426.53" y1="323.95" x2="426.53" y2="325.65" stroke="#000" stroke-width="0.7"/>
<line x1="429.96" y1="417.4" x2="429.96" y2="414.1" stroke="#000" stroke-width="0.7"/>
<line x1="429.96" y1="323.95" x2="429.96" y2="327.25" stroke="#000" stroke-width="0.7"/>
<line x1="433.39" y1="417.4" x2="433.39" y2="415.7" stroke="#000" stroke-width="0.7"/>
<line x1="433.39" y1="323.95" x2="433.39" y2="325.65" stroke="#000" stroke-width="0.7"/>
<line x1="436.82" y1="417.4" x2="436.82" y2="415.7" stroke="#000" stroke-width="0.7"/>
<line x1="436.82" y1="323.95" x2="436.82" y2="325.65" stroke="#000" stroke-width="0.7"/>
<line x1="440.24" y1="417.4" x2="440.24" y2="415.7" stroke="#000" stroke-width="0.7"/>
<line x1="440.24" y1="323.95" x2="440.24" y2="325.65" stroke="#000" stroke-width="0.7"/>
<line x1="443.67" y1="417.4" x2="443.67" y2="415.7" stroke="#000" stroke-width="0.7"/>
<line x1="443.67" y1="323.95" x2="443.67" y2="325.65" stroke="#000" stroke-width="0.7"/>
<text x="292.44" y="426.3" font-size="9.1" text-anchor="middle">-40</text>
<text x="326.72" y="426.3" font-size="9.1" text-anchor="middle">-20</text>
<text x="361.5" y="426.3" font-size="9.1" text-anchor="middle">0</text>
<text x="395.78" y="426.3" font-size="9.1" text-anchor="middle">20</text>
<text x="430.06" y="426.3" font-size="9.1" text-anchor="middle">40</text>
<text x="326.4" y="434.8" font-size="10" textLength="68.8" lengthAdjust="spacingAndGlyphs">Time Delay τ (ns)</text>
<text x="254" y="379.8" font-size="9.4" transform="rotate(-90 254 379.8)" textLength="23.3" lengthAdjust="spacingAndGlyphs">g<tspan font-size="6.6" dy="-4.2">(2)</tspan><tspan dy="4.2">(τ)</tspan></text>
</svg></body></html>
